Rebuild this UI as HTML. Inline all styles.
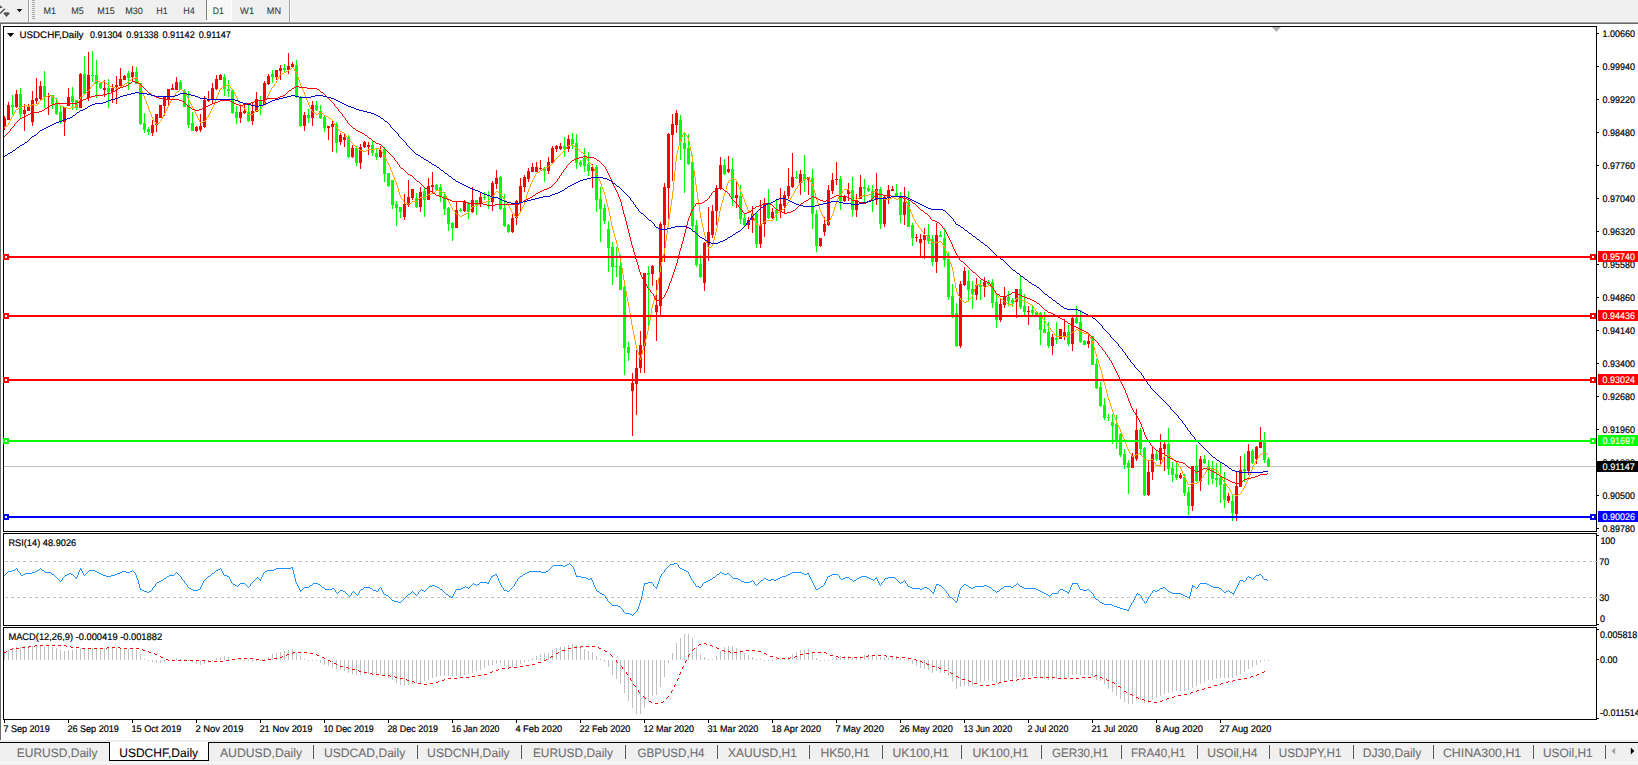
<!DOCTYPE html><html><head><meta charset="utf-8"><title>USDCHF,Daily</title><style>html,body{margin:0;padding:0;background:#f0f0f0;overflow:hidden}body{width:1638px;height:765px;font-family:"Liberation Sans",sans-serif}</style></head><body><svg width="1638" height="765" viewBox="0 0 1638 765" shape-rendering="crispEdges" text-rendering="geometricPrecision" font-family="Liberation Sans, sans-serif" style="display:block">
<rect x="0" y="0" width="1638" height="765" fill="#f0f0f0"/>
<rect x="0" y="21" width="1638" height="1" fill="#f5f5f5"/>
<rect x="0" y="22" width="1638" height="1" fill="#a0a0a0"/>
<rect x="0" y="23" width="1638" height="1" fill="#696969"/>
<rect x="0" y="24" width="1638" height="716" fill="#ffffff"/>
<rect x="0" y="24" width="1" height="716" fill="#696969"/>
<g shape-rendering="geometricPrecision">
<path d="M0 5.2 L2.8 7.4 L0 8.2 Z" fill="#555"/>
<path d="M0 12.6 L4.3 8.2 L5.3 9.2 L0.9 13.8 L0 13.8 Z" fill="#555"/>
<path d="M3.2 13.3 L5.4 11.9 L6.4 12.6 L7.6 11.9 L10 13.3 L6.5 17 Z" fill="#555"/>
<path d="M16.7 8.9 L22.3 8.9 L19.5 12.3 Z" fill="#111"/>
</g>
<rect x="28" y="0" width="1" height="22" fill="#a0a0a0"/>
<rect x="29" y="0" width="1" height="22" fill="#ffffff"/>
<rect x="32" y="0" width="3" height="1" fill="#a8a8a8"/>
<rect x="32" y="2" width="3" height="1" fill="#a8a8a8"/>
<rect x="32" y="4" width="3" height="1" fill="#a8a8a8"/>
<rect x="32" y="6" width="3" height="1" fill="#a8a8a8"/>
<rect x="32" y="8" width="3" height="1" fill="#a8a8a8"/>
<rect x="32" y="10" width="3" height="1" fill="#a8a8a8"/>
<rect x="32" y="12" width="3" height="1" fill="#a8a8a8"/>
<rect x="32" y="14" width="3" height="1" fill="#a8a8a8"/>
<rect x="32" y="16" width="3" height="1" fill="#a8a8a8"/>
<rect x="32" y="18" width="3" height="1" fill="#a8a8a8"/>
<rect x="206" y="0" width="1" height="20" fill="#808080"/>
<rect x="207" y="0" width="24" height="20" fill="#f8f8f8"/>
<rect x="231" y="0" width="1" height="21" fill="#ffffff"/>
<rect x="207" y="20" width="25" height="1" fill="#ffffff"/>
<rect x="289" y="0" width="1" height="22" fill="#a0a0a0"/>
<rect x="290" y="0" width="1" height="22" fill="#ffffff"/>
<text x="43.6" y="13.8" font-size="9.3" fill="#3c3c3c" textLength="12.5" lengthAdjust="spacingAndGlyphs"  stroke="#3c3c3c" stroke-width="0.1">M1</text>
<text x="71.3" y="13.8" font-size="9.3" fill="#3c3c3c" textLength="12.5" lengthAdjust="spacingAndGlyphs"  stroke="#3c3c3c" stroke-width="0.1">M5</text>
<text x="97.3" y="13.8" font-size="9.3" fill="#3c3c3c" textLength="17.5" lengthAdjust="spacingAndGlyphs"  stroke="#3c3c3c" stroke-width="0.1">M15</text>
<text x="125.2" y="13.8" font-size="9.3" fill="#3c3c3c" textLength="17.5" lengthAdjust="spacingAndGlyphs"  stroke="#3c3c3c" stroke-width="0.1">M30</text>
<text x="156.2" y="13.8" font-size="9.3" fill="#3c3c3c" textLength="11.5" lengthAdjust="spacingAndGlyphs"  stroke="#3c3c3c" stroke-width="0.1">H1</text>
<text x="183.3" y="13.8" font-size="9.3" fill="#3c3c3c" textLength="11.5" lengthAdjust="spacingAndGlyphs"  stroke="#3c3c3c" stroke-width="0.1">H4</text>
<text x="212.8" y="13.8" font-size="9.3" fill="#3c3c3c" textLength="11.1" lengthAdjust="spacingAndGlyphs"  stroke="#3c3c3c" stroke-width="0.1">D1</text>
<text x="240.1" y="13.8" font-size="9.3" fill="#3c3c3c" textLength="14" lengthAdjust="spacingAndGlyphs"  stroke="#3c3c3c" stroke-width="0.1">W1</text>
<text x="266.8" y="13.8" font-size="9.3" fill="#3c3c3c" textLength="14.2" lengthAdjust="spacingAndGlyphs"  stroke="#3c3c3c" stroke-width="0.1">MN</text>
<rect x="3" y="26" width="1594" height="1" fill="#000"/>
<rect x="3" y="26" width="1" height="506" fill="#000"/>
<rect x="1596" y="26" width="1" height="506" fill="#000"/>
<rect x="3" y="531" width="1594" height="1" fill="#000"/>
<rect x="3" y="533" width="1594" height="1" fill="#000"/>
<rect x="3" y="533" width="1" height="93" fill="#000"/>
<rect x="1596" y="533" width="1" height="93" fill="#000"/>
<rect x="3" y="625" width="1594" height="1" fill="#000"/>
<rect x="3" y="627" width="1594" height="1" fill="#000"/>
<rect x="3" y="627" width="1" height="93" fill="#000"/>
<rect x="1596" y="627" width="1" height="93" fill="#000"/>
<rect x="3" y="719" width="1594" height="1" fill="#000"/>
<rect x="4" y="466" width="1592" height="1" fill="#c0c0c0"/>
<g>
<rect x="4" y="116" width="1" height="14" fill="#ff0000"/>
<rect x="4" y="118" width="2" height="8" fill="#ff0000"/>
<rect x="8" y="102" width="1" height="18" fill="#ff0000"/>
<rect x="7" y="105" width="3" height="15" fill="#ff0000"/>
<rect x="12" y="95" width="1" height="20" fill="#00ff00"/>
<rect x="11" y="105" width="3" height="2" fill="#00ff00"/>
<rect x="16" y="90" width="1" height="18" fill="#ff0000"/>
<rect x="15" y="94" width="3" height="13" fill="#ff0000"/>
<rect x="20" y="88" width="1" height="30" fill="#00ff00"/>
<rect x="19" y="94" width="3" height="20" fill="#00ff00"/>
<rect x="24" y="104" width="1" height="27" fill="#ff0000"/>
<rect x="23" y="110" width="3" height="4" fill="#ff0000"/>
<rect x="28" y="104" width="1" height="7" fill="#ff0000"/>
<rect x="27" y="106" width="3" height="5" fill="#ff0000"/>
<rect x="32" y="91" width="1" height="35" fill="#ff0000"/>
<rect x="31" y="100" width="3" height="22" fill="#ff0000"/>
<rect x="36" y="78" width="1" height="26" fill="#ff0000"/>
<rect x="35" y="98" width="3" height="3" fill="#ff0000"/>
<rect x="40" y="81" width="1" height="19" fill="#ff0000"/>
<rect x="39" y="86" width="3" height="13" fill="#ff0000"/>
<rect x="44" y="71" width="1" height="37" fill="#00ff00"/>
<rect x="43" y="86" width="3" height="11" fill="#00ff00"/>
<rect x="48" y="93" width="1" height="22" fill="#ff0000"/>
<rect x="47" y="96" width="3" height="1" fill="#ff0000"/>
<rect x="52" y="95" width="1" height="14" fill="#00ff00"/>
<rect x="51" y="95" width="3" height="9" fill="#00ff00"/>
<rect x="56" y="98" width="1" height="17" fill="#00ff00"/>
<rect x="55" y="104" width="3" height="10" fill="#00ff00"/>
<rect x="60" y="106" width="1" height="18" fill="#00ff00"/>
<rect x="59" y="112" width="3" height="9" fill="#00ff00"/>
<rect x="64" y="107" width="1" height="29" fill="#ff0000"/>
<rect x="63" y="107" width="3" height="15" fill="#ff0000"/>
<rect x="68" y="88" width="1" height="18" fill="#ff0000"/>
<rect x="67" y="97" width="3" height="9" fill="#ff0000"/>
<rect x="72" y="87" width="1" height="23" fill="#00ff00"/>
<rect x="71" y="96" width="3" height="6" fill="#00ff00"/>
<rect x="76" y="100" width="1" height="10" fill="#00ff00"/>
<rect x="75" y="100" width="3" height="8" fill="#00ff00"/>
<rect x="80" y="73" width="1" height="35" fill="#ff0000"/>
<rect x="79" y="74" width="3" height="34" fill="#ff0000"/>
<rect x="84" y="56" width="1" height="38" fill="#00ff00"/>
<rect x="83" y="74" width="3" height="20" fill="#00ff00"/>
<rect x="88" y="52" width="1" height="49" fill="#ff0000"/>
<rect x="87" y="75" width="3" height="23" fill="#ff0000"/>
<rect x="92" y="51" width="1" height="31" fill="#00ff00"/>
<rect x="91" y="75" width="3" height="1" fill="#00ff00"/>
<rect x="96" y="60" width="1" height="38" fill="#00ff00"/>
<rect x="95" y="75" width="3" height="9" fill="#00ff00"/>
<rect x="100" y="82" width="1" height="7" fill="#00ff00"/>
<rect x="99" y="83" width="3" height="5" fill="#00ff00"/>
<rect x="104" y="80" width="1" height="17" fill="#ff0000"/>
<rect x="103" y="88" width="3" height="2" fill="#ff0000"/>
<rect x="108" y="79" width="1" height="29" fill="#00ff00"/>
<rect x="107" y="88" width="3" height="4" fill="#00ff00"/>
<rect x="112" y="84" width="1" height="19" fill="#ff0000"/>
<rect x="111" y="88" width="3" height="4" fill="#ff0000"/>
<rect x="116" y="76" width="1" height="28" fill="#ff0000"/>
<rect x="115" y="85" width="3" height="2" fill="#ff0000"/>
<rect x="120" y="68" width="1" height="18" fill="#ff0000"/>
<rect x="119" y="79" width="3" height="7" fill="#ff0000"/>
<rect x="124" y="75" width="1" height="5" fill="#ff0000"/>
<rect x="123" y="76" width="3" height="4" fill="#ff0000"/>
<rect x="128" y="71" width="1" height="19" fill="#00ff00"/>
<rect x="127" y="73" width="3" height="5" fill="#00ff00"/>
<rect x="132" y="66" width="1" height="15" fill="#ff0000"/>
<rect x="131" y="72" width="3" height="5" fill="#ff0000"/>
<rect x="136" y="67" width="1" height="17" fill="#00ff00"/>
<rect x="135" y="72" width="3" height="12" fill="#00ff00"/>
<rect x="140" y="83" width="1" height="42" fill="#00ff00"/>
<rect x="139" y="83" width="3" height="41" fill="#00ff00"/>
<rect x="144" y="113" width="1" height="20" fill="#00ff00"/>
<rect x="143" y="123" width="3" height="7" fill="#00ff00"/>
<rect x="148" y="127" width="1" height="8" fill="#00ff00"/>
<rect x="147" y="129" width="3" height="3" fill="#00ff00"/>
<rect x="152" y="120" width="1" height="16" fill="#ff0000"/>
<rect x="151" y="125" width="3" height="8" fill="#ff0000"/>
<rect x="156" y="114" width="1" height="18" fill="#ff0000"/>
<rect x="155" y="114" width="3" height="11" fill="#ff0000"/>
<rect x="160" y="105" width="1" height="13" fill="#ff0000"/>
<rect x="159" y="105" width="3" height="13" fill="#ff0000"/>
<rect x="164" y="96" width="1" height="20" fill="#ff0000"/>
<rect x="163" y="97" width="3" height="9" fill="#ff0000"/>
<rect x="168" y="89" width="1" height="17" fill="#ff0000"/>
<rect x="167" y="89" width="3" height="11" fill="#ff0000"/>
<rect x="172" y="84" width="1" height="6" fill="#ff0000"/>
<rect x="171" y="88" width="3" height="2" fill="#ff0000"/>
<rect x="176" y="77" width="1" height="13" fill="#ff0000"/>
<rect x="175" y="82" width="3" height="8" fill="#ff0000"/>
<rect x="180" y="80" width="1" height="10" fill="#00ff00"/>
<rect x="179" y="82" width="3" height="8" fill="#00ff00"/>
<rect x="184" y="89" width="1" height="18" fill="#00ff00"/>
<rect x="183" y="91" width="3" height="16" fill="#00ff00"/>
<rect x="188" y="91" width="1" height="37" fill="#00ff00"/>
<rect x="187" y="105" width="3" height="20" fill="#00ff00"/>
<rect x="192" y="112" width="1" height="19" fill="#00ff00"/>
<rect x="191" y="123" width="3" height="8" fill="#00ff00"/>
<rect x="196" y="126" width="1" height="6" fill="#ff0000"/>
<rect x="195" y="127" width="3" height="4" fill="#ff0000"/>
<rect x="200" y="114" width="1" height="18" fill="#ff0000"/>
<rect x="199" y="126" width="3" height="4" fill="#ff0000"/>
<rect x="204" y="96" width="1" height="32" fill="#ff0000"/>
<rect x="203" y="100" width="3" height="27" fill="#ff0000"/>
<rect x="208" y="91" width="1" height="11" fill="#ff0000"/>
<rect x="207" y="99" width="3" height="2" fill="#ff0000"/>
<rect x="212" y="83" width="1" height="21" fill="#ff0000"/>
<rect x="211" y="88" width="3" height="12" fill="#ff0000"/>
<rect x="216" y="75" width="1" height="15" fill="#ff0000"/>
<rect x="215" y="79" width="3" height="10" fill="#ff0000"/>
<rect x="220" y="74" width="1" height="6" fill="#ff0000"/>
<rect x="219" y="75" width="3" height="5" fill="#ff0000"/>
<rect x="224" y="74" width="1" height="22" fill="#00ff00"/>
<rect x="223" y="77" width="3" height="12" fill="#00ff00"/>
<rect x="228" y="80" width="1" height="17" fill="#00ff00"/>
<rect x="227" y="89" width="3" height="2" fill="#00ff00"/>
<rect x="232" y="90" width="1" height="24" fill="#00ff00"/>
<rect x="231" y="90" width="3" height="23" fill="#00ff00"/>
<rect x="236" y="106" width="1" height="18" fill="#00ff00"/>
<rect x="235" y="112" width="3" height="6" fill="#00ff00"/>
<rect x="240" y="105" width="1" height="18" fill="#ff0000"/>
<rect x="239" y="112" width="3" height="6" fill="#ff0000"/>
<rect x="244" y="104" width="1" height="10" fill="#ff0000"/>
<rect x="243" y="111" width="3" height="2" fill="#ff0000"/>
<rect x="248" y="105" width="1" height="17" fill="#00ff00"/>
<rect x="247" y="112" width="3" height="9" fill="#00ff00"/>
<rect x="252" y="102" width="1" height="23" fill="#ff0000"/>
<rect x="251" y="111" width="3" height="10" fill="#ff0000"/>
<rect x="256" y="92" width="1" height="20" fill="#ff0000"/>
<rect x="255" y="99" width="3" height="13" fill="#ff0000"/>
<rect x="260" y="96" width="1" height="19" fill="#00ff00"/>
<rect x="259" y="100" width="3" height="5" fill="#00ff00"/>
<rect x="264" y="81" width="1" height="24" fill="#ff0000"/>
<rect x="263" y="83" width="3" height="22" fill="#ff0000"/>
<rect x="268" y="74" width="1" height="11" fill="#ff0000"/>
<rect x="267" y="76" width="3" height="8" fill="#ff0000"/>
<rect x="272" y="70" width="1" height="13" fill="#00ff00"/>
<rect x="271" y="74" width="3" height="3" fill="#00ff00"/>
<rect x="276" y="70" width="1" height="10" fill="#ff0000"/>
<rect x="275" y="70" width="3" height="7" fill="#ff0000"/>
<rect x="280" y="65" width="1" height="15" fill="#ff0000"/>
<rect x="279" y="68" width="3" height="3" fill="#ff0000"/>
<rect x="284" y="64" width="1" height="8" fill="#00ff00"/>
<rect x="283" y="68" width="3" height="2" fill="#00ff00"/>
<rect x="288" y="53" width="1" height="21" fill="#ff0000"/>
<rect x="287" y="66" width="3" height="4" fill="#ff0000"/>
<rect x="292" y="62" width="1" height="5" fill="#ff0000"/>
<rect x="291" y="64" width="3" height="3" fill="#ff0000"/>
<rect x="296" y="60" width="1" height="38" fill="#00ff00"/>
<rect x="295" y="65" width="3" height="31" fill="#00ff00"/>
<rect x="300" y="96" width="1" height="31" fill="#00ff00"/>
<rect x="299" y="97" width="3" height="29" fill="#00ff00"/>
<rect x="304" y="112" width="1" height="19" fill="#ff0000"/>
<rect x="303" y="115" width="3" height="11" fill="#ff0000"/>
<rect x="308" y="109" width="1" height="14" fill="#00ff00"/>
<rect x="307" y="115" width="3" height="3" fill="#00ff00"/>
<rect x="312" y="101" width="1" height="25" fill="#ff0000"/>
<rect x="311" y="105" width="3" height="13" fill="#ff0000"/>
<rect x="316" y="101" width="1" height="10" fill="#00ff00"/>
<rect x="315" y="105" width="3" height="5" fill="#00ff00"/>
<rect x="320" y="105" width="1" height="14" fill="#00ff00"/>
<rect x="319" y="111" width="3" height="7" fill="#00ff00"/>
<rect x="324" y="116" width="1" height="16" fill="#00ff00"/>
<rect x="323" y="117" width="3" height="11" fill="#00ff00"/>
<rect x="328" y="126" width="1" height="14" fill="#ff0000"/>
<rect x="327" y="126" width="3" height="2" fill="#ff0000"/>
<rect x="332" y="121" width="1" height="31" fill="#ff0000"/>
<rect x="331" y="124" width="3" height="3" fill="#ff0000"/>
<rect x="336" y="122" width="1" height="31" fill="#00ff00"/>
<rect x="335" y="124" width="3" height="19" fill="#00ff00"/>
<rect x="340" y="133" width="1" height="12" fill="#ff0000"/>
<rect x="339" y="135" width="3" height="7" fill="#ff0000"/>
<rect x="344" y="134" width="1" height="13" fill="#ff0000"/>
<rect x="343" y="137" width="3" height="3" fill="#ff0000"/>
<rect x="348" y="135" width="1" height="23" fill="#00ff00"/>
<rect x="347" y="137" width="3" height="20" fill="#00ff00"/>
<rect x="352" y="145" width="1" height="13" fill="#ff0000"/>
<rect x="351" y="148" width="3" height="9" fill="#ff0000"/>
<rect x="356" y="146" width="1" height="20" fill="#00ff00"/>
<rect x="355" y="148" width="3" height="15" fill="#00ff00"/>
<rect x="360" y="144" width="1" height="25" fill="#ff0000"/>
<rect x="359" y="147" width="3" height="16" fill="#ff0000"/>
<rect x="364" y="141" width="1" height="7" fill="#ff0000"/>
<rect x="363" y="142" width="3" height="5" fill="#ff0000"/>
<rect x="368" y="142" width="1" height="13" fill="#ff0000"/>
<rect x="367" y="145" width="3" height="2" fill="#ff0000"/>
<rect x="372" y="140" width="1" height="16" fill="#00ff00"/>
<rect x="371" y="145" width="3" height="8" fill="#00ff00"/>
<rect x="376" y="149" width="1" height="11" fill="#00ff00"/>
<rect x="375" y="153" width="3" height="4" fill="#00ff00"/>
<rect x="380" y="146" width="1" height="12" fill="#ff0000"/>
<rect x="379" y="150" width="3" height="7" fill="#ff0000"/>
<rect x="384" y="147" width="1" height="35" fill="#00ff00"/>
<rect x="383" y="149" width="3" height="25" fill="#00ff00"/>
<rect x="388" y="173" width="1" height="14" fill="#00ff00"/>
<rect x="387" y="173" width="3" height="13" fill="#00ff00"/>
<rect x="392" y="180" width="1" height="29" fill="#00ff00"/>
<rect x="391" y="180" width="3" height="25" fill="#00ff00"/>
<rect x="396" y="201" width="1" height="25" fill="#00ff00"/>
<rect x="395" y="204" width="3" height="4" fill="#00ff00"/>
<rect x="400" y="207" width="1" height="11" fill="#00ff00"/>
<rect x="399" y="207" width="3" height="5" fill="#00ff00"/>
<rect x="404" y="194" width="1" height="26" fill="#ff0000"/>
<rect x="403" y="204" width="3" height="13" fill="#ff0000"/>
<rect x="408" y="180" width="1" height="27" fill="#ff0000"/>
<rect x="407" y="197" width="3" height="8" fill="#ff0000"/>
<rect x="412" y="189" width="1" height="11" fill="#ff0000"/>
<rect x="411" y="189" width="3" height="9" fill="#ff0000"/>
<rect x="416" y="193" width="1" height="15" fill="#00ff00"/>
<rect x="415" y="198" width="3" height="9" fill="#00ff00"/>
<rect x="420" y="187" width="1" height="25" fill="#ff0000"/>
<rect x="419" y="192" width="3" height="15" fill="#ff0000"/>
<rect x="424" y="188" width="1" height="29" fill="#00ff00"/>
<rect x="423" y="191" width="3" height="9" fill="#00ff00"/>
<rect x="428" y="178" width="1" height="22" fill="#ff0000"/>
<rect x="427" y="186" width="3" height="14" fill="#ff0000"/>
<rect x="432" y="172" width="1" height="20" fill="#ff0000"/>
<rect x="431" y="185" width="3" height="2" fill="#ff0000"/>
<rect x="436" y="184" width="1" height="7" fill="#00ff00"/>
<rect x="435" y="185" width="3" height="5" fill="#00ff00"/>
<rect x="440" y="184" width="1" height="18" fill="#00ff00"/>
<rect x="439" y="187" width="3" height="10" fill="#00ff00"/>
<rect x="444" y="192" width="1" height="23" fill="#00ff00"/>
<rect x="443" y="196" width="3" height="13" fill="#00ff00"/>
<rect x="448" y="207" width="1" height="24" fill="#00ff00"/>
<rect x="447" y="208" width="3" height="16" fill="#00ff00"/>
<rect x="452" y="222" width="1" height="19" fill="#00ff00"/>
<rect x="451" y="223" width="3" height="5" fill="#00ff00"/>
<rect x="456" y="202" width="1" height="26" fill="#ff0000"/>
<rect x="455" y="210" width="3" height="18" fill="#ff0000"/>
<rect x="460" y="208" width="1" height="4" fill="#00ff00"/>
<rect x="459" y="210" width="3" height="1" fill="#00ff00"/>
<rect x="464" y="200" width="1" height="12" fill="#ff0000"/>
<rect x="463" y="202" width="3" height="9" fill="#ff0000"/>
<rect x="468" y="202" width="1" height="17" fill="#00ff00"/>
<rect x="467" y="203" width="3" height="9" fill="#00ff00"/>
<rect x="472" y="187" width="1" height="26" fill="#ff0000"/>
<rect x="471" y="200" width="3" height="12" fill="#ff0000"/>
<rect x="476" y="200" width="1" height="15" fill="#00ff00"/>
<rect x="475" y="200" width="3" height="5" fill="#00ff00"/>
<rect x="480" y="192" width="1" height="15" fill="#ff0000"/>
<rect x="479" y="197" width="3" height="7" fill="#ff0000"/>
<rect x="484" y="192" width="1" height="8" fill="#00ff00"/>
<rect x="483" y="197" width="3" height="1" fill="#00ff00"/>
<rect x="488" y="191" width="1" height="18" fill="#00ff00"/>
<rect x="487" y="201" width="3" height="1" fill="#00ff00"/>
<rect x="492" y="181" width="1" height="30" fill="#ff0000"/>
<rect x="491" y="183" width="3" height="19" fill="#ff0000"/>
<rect x="496" y="170" width="1" height="19" fill="#ff0000"/>
<rect x="495" y="178" width="3" height="6" fill="#ff0000"/>
<rect x="500" y="176" width="1" height="34" fill="#00ff00"/>
<rect x="499" y="177" width="3" height="32" fill="#00ff00"/>
<rect x="504" y="194" width="1" height="33" fill="#00ff00"/>
<rect x="503" y="208" width="3" height="18" fill="#00ff00"/>
<rect x="508" y="224" width="1" height="9" fill="#00ff00"/>
<rect x="507" y="225" width="3" height="7" fill="#00ff00"/>
<rect x="512" y="214" width="1" height="19" fill="#ff0000"/>
<rect x="511" y="218" width="3" height="14" fill="#ff0000"/>
<rect x="516" y="200" width="1" height="25" fill="#ff0000"/>
<rect x="515" y="201" width="3" height="17" fill="#ff0000"/>
<rect x="520" y="178" width="1" height="33" fill="#ff0000"/>
<rect x="519" y="186" width="3" height="16" fill="#ff0000"/>
<rect x="524" y="175" width="1" height="17" fill="#ff0000"/>
<rect x="523" y="177" width="3" height="10" fill="#ff0000"/>
<rect x="528" y="168" width="1" height="14" fill="#ff0000"/>
<rect x="527" y="171" width="3" height="8" fill="#ff0000"/>
<rect x="532" y="163" width="1" height="9" fill="#ff0000"/>
<rect x="531" y="167" width="3" height="5" fill="#ff0000"/>
<rect x="536" y="162" width="1" height="10" fill="#ff0000"/>
<rect x="535" y="167" width="3" height="5" fill="#ff0000"/>
<rect x="540" y="160" width="1" height="11" fill="#ff0000"/>
<rect x="539" y="168" width="3" height="1" fill="#ff0000"/>
<rect x="544" y="167" width="1" height="15" fill="#00ff00"/>
<rect x="543" y="168" width="3" height="3" fill="#00ff00"/>
<rect x="548" y="157" width="1" height="17" fill="#ff0000"/>
<rect x="547" y="162" width="3" height="9" fill="#ff0000"/>
<rect x="552" y="146" width="1" height="18" fill="#ff0000"/>
<rect x="551" y="148" width="3" height="15" fill="#ff0000"/>
<rect x="556" y="145" width="1" height="7" fill="#ff0000"/>
<rect x="555" y="146" width="3" height="3" fill="#ff0000"/>
<rect x="560" y="143" width="1" height="7" fill="#ff0000"/>
<rect x="559" y="146" width="3" height="3" fill="#ff0000"/>
<rect x="564" y="137" width="1" height="20" fill="#00ff00"/>
<rect x="563" y="146" width="3" height="3" fill="#00ff00"/>
<rect x="568" y="135" width="1" height="17" fill="#ff0000"/>
<rect x="567" y="139" width="3" height="10" fill="#ff0000"/>
<rect x="572" y="133" width="1" height="16" fill="#00ff00"/>
<rect x="571" y="139" width="3" height="5" fill="#00ff00"/>
<rect x="576" y="134" width="1" height="35" fill="#00ff00"/>
<rect x="575" y="143" width="3" height="20" fill="#00ff00"/>
<rect x="580" y="160" width="1" height="7" fill="#00ff00"/>
<rect x="579" y="162" width="3" height="3" fill="#00ff00"/>
<rect x="584" y="148" width="1" height="24" fill="#00ff00"/>
<rect x="583" y="158" width="3" height="8" fill="#00ff00"/>
<rect x="588" y="152" width="1" height="24" fill="#00ff00"/>
<rect x="587" y="164" width="3" height="7" fill="#00ff00"/>
<rect x="592" y="164" width="1" height="24" fill="#ff0000"/>
<rect x="591" y="167" width="3" height="4" fill="#ff0000"/>
<rect x="596" y="165" width="1" height="47" fill="#00ff00"/>
<rect x="595" y="167" width="3" height="33" fill="#00ff00"/>
<rect x="600" y="187" width="1" height="55" fill="#00ff00"/>
<rect x="599" y="199" width="3" height="10" fill="#00ff00"/>
<rect x="604" y="204" width="1" height="20" fill="#00ff00"/>
<rect x="603" y="208" width="3" height="13" fill="#00ff00"/>
<rect x="608" y="221" width="1" height="51" fill="#00ff00"/>
<rect x="607" y="229" width="3" height="19" fill="#00ff00"/>
<rect x="612" y="242" width="1" height="43" fill="#00ff00"/>
<rect x="611" y="247" width="3" height="20" fill="#00ff00"/>
<rect x="616" y="247" width="1" height="30" fill="#00ff00"/>
<rect x="615" y="266" width="3" height="1" fill="#00ff00"/>
<rect x="620" y="255" width="1" height="35" fill="#00ff00"/>
<rect x="619" y="266" width="3" height="24" fill="#00ff00"/>
<rect x="624" y="285" width="1" height="90" fill="#00ff00"/>
<rect x="623" y="287" width="3" height="61" fill="#00ff00"/>
<rect x="628" y="342" width="1" height="19" fill="#00ff00"/>
<rect x="627" y="347" width="3" height="6" fill="#00ff00"/>
<rect x="632" y="373" width="1" height="63" fill="#ff0000"/>
<rect x="631" y="383" width="3" height="8" fill="#ff0000"/>
<rect x="636" y="350" width="1" height="65" fill="#ff0000"/>
<rect x="635" y="368" width="3" height="16" fill="#ff0000"/>
<rect x="640" y="331" width="1" height="42" fill="#ff0000"/>
<rect x="639" y="345" width="3" height="23" fill="#ff0000"/>
<rect x="644" y="273" width="1" height="100" fill="#ff0000"/>
<rect x="643" y="273" width="3" height="73" fill="#ff0000"/>
<rect x="648" y="266" width="1" height="60" fill="#00ff00"/>
<rect x="647" y="273" width="3" height="2" fill="#00ff00"/>
<rect x="652" y="265" width="1" height="21" fill="#ff0000"/>
<rect x="651" y="266" width="3" height="8" fill="#ff0000"/>
<rect x="656" y="280" width="1" height="61" fill="#ff0000"/>
<rect x="655" y="305" width="3" height="7" fill="#ff0000"/>
<rect x="660" y="222" width="1" height="94" fill="#ff0000"/>
<rect x="659" y="224" width="3" height="82" fill="#ff0000"/>
<rect x="664" y="183" width="1" height="79" fill="#ff0000"/>
<rect x="663" y="187" width="3" height="38" fill="#ff0000"/>
<rect x="668" y="133" width="1" height="86" fill="#ff0000"/>
<rect x="667" y="134" width="3" height="54" fill="#ff0000"/>
<rect x="672" y="114" width="1" height="67" fill="#ff0000"/>
<rect x="671" y="124" width="3" height="11" fill="#ff0000"/>
<rect x="676" y="110" width="1" height="23" fill="#ff0000"/>
<rect x="675" y="113" width="3" height="12" fill="#ff0000"/>
<rect x="680" y="115" width="1" height="45" fill="#00ff00"/>
<rect x="679" y="120" width="3" height="22" fill="#00ff00"/>
<rect x="684" y="133" width="1" height="60" fill="#00ff00"/>
<rect x="683" y="143" width="3" height="6" fill="#00ff00"/>
<rect x="688" y="134" width="1" height="31" fill="#00ff00"/>
<rect x="687" y="148" width="3" height="16" fill="#00ff00"/>
<rect x="692" y="155" width="1" height="77" fill="#00ff00"/>
<rect x="691" y="162" width="3" height="64" fill="#00ff00"/>
<rect x="696" y="220" width="1" height="47" fill="#00ff00"/>
<rect x="695" y="225" width="3" height="40" fill="#00ff00"/>
<rect x="700" y="255" width="1" height="23" fill="#00ff00"/>
<rect x="699" y="264" width="3" height="13" fill="#00ff00"/>
<rect x="704" y="242" width="1" height="49" fill="#ff0000"/>
<rect x="703" y="243" width="3" height="40" fill="#ff0000"/>
<rect x="708" y="207" width="1" height="54" fill="#ff0000"/>
<rect x="707" y="232" width="3" height="13" fill="#ff0000"/>
<rect x="712" y="205" width="1" height="33" fill="#ff0000"/>
<rect x="711" y="211" width="3" height="24" fill="#ff0000"/>
<rect x="716" y="185" width="1" height="40" fill="#ff0000"/>
<rect x="715" y="188" width="3" height="23" fill="#ff0000"/>
<rect x="720" y="157" width="1" height="33" fill="#ff0000"/>
<rect x="719" y="165" width="3" height="24" fill="#ff0000"/>
<rect x="724" y="159" width="1" height="16" fill="#00ff00"/>
<rect x="723" y="165" width="3" height="9" fill="#00ff00"/>
<rect x="728" y="156" width="1" height="17" fill="#ff0000"/>
<rect x="727" y="169" width="3" height="3" fill="#ff0000"/>
<rect x="732" y="158" width="1" height="48" fill="#00ff00"/>
<rect x="731" y="169" width="3" height="29" fill="#00ff00"/>
<rect x="736" y="182" width="1" height="26" fill="#ff0000"/>
<rect x="735" y="195" width="3" height="3" fill="#ff0000"/>
<rect x="740" y="185" width="1" height="39" fill="#00ff00"/>
<rect x="739" y="196" width="3" height="23" fill="#00ff00"/>
<rect x="744" y="214" width="1" height="12" fill="#00ff00"/>
<rect x="743" y="218" width="3" height="7" fill="#00ff00"/>
<rect x="748" y="217" width="1" height="12" fill="#ff0000"/>
<rect x="747" y="220" width="3" height="5" fill="#ff0000"/>
<rect x="752" y="206" width="1" height="27" fill="#ff0000"/>
<rect x="751" y="214" width="3" height="6" fill="#ff0000"/>
<rect x="756" y="212" width="1" height="36" fill="#00ff00"/>
<rect x="755" y="214" width="3" height="30" fill="#00ff00"/>
<rect x="760" y="200" width="1" height="48" fill="#ff0000"/>
<rect x="759" y="225" width="3" height="19" fill="#ff0000"/>
<rect x="764" y="198" width="1" height="39" fill="#ff0000"/>
<rect x="763" y="203" width="3" height="21" fill="#ff0000"/>
<rect x="768" y="189" width="1" height="30" fill="#00ff00"/>
<rect x="767" y="203" width="3" height="15" fill="#00ff00"/>
<rect x="772" y="208" width="1" height="11" fill="#ff0000"/>
<rect x="771" y="212" width="3" height="6" fill="#ff0000"/>
<rect x="776" y="200" width="1" height="21" fill="#00ff00"/>
<rect x="775" y="210" width="3" height="4" fill="#00ff00"/>
<rect x="780" y="188" width="1" height="30" fill="#ff0000"/>
<rect x="779" y="204" width="3" height="8" fill="#ff0000"/>
<rect x="784" y="191" width="1" height="22" fill="#ff0000"/>
<rect x="783" y="195" width="3" height="11" fill="#ff0000"/>
<rect x="788" y="168" width="1" height="31" fill="#ff0000"/>
<rect x="787" y="186" width="3" height="10" fill="#ff0000"/>
<rect x="792" y="153" width="1" height="35" fill="#ff0000"/>
<rect x="791" y="177" width="3" height="10" fill="#ff0000"/>
<rect x="796" y="171" width="1" height="8" fill="#00ff00"/>
<rect x="795" y="177" width="3" height="1" fill="#00ff00"/>
<rect x="800" y="170" width="1" height="25" fill="#ff0000"/>
<rect x="799" y="174" width="3" height="9" fill="#ff0000"/>
<rect x="804" y="155" width="1" height="37" fill="#00ff00"/>
<rect x="803" y="174" width="3" height="6" fill="#00ff00"/>
<rect x="808" y="177" width="1" height="18" fill="#ff0000"/>
<rect x="807" y="177" width="3" height="3" fill="#ff0000"/>
<rect x="812" y="169" width="1" height="60" fill="#00ff00"/>
<rect x="811" y="178" width="3" height="36" fill="#00ff00"/>
<rect x="816" y="210" width="1" height="42" fill="#00ff00"/>
<rect x="815" y="214" width="3" height="32" fill="#00ff00"/>
<rect x="820" y="238" width="1" height="9" fill="#ff0000"/>
<rect x="819" y="238" width="3" height="8" fill="#ff0000"/>
<rect x="824" y="217" width="1" height="19" fill="#ff0000"/>
<rect x="823" y="224" width="3" height="8" fill="#ff0000"/>
<rect x="828" y="185" width="1" height="41" fill="#ff0000"/>
<rect x="827" y="190" width="3" height="35" fill="#ff0000"/>
<rect x="832" y="173" width="1" height="21" fill="#ff0000"/>
<rect x="831" y="180" width="3" height="11" fill="#ff0000"/>
<rect x="836" y="162" width="1" height="23" fill="#ff0000"/>
<rect x="835" y="179" width="3" height="1" fill="#ff0000"/>
<rect x="840" y="176" width="1" height="34" fill="#00ff00"/>
<rect x="839" y="179" width="3" height="22" fill="#00ff00"/>
<rect x="844" y="195" width="1" height="7" fill="#ff0000"/>
<rect x="843" y="197" width="3" height="4" fill="#ff0000"/>
<rect x="848" y="183" width="1" height="18" fill="#ff0000"/>
<rect x="847" y="190" width="3" height="4" fill="#ff0000"/>
<rect x="852" y="177" width="1" height="40" fill="#00ff00"/>
<rect x="851" y="190" width="3" height="20" fill="#00ff00"/>
<rect x="856" y="194" width="1" height="23" fill="#ff0000"/>
<rect x="855" y="200" width="3" height="10" fill="#ff0000"/>
<rect x="860" y="175" width="1" height="24" fill="#ff0000"/>
<rect x="859" y="187" width="3" height="12" fill="#ff0000"/>
<rect x="864" y="179" width="1" height="25" fill="#00ff00"/>
<rect x="863" y="187" width="3" height="2" fill="#00ff00"/>
<rect x="868" y="185" width="1" height="7" fill="#00ff00"/>
<rect x="867" y="188" width="3" height="3" fill="#00ff00"/>
<rect x="872" y="185" width="1" height="27" fill="#00ff00"/>
<rect x="871" y="191" width="3" height="8" fill="#00ff00"/>
<rect x="876" y="173" width="1" height="32" fill="#ff0000"/>
<rect x="875" y="189" width="3" height="11" fill="#ff0000"/>
<rect x="880" y="187" width="1" height="42" fill="#00ff00"/>
<rect x="879" y="189" width="3" height="35" fill="#00ff00"/>
<rect x="884" y="196" width="1" height="31" fill="#ff0000"/>
<rect x="883" y="197" width="3" height="27" fill="#ff0000"/>
<rect x="888" y="185" width="1" height="19" fill="#ff0000"/>
<rect x="887" y="190" width="3" height="7" fill="#ff0000"/>
<rect x="892" y="186" width="1" height="5" fill="#ff0000"/>
<rect x="891" y="189" width="3" height="2" fill="#ff0000"/>
<rect x="896" y="184" width="1" height="13" fill="#00ff00"/>
<rect x="895" y="193" width="3" height="4" fill="#00ff00"/>
<rect x="900" y="192" width="1" height="31" fill="#00ff00"/>
<rect x="899" y="196" width="3" height="19" fill="#00ff00"/>
<rect x="904" y="187" width="1" height="38" fill="#ff0000"/>
<rect x="903" y="202" width="3" height="13" fill="#ff0000"/>
<rect x="908" y="191" width="1" height="36" fill="#00ff00"/>
<rect x="907" y="202" width="3" height="25" fill="#00ff00"/>
<rect x="912" y="223" width="1" height="23" fill="#00ff00"/>
<rect x="911" y="225" width="3" height="13" fill="#00ff00"/>
<rect x="916" y="234" width="1" height="8" fill="#ff0000"/>
<rect x="915" y="237" width="3" height="1" fill="#ff0000"/>
<rect x="920" y="234" width="1" height="22" fill="#ff0000"/>
<rect x="919" y="239" width="3" height="4" fill="#ff0000"/>
<rect x="924" y="228" width="1" height="31" fill="#ff0000"/>
<rect x="923" y="235" width="3" height="5" fill="#ff0000"/>
<rect x="928" y="224" width="1" height="20" fill="#00ff00"/>
<rect x="927" y="235" width="3" height="6" fill="#00ff00"/>
<rect x="932" y="235" width="1" height="31" fill="#00ff00"/>
<rect x="931" y="239" width="3" height="23" fill="#00ff00"/>
<rect x="936" y="223" width="1" height="50" fill="#ff0000"/>
<rect x="935" y="235" width="3" height="27" fill="#ff0000"/>
<rect x="940" y="231" width="1" height="6" fill="#00ff00"/>
<rect x="939" y="235" width="3" height="2" fill="#00ff00"/>
<rect x="944" y="228" width="1" height="39" fill="#00ff00"/>
<rect x="943" y="238" width="3" height="22" fill="#00ff00"/>
<rect x="948" y="252" width="1" height="48" fill="#00ff00"/>
<rect x="947" y="259" width="3" height="38" fill="#00ff00"/>
<rect x="952" y="284" width="1" height="34" fill="#00ff00"/>
<rect x="951" y="296" width="3" height="19" fill="#00ff00"/>
<rect x="956" y="303" width="1" height="44" fill="#00ff00"/>
<rect x="955" y="313" width="3" height="33" fill="#00ff00"/>
<rect x="960" y="281" width="1" height="67" fill="#ff0000"/>
<rect x="959" y="284" width="3" height="62" fill="#ff0000"/>
<rect x="964" y="267" width="1" height="19" fill="#ff0000"/>
<rect x="963" y="271" width="3" height="14" fill="#ff0000"/>
<rect x="968" y="270" width="1" height="32" fill="#00ff00"/>
<rect x="967" y="281" width="3" height="9" fill="#00ff00"/>
<rect x="972" y="281" width="1" height="28" fill="#00ff00"/>
<rect x="971" y="289" width="3" height="5" fill="#00ff00"/>
<rect x="976" y="278" width="1" height="22" fill="#ff0000"/>
<rect x="975" y="285" width="3" height="10" fill="#ff0000"/>
<rect x="980" y="280" width="1" height="20" fill="#00ff00"/>
<rect x="979" y="285" width="3" height="2" fill="#00ff00"/>
<rect x="984" y="277" width="1" height="20" fill="#ff0000"/>
<rect x="983" y="282" width="3" height="5" fill="#ff0000"/>
<rect x="988" y="280" width="1" height="5" fill="#00ff00"/>
<rect x="987" y="282" width="3" height="2" fill="#00ff00"/>
<rect x="992" y="279" width="1" height="29" fill="#00ff00"/>
<rect x="991" y="282" width="3" height="21" fill="#00ff00"/>
<rect x="996" y="295" width="1" height="33" fill="#00ff00"/>
<rect x="995" y="302" width="3" height="18" fill="#00ff00"/>
<rect x="1000" y="299" width="1" height="23" fill="#ff0000"/>
<rect x="999" y="304" width="3" height="16" fill="#ff0000"/>
<rect x="1004" y="287" width="1" height="21" fill="#ff0000"/>
<rect x="1003" y="297" width="3" height="8" fill="#ff0000"/>
<rect x="1008" y="291" width="1" height="15" fill="#00ff00"/>
<rect x="1007" y="297" width="3" height="4" fill="#00ff00"/>
<rect x="1012" y="298" width="1" height="9" fill="#00ff00"/>
<rect x="1011" y="300" width="3" height="3" fill="#00ff00"/>
<rect x="1016" y="289" width="1" height="29" fill="#ff0000"/>
<rect x="1015" y="289" width="3" height="13" fill="#ff0000"/>
<rect x="1020" y="276" width="1" height="33" fill="#00ff00"/>
<rect x="1019" y="289" width="3" height="18" fill="#00ff00"/>
<rect x="1024" y="294" width="1" height="21" fill="#00ff00"/>
<rect x="1023" y="306" width="3" height="6" fill="#00ff00"/>
<rect x="1028" y="306" width="1" height="19" fill="#ff0000"/>
<rect x="1027" y="311" width="3" height="1" fill="#ff0000"/>
<rect x="1032" y="305" width="1" height="10" fill="#00ff00"/>
<rect x="1031" y="310" width="3" height="3" fill="#00ff00"/>
<rect x="1036" y="312" width="1" height="5" fill="#00ff00"/>
<rect x="1035" y="312" width="3" height="4" fill="#00ff00"/>
<rect x="1040" y="312" width="1" height="33" fill="#00ff00"/>
<rect x="1039" y="313" width="3" height="17" fill="#00ff00"/>
<rect x="1044" y="312" width="1" height="21" fill="#00ff00"/>
<rect x="1043" y="329" width="3" height="4" fill="#00ff00"/>
<rect x="1048" y="322" width="1" height="26" fill="#00ff00"/>
<rect x="1047" y="332" width="3" height="14" fill="#00ff00"/>
<rect x="1052" y="334" width="1" height="21" fill="#ff0000"/>
<rect x="1051" y="337" width="3" height="9" fill="#ff0000"/>
<rect x="1056" y="322" width="1" height="22" fill="#00ff00"/>
<rect x="1055" y="338" width="3" height="2" fill="#00ff00"/>
<rect x="1060" y="329" width="1" height="10" fill="#ff0000"/>
<rect x="1059" y="329" width="3" height="10" fill="#ff0000"/>
<rect x="1064" y="319" width="1" height="21" fill="#ff0000"/>
<rect x="1063" y="332" width="3" height="5" fill="#ff0000"/>
<rect x="1068" y="325" width="1" height="21" fill="#00ff00"/>
<rect x="1067" y="332" width="3" height="12" fill="#00ff00"/>
<rect x="1072" y="317" width="1" height="34" fill="#ff0000"/>
<rect x="1071" y="318" width="3" height="26" fill="#ff0000"/>
<rect x="1076" y="306" width="1" height="18" fill="#00ff00"/>
<rect x="1075" y="318" width="3" height="5" fill="#00ff00"/>
<rect x="1080" y="310" width="1" height="33" fill="#00ff00"/>
<rect x="1079" y="322" width="3" height="20" fill="#00ff00"/>
<rect x="1084" y="340" width="1" height="5" fill="#00ff00"/>
<rect x="1083" y="341" width="3" height="4" fill="#00ff00"/>
<rect x="1088" y="333" width="1" height="15" fill="#ff0000"/>
<rect x="1087" y="341" width="3" height="3" fill="#ff0000"/>
<rect x="1092" y="336" width="1" height="29" fill="#00ff00"/>
<rect x="1091" y="336" width="3" height="29" fill="#00ff00"/>
<rect x="1096" y="359" width="1" height="30" fill="#00ff00"/>
<rect x="1095" y="364" width="3" height="24" fill="#00ff00"/>
<rect x="1100" y="382" width="1" height="25" fill="#00ff00"/>
<rect x="1099" y="387" width="3" height="19" fill="#00ff00"/>
<rect x="1104" y="398" width="1" height="22" fill="#00ff00"/>
<rect x="1103" y="405" width="3" height="13" fill="#00ff00"/>
<rect x="1108" y="414" width="1" height="7" fill="#00ff00"/>
<rect x="1107" y="417" width="3" height="1" fill="#00ff00"/>
<rect x="1112" y="414" width="1" height="30" fill="#00ff00"/>
<rect x="1111" y="422" width="3" height="4" fill="#00ff00"/>
<rect x="1116" y="415" width="1" height="34" fill="#00ff00"/>
<rect x="1115" y="424" width="3" height="17" fill="#00ff00"/>
<rect x="1120" y="433" width="1" height="24" fill="#00ff00"/>
<rect x="1119" y="434" width="3" height="21" fill="#00ff00"/>
<rect x="1124" y="449" width="1" height="20" fill="#00ff00"/>
<rect x="1123" y="454" width="3" height="11" fill="#00ff00"/>
<rect x="1128" y="460" width="1" height="34" fill="#00ff00"/>
<rect x="1127" y="463" width="3" height="5" fill="#00ff00"/>
<rect x="1132" y="453" width="1" height="15" fill="#ff0000"/>
<rect x="1131" y="456" width="3" height="12" fill="#ff0000"/>
<rect x="1136" y="409" width="1" height="52" fill="#ff0000"/>
<rect x="1135" y="430" width="3" height="29" fill="#ff0000"/>
<rect x="1140" y="428" width="1" height="27" fill="#00ff00"/>
<rect x="1139" y="430" width="3" height="19" fill="#00ff00"/>
<rect x="1144" y="447" width="1" height="49" fill="#00ff00"/>
<rect x="1143" y="448" width="3" height="47" fill="#00ff00"/>
<rect x="1148" y="460" width="1" height="36" fill="#ff0000"/>
<rect x="1147" y="472" width="3" height="23" fill="#ff0000"/>
<rect x="1152" y="447" width="1" height="33" fill="#ff0000"/>
<rect x="1151" y="454" width="3" height="18" fill="#ff0000"/>
<rect x="1156" y="450" width="1" height="11" fill="#00ff00"/>
<rect x="1155" y="454" width="3" height="5" fill="#00ff00"/>
<rect x="1160" y="434" width="1" height="30" fill="#ff0000"/>
<rect x="1159" y="448" width="3" height="12" fill="#ff0000"/>
<rect x="1164" y="442" width="1" height="29" fill="#ff0000"/>
<rect x="1163" y="444" width="3" height="5" fill="#ff0000"/>
<rect x="1168" y="428" width="1" height="47" fill="#00ff00"/>
<rect x="1167" y="444" width="3" height="25" fill="#00ff00"/>
<rect x="1172" y="462" width="1" height="20" fill="#00ff00"/>
<rect x="1171" y="468" width="3" height="7" fill="#00ff00"/>
<rect x="1176" y="463" width="1" height="17" fill="#00ff00"/>
<rect x="1175" y="474" width="3" height="4" fill="#00ff00"/>
<rect x="1180" y="473" width="1" height="6" fill="#ff0000"/>
<rect x="1179" y="475" width="3" height="3" fill="#ff0000"/>
<rect x="1184" y="474" width="1" height="22" fill="#00ff00"/>
<rect x="1183" y="477" width="3" height="16" fill="#00ff00"/>
<rect x="1188" y="487" width="1" height="28" fill="#00ff00"/>
<rect x="1187" y="492" width="3" height="14" fill="#00ff00"/>
<rect x="1192" y="466" width="1" height="45" fill="#ff0000"/>
<rect x="1191" y="466" width="3" height="40" fill="#ff0000"/>
<rect x="1196" y="445" width="1" height="37" fill="#00ff00"/>
<rect x="1195" y="466" width="3" height="15" fill="#00ff00"/>
<rect x="1200" y="456" width="1" height="35" fill="#ff0000"/>
<rect x="1199" y="459" width="3" height="22" fill="#ff0000"/>
<rect x="1204" y="455" width="1" height="9" fill="#00ff00"/>
<rect x="1203" y="459" width="3" height="4" fill="#00ff00"/>
<rect x="1208" y="460" width="1" height="25" fill="#00ff00"/>
<rect x="1207" y="466" width="3" height="3" fill="#00ff00"/>
<rect x="1212" y="461" width="1" height="23" fill="#00ff00"/>
<rect x="1211" y="468" width="3" height="11" fill="#00ff00"/>
<rect x="1216" y="463" width="1" height="24" fill="#00ff00"/>
<rect x="1215" y="478" width="3" height="2" fill="#00ff00"/>
<rect x="1220" y="463" width="1" height="40" fill="#00ff00"/>
<rect x="1219" y="478" width="3" height="7" fill="#00ff00"/>
<rect x="1224" y="472" width="1" height="36" fill="#00ff00"/>
<rect x="1223" y="484" width="3" height="16" fill="#00ff00"/>
<rect x="1228" y="493" width="1" height="10" fill="#ff0000"/>
<rect x="1227" y="496" width="3" height="5" fill="#ff0000"/>
<rect x="1232" y="495" width="1" height="26" fill="#00ff00"/>
<rect x="1231" y="501" width="3" height="12" fill="#00ff00"/>
<rect x="1236" y="472" width="1" height="49" fill="#ff0000"/>
<rect x="1235" y="486" width="3" height="28" fill="#ff0000"/>
<rect x="1240" y="456" width="1" height="31" fill="#ff0000"/>
<rect x="1239" y="470" width="3" height="17" fill="#ff0000"/>
<rect x="1244" y="454" width="1" height="28" fill="#00ff00"/>
<rect x="1243" y="469" width="3" height="2" fill="#00ff00"/>
<rect x="1248" y="444" width="1" height="31" fill="#ff0000"/>
<rect x="1247" y="451" width="3" height="20" fill="#ff0000"/>
<rect x="1252" y="449" width="1" height="15" fill="#00ff00"/>
<rect x="1251" y="451" width="3" height="12" fill="#00ff00"/>
<rect x="1256" y="446" width="1" height="18" fill="#ff0000"/>
<rect x="1255" y="447" width="3" height="12" fill="#ff0000"/>
<rect x="1260" y="427" width="1" height="21" fill="#ff0000"/>
<rect x="1259" y="441" width="3" height="7" fill="#ff0000"/>
<rect x="1264" y="432" width="1" height="31" fill="#00ff00"/>
<rect x="1263" y="441" width="3" height="19" fill="#00ff00"/>
<rect x="1268" y="457" width="1" height="10" fill="#00ff00"/>
<rect x="1267" y="459" width="3" height="8" fill="#00ff00"/>
</g>
<path d="M8 123h1v2h-1zM9 121h1v2h-1zM10 119h1v2h-1zM11 117h1v2h-1zM13 114h1v2h-1zM14 112h1v2h-1zM15 110h1v2h-1zM38 102h1v2h-1zM57 100h1v2h-1zM59 103h1v2h-1zM76 105h1v2h-1zM77 103h1v2h-1zM78 101h1v2h-1zM79 99h1v2h-1zM80 97h1v2h-1zM90 87h1v2h-1zM94 82h1v2h-1zM136 77h1v2h-1zM137 79h1v2h-1zM138 81h1v2h-1zM139 83h1v2h-1zM140 85h1v3h-1zM141 88h1v3h-1zM142 91h1v2h-1zM143 93h1v3h-1zM144 96h1v3h-1zM145 99h1v2h-1zM146 101h1v3h-1zM147 104h1v2h-1zM148 106h1v3h-1zM149 109h1v3h-1zM150 112h1v2h-1zM151 114h1v3h-1zM152 117h1v2h-1zM153 119h1v2h-1zM155 122h1v2h-1zM161 119h1v2h-1zM162 117h1v2h-1zM163 115h1v2h-1zM164 113h1v2h-1zM165 111h1v2h-1zM166 109h1v2h-1zM167 107h1v2h-1zM168 105h1v2h-1zM169 103h1v2h-1zM170 101h1v2h-1zM171 99h1v2h-1zM173 96h1v2h-1zM175 93h1v2h-1zM185 92h1v2h-1zM186 94h1v2h-1zM187 96h1v2h-1zM188 98h1v2h-1zM189 100h1v2h-1zM190 102h1v2h-1zM191 104h1v2h-1zM192 106h1v2h-1zM193 108h1v2h-1zM194 110h1v2h-1zM195 112h1v2h-1zM196 114h1v2h-1zM197 116h1v2h-1zM198 118h1v2h-1zM199 120h1v2h-1zM206 118h1v2h-1zM208 115h1v2h-1zM209 113h1v2h-1zM210 111h1v2h-1zM211 109h1v2h-1zM212 107h1v2h-1zM213 105h1v2h-1zM214 102h1v3h-1zM215 100h1v2h-1zM216 97h1v3h-1zM217 95h1v2h-1zM218 92h1v3h-1zM219 90h1v2h-1zM220 88h1v2h-1zM230 86h1v2h-1zM233 90h1v2h-1zM234 92h1v2h-1zM235 94h1v2h-1zM236 96h1v2h-1zM237 98h1v2h-1zM238 100h1v2h-1zM239 102h1v2h-1zM245 109h1v2h-1zM247 112h1v2h-1zM261 107h1v2h-1zM263 104h1v2h-1zM264 102h1v2h-1zM265 100h1v2h-1zM266 98h1v2h-1zM267 96h1v2h-1zM268 94h1v2h-1zM269 92h1v2h-1zM270 90h1v2h-1zM271 88h1v2h-1zM274 84h1v2h-1zM276 81h1v2h-1zM277 79h1v2h-1zM278 77h1v2h-1zM279 75h1v2h-1zM294 69h1v2h-1zM296 72h1v2h-1zM297 74h1v3h-1zM298 77h1v3h-1zM299 80h1v3h-1zM300 83h1v3h-1zM301 86h1v2h-1zM302 88h1v2h-1zM303 90h1v2h-1zM304 92h1v3h-1zM305 95h1v2h-1zM306 97h1v3h-1zM307 100h1v2h-1zM308 102h1v3h-1zM309 105h1v2h-1zM310 107h1v2h-1zM311 109h1v2h-1zM333 121h1v2h-1zM334 123h1v2h-1zM335 125h1v2h-1zM345 134h1v2h-1zM347 137h1v2h-1zM381 150h1v2h-1zM383 153h1v2h-1zM384 155h1v2h-1zM385 157h1v2h-1zM386 159h1v2h-1zM387 161h1v2h-1zM388 163h1v2h-1zM389 165h1v2h-1zM390 167h1v3h-1zM391 170h1v2h-1zM392 172h1v3h-1zM393 175h1v2h-1zM394 177h1v3h-1zM395 180h1v2h-1zM396 182h1v3h-1zM397 185h1v3h-1zM398 188h1v4h-1zM399 192h1v3h-1zM400 195h1v2h-1zM401 197h1v2h-1zM403 200h1v2h-1zM445 194h1v2h-1zM446 196h1v2h-1zM447 198h1v2h-1zM448 200h1v2h-1zM449 202h1v2h-1zM450 204h1v2h-1zM451 206h1v2h-1zM452 208h1v2h-1zM469 210h1v2h-1zM471 207h1v2h-1zM494 193h1v2h-1zM501 194h1v2h-1zM503 197h1v2h-1zM505 200h1v2h-1zM507 203h1v2h-1zM509 206h1v2h-1zM510 208h1v2h-1zM511 210h1v2h-1zM514 214h1v2h-1zM518 214h1v2h-1zM520 211h1v2h-1zM521 209h1v2h-1zM522 207h1v2h-1zM523 205h1v2h-1zM524 202h1v3h-1zM525 199h1v3h-1zM526 195h1v4h-1zM527 192h1v3h-1zM528 189h1v3h-1zM529 187h1v2h-1zM530 184h1v3h-1zM531 182h1v2h-1zM532 180h1v2h-1zM533 178h1v2h-1zM534 176h1v2h-1zM535 174h1v2h-1zM554 160h1v2h-1zM566 147h1v2h-1zM585 155h1v2h-1zM586 157h1v2h-1zM587 159h1v2h-1zM592 165h1v2h-1zM593 167h1v2h-1zM594 169h1v2h-1zM595 171h1v2h-1zM596 173h1v2h-1zM597 175h1v2h-1zM598 177h1v2h-1zM599 179h1v2h-1zM600 181h1v3h-1zM601 184h1v3h-1zM602 187h1v2h-1zM603 189h1v3h-1zM604 192h1v3h-1zM605 195h1v4h-1zM606 199h1v4h-1zM607 203h1v4h-1zM608 207h1v4h-1zM609 211h1v5h-1zM610 216h1v5h-1zM611 221h1v5h-1zM612 226h1v4h-1zM613 230h1v3h-1zM614 233h1v4h-1zM615 237h1v3h-1zM616 240h1v4h-1zM617 244h1v4h-1zM618 248h1v4h-1zM619 252h1v4h-1zM620 256h1v6h-1zM621 262h1v6h-1zM622 268h1v6h-1zM623 274h1v6h-1zM624 280h1v6h-1zM625 286h1v5h-1zM626 291h1v6h-1zM627 297h1v5h-1zM628 302h1v5h-1zM629 307h1v6h-1zM630 313h1v6h-1zM631 319h1v6h-1zM632 325h1v5h-1zM633 330h1v5h-1zM634 335h1v5h-1zM635 340h1v5h-1zM636 345h1v4h-1zM637 349h1v3h-1zM638 352h1v3h-1zM639 355h1v3h-1zM640 358h1v2h-1zM641 354h1v4h-1zM642 350h1v4h-1zM643 346h1v4h-1zM644 343h1v3h-1zM645 339h1v4h-1zM646 335h1v4h-1zM647 331h1v4h-1zM648 326h1v5h-1zM649 320h1v6h-1zM650 314h1v6h-1zM651 308h1v6h-1zM652 304h1v4h-1zM653 301h1v3h-1zM654 298h1v3h-1zM655 295h1v3h-1zM656 290h1v5h-1zM657 284h1v6h-1zM658 278h1v6h-1zM659 272h1v6h-1zM660 266h1v6h-1zM661 262h1v4h-1zM662 258h1v4h-1zM663 254h1v4h-1zM664 248h1v6h-1zM665 241h1v7h-1zM666 234h1v7h-1zM667 227h1v7h-1zM668 220h1v7h-1zM669 213h1v7h-1zM670 206h1v7h-1zM671 199h1v7h-1zM672 191h1v8h-1zM673 181h1v10h-1zM674 171h1v10h-1zM675 161h1v10h-1zM676 154h1v7h-1zM677 150h1v4h-1zM678 146h1v4h-1zM679 142h1v4h-1zM680 139h1v3h-1zM681 137h1v2h-1zM682 135h1v2h-1zM683 133h1v2h-1zM685 133h1v2h-1zM687 136h1v2h-1zM688 138h1v3h-1zM689 141h1v5h-1zM690 146h1v5h-1zM691 151h1v5h-1zM692 156h1v6h-1zM693 162h1v8h-1zM694 170h1v7h-1zM695 177h1v8h-1zM696 185h1v7h-1zM697 192h1v7h-1zM698 199h1v6h-1zM699 205h1v7h-1zM700 212h1v6h-1zM701 218h1v5h-1zM702 223h1v4h-1zM703 227h1v5h-1zM704 232h1v4h-1zM705 236h1v4h-1zM706 240h1v3h-1zM707 243h1v4h-1zM708 247h1v2h-1zM712 244h1v2h-1zM713 240h1v4h-1zM714 236h1v4h-1zM715 232h1v4h-1zM716 228h1v4h-1zM717 222h1v6h-1zM718 217h1v5h-1zM719 211h1v6h-1zM720 207h1v4h-1zM721 203h1v4h-1zM722 200h1v3h-1zM723 196h1v4h-1zM724 193h1v3h-1zM725 190h1v3h-1zM726 186h1v4h-1zM727 183h1v3h-1zM728 181h1v2h-1zM736 180h1v2h-1zM737 182h1v2h-1zM738 184h1v3h-1zM739 187h1v2h-1zM740 189h1v3h-1zM741 192h1v2h-1zM742 194h1v3h-1zM743 197h1v2h-1zM744 199h1v3h-1zM745 202h1v3h-1zM746 205h1v2h-1zM747 207h1v3h-1zM748 210h1v2h-1zM752 214h1v2h-1zM753 216h1v2h-1zM754 218h1v3h-1zM755 221h1v2h-1zM756 223h1v2h-1zM773 218h1v2h-1zM775 215h1v2h-1zM785 206h1v2h-1zM787 203h1v2h-1zM789 200h1v2h-1zM790 198h1v2h-1zM791 196h1v2h-1zM793 193h1v2h-1zM794 191h1v2h-1zM795 189h1v2h-1zM797 186h1v2h-1zM799 183h1v2h-1zM809 178h1v2h-1zM810 180h1v2h-1zM811 182h1v2h-1zM812 184h1v2h-1zM813 186h1v4h-1zM814 190h1v3h-1zM815 193h1v4h-1zM816 197h1v3h-1zM817 200h1v3h-1zM818 203h1v3h-1zM819 206h1v3h-1zM820 209h1v3h-1zM821 212h1v2h-1zM822 214h1v2h-1zM823 216h1v2h-1zM824 218h1v2h-1zM829 220h1v2h-1zM830 218h1v2h-1zM831 216h1v2h-1zM832 214h1v2h-1zM833 211h1v3h-1zM834 207h1v4h-1zM835 204h1v3h-1zM836 201h1v3h-1zM837 199h1v2h-1zM838 197h1v2h-1zM839 195h1v2h-1zM842 191h1v2h-1zM849 190h1v2h-1zM851 193h1v2h-1zM877 191h1v2h-1zM878 193h1v2h-1zM879 195h1v2h-1zM905 199h1v2h-1zM906 201h1v2h-1zM907 203h1v2h-1zM908 205h1v2h-1zM909 207h1v2h-1zM910 209h1v3h-1zM911 212h1v2h-1zM912 214h1v3h-1zM913 217h1v2h-1zM914 219h1v2h-1zM915 221h1v2h-1zM918 225h1v2h-1zM921 229h1v2h-1zM923 232h1v2h-1zM930 239h1v2h-1zM942 243h1v2h-1zM944 246h1v2h-1zM945 248h1v3h-1zM946 251h1v2h-1zM947 253h1v3h-1zM948 256h1v3h-1zM949 259h1v3h-1zM950 262h1v2h-1zM951 264h1v3h-1zM952 267h1v4h-1zM953 271h1v6h-1zM954 277h1v5h-1zM955 282h1v6h-1zM956 288h1v4h-1zM957 292h1v2h-1zM958 294h1v2h-1zM959 296h1v2h-1zM960 298h1v2h-1zM972 295h1v2h-1zM973 292h1v3h-1zM974 289h1v3h-1zM975 286h1v3h-1zM976 284h1v2h-1zM993 288h1v2h-1zM994 290h1v2h-1zM995 292h1v2h-1zM1013 302h1v2h-1zM1015 299h1v2h-1zM1033 306h1v2h-1zM1035 309h1v2h-1zM1042 317h1v2h-1zM1045 321h1v2h-1zM1047 324h1v2h-1zM1050 328h1v2h-1zM1054 333h1v2h-1zM1088 333h1v2h-1zM1089 335h1v2h-1zM1090 337h1v2h-1zM1091 339h1v2h-1zM1092 341h1v3h-1zM1093 344h1v3h-1zM1094 347h1v4h-1zM1095 351h1v3h-1zM1096 354h1v3h-1zM1097 357h1v3h-1zM1098 360h1v4h-1zM1099 364h1v3h-1zM1100 367h1v3h-1zM1101 370h1v4h-1zM1102 374h1v4h-1zM1103 378h1v4h-1zM1104 382h1v3h-1zM1105 385h1v4h-1zM1106 389h1v4h-1zM1107 393h1v4h-1zM1108 397h1v3h-1zM1109 400h1v3h-1zM1110 403h1v3h-1zM1111 406h1v3h-1zM1112 409h1v3h-1zM1113 412h1v3h-1zM1114 415h1v2h-1zM1115 417h1v3h-1zM1116 420h1v3h-1zM1117 423h1v2h-1zM1118 425h1v2h-1zM1119 427h1v2h-1zM1120 429h1v3h-1zM1121 432h1v2h-1zM1122 434h1v3h-1zM1123 437h1v2h-1zM1124 439h1v3h-1zM1125 442h1v2h-1zM1126 444h1v3h-1zM1127 447h1v2h-1zM1128 449h1v2h-1zM1129 451h1v2h-1zM1131 454h1v2h-1zM1141 454h1v2h-1zM1143 457h1v2h-1zM1153 460h1v2h-1zM1155 463h1v2h-1zM1160 464h1v2h-1zM1161 462h1v2h-1zM1162 459h1v3h-1zM1163 457h1v2h-1zM1164 455h1v2h-1zM1178 464h1v2h-1zM1180 467h1v2h-1zM1181 469h1v2h-1zM1182 471h1v3h-1zM1183 474h1v2h-1zM1184 476h1v2h-1zM1185 478h1v2h-1zM1186 480h1v2h-1zM1187 482h1v2h-1zM1201 478h1v2h-1zM1203 475h1v2h-1zM1205 472h1v2h-1zM1206 470h1v2h-1zM1207 468h1v2h-1zM1218 471h1v2h-1zM1220 474h1v2h-1zM1221 476h1v2h-1zM1222 478h1v2h-1zM1223 480h1v2h-1zM1226 484h1v2h-1zM1229 488h1v2h-1zM1230 490h1v2h-1zM1231 492h1v2h-1zM1241 491h1v2h-1zM1243 488h1v2h-1zM1244 486h1v2h-1zM1245 484h1v2h-1zM1246 482h1v2h-1zM1247 480h1v2h-1zM1248 477h1v3h-1zM1249 475h1v2h-1zM1250 472h1v3h-1zM1251 470h1v2h-1zM1252 467h1v3h-1zM1253 465h1v2h-1zM1254 463h1v2h-1zM1255 461h1v2h-1zM1257 458h1v2h-1zM1259 455h1v2h-1zM4 127h1v1h-1zM336 127h1v1h-1zM5 126h2v1h-2zM7 125h1v1h-1zM12 116h1v1h-1zM326 116h2v1h-2zM16 109h2v1h-2zM259 109h2v1h-2zM18 108h2v1h-2zM67 108h4v1h-4zM244 108h1v1h-1zM20 107h2v1h-2zM64 107h3v1h-3zM71 107h4v1h-4zM243 107h1v1h-1zM22 106h2v1h-2zM27 106h3v1h-3zM62 106h2v1h-2zM75 106h1v1h-1zM242 106h1v1h-1zM262 106h1v1h-1zM24 105h3v1h-3zM30 105h2v1h-2zM35 105h2v1h-2zM60 105h2v1h-2zM241 105h1v1h-1zM32 104h3v1h-3zM37 104h1v1h-1zM240 104h1v1h-1zM39 101h1v1h-1zM40 100h1v1h-1zM41 99h2v1h-2zM56 99h1v1h-1zM43 98h1v1h-1zM55 98h1v1h-1zM172 98h1v1h-1zM44 97h2v1h-2zM53 97h2v1h-2zM46 96h2v1h-2zM51 96h2v1h-2zM81 96h2v1h-2zM48 95h3v1h-3zM83 95h1v1h-1zM174 95h1v1h-1zM58 102h1v1h-1zM84 94h1v1h-1zM85 93h1v1h-1zM86 92h1v1h-1zM176 92h1v1h-1zM87 91h1v1h-1zM177 91h2v1h-2zM184 91h1v1h-1zM88 90h1v1h-1zM179 90h1v1h-1zM182 90h2v1h-2zM89 89h1v1h-1zM180 89h2v1h-2zM232 89h1v1h-1zM91 86h1v1h-1zM110 86h2v1h-2zM120 86h2v1h-2zM224 86h2v1h-2zM273 86h1v1h-1zM92 85h1v1h-1zM108 85h2v1h-2zM122 85h2v1h-2zM226 85h2v1h-2zM229 85h1v1h-1zM93 84h1v1h-1zM107 84h1v1h-1zM124 84h1v1h-1zM228 84h1v1h-1zM95 81h1v1h-1zM98 81h2v1h-2zM103 81h2v1h-2zM128 81h1v1h-1zM96 80h2v1h-2zM129 80h2v1h-2zM100 82h3v1h-3zM105 82h1v1h-1zM127 82h1v1h-1zM106 83h1v1h-1zM125 83h2v1h-2zM275 83h1v1h-1zM112 87h3v1h-3zM118 87h2v1h-2zM222 87h2v1h-2zM272 87h1v1h-1zM115 88h3v1h-3zM221 88h1v1h-1zM231 88h1v1h-1zM131 79h1v1h-1zM132 78h3v1h-3zM135 77h1v1h-1zM154 121h1v1h-1zM160 121h1v1h-1zM203 121h2v1h-2zM156 124h1v1h-1zM157 123h2v1h-2zM159 122h1v1h-1zM200 122h3v1h-3zM205 120h1v1h-1zM332 120h1v1h-1zM207 117h1v1h-1zM328 117h1v1h-1zM246 111h1v1h-1zM255 111h1v1h-1zM312 111h1v1h-1zM248 114h5v1h-5zM316 114h2v1h-2zM323 114h1v1h-1zM253 113h1v1h-1zM315 113h1v1h-1zM318 113h2v1h-2zM321 113h2v1h-2zM254 112h1v1h-1zM313 112h2v1h-2zM320 112h1v1h-1zM256 110h3v1h-3zM280 74h2v1h-2zM282 73h2v1h-2zM284 72h2v1h-2zM286 71h2v1h-2zM295 71h1v1h-1zM288 70h1v1h-1zM289 69h2v1h-2zM291 68h1v1h-1zM293 68h1v1h-1zM292 67h1v1h-1zM324 115h2v1h-2zM329 118h2v1h-2zM331 119h1v1h-1zM337 128h1v1h-1zM338 129h1v1h-1zM339 130h1v1h-1zM340 131h2v1h-2zM342 132h2v1h-2zM684 132h1v1h-1zM344 133h1v1h-1zM346 136h1v1h-1zM348 139h1v1h-1zM349 140h1v1h-1zM350 141h1v1h-1zM351 142h1v1h-1zM352 143h1v1h-1zM353 144h1v1h-1zM571 144h2v1h-2zM354 145h1v1h-1zM568 145h3v1h-3zM573 145h1v1h-1zM355 146h1v1h-1zM567 146h1v1h-1zM574 146h1v1h-1zM356 147h1v1h-1zM575 147h1v1h-1zM357 148h2v1h-2zM375 148h4v1h-4zM576 148h1v1h-1zM359 149h1v1h-1zM368 149h7v1h-7zM379 149h2v1h-2zM565 149h1v1h-1zM577 149h2v1h-2zM360 150h3v1h-3zM366 150h2v1h-2zM564 150h1v1h-1zM579 150h1v1h-1zM363 151h3v1h-3zM563 151h1v1h-1zM580 151h1v1h-1zM382 152h1v1h-1zM562 152h1v1h-1zM581 152h2v1h-2zM402 199h1v1h-1zM418 199h1v1h-1zM489 199h1v1h-1zM504 199h1v1h-1zM856 199h1v1h-1zM884 199h6v1h-6zM896 199h2v1h-2zM404 202h2v1h-2zM411 202h1v1h-1zM483 202h3v1h-3zM506 202h1v1h-1zM788 202h1v1h-1zM406 203h2v1h-2zM409 203h2v1h-2zM480 203h3v1h-3zM408 204h1v1h-1zM478 204h2v1h-2zM412 201h5v1h-5zM486 201h2v1h-2zM417 200h1v1h-1zM488 200h1v1h-1zM419 198h1v1h-1zM490 198h1v1h-1zM855 198h1v1h-1zM857 198h2v1h-2zM882 198h2v1h-2zM890 198h2v1h-2zM894 198h2v1h-2zM898 198h2v1h-2zM903 198h2v1h-2zM420 197h5v1h-5zM491 197h1v1h-1zM854 197h1v1h-1zM859 197h1v1h-1zM880 197h2v1h-2zM892 197h2v1h-2zM900 197h3v1h-3zM425 196h2v1h-2zM492 196h1v1h-1zM502 196h1v1h-1zM853 196h1v1h-1zM860 196h3v1h-3zM427 195h1v1h-1zM493 195h1v1h-1zM792 195h1v1h-1zM852 195h1v1h-1zM863 195h6v1h-6zM428 194h3v1h-3zM840 194h1v1h-1zM869 194h2v1h-2zM431 193h2v1h-2zM444 193h1v1h-1zM500 193h1v1h-1zM841 193h1v1h-1zM871 193h1v1h-1zM433 192h2v1h-2zM442 192h2v1h-2zM495 192h1v1h-1zM498 192h2v1h-2zM850 192h1v1h-1zM872 192h2v1h-2zM435 191h1v1h-1zM439 191h3v1h-3zM496 191h2v1h-2zM874 191h2v1h-2zM436 190h3v1h-3zM843 190h1v1h-1zM876 190h1v1h-1zM453 210h1v1h-1zM780 210h2v1h-2zM454 211h1v1h-1zM779 211h1v1h-1zM455 212h1v1h-1zM468 212h1v1h-1zM512 212h1v1h-1zM749 212h2v1h-2zM778 212h1v1h-1zM456 213h1v1h-1zM466 213h2v1h-2zM513 213h1v1h-1zM519 213h1v1h-1zM751 213h1v1h-1zM777 213h1v1h-1zM457 214h2v1h-2zM464 214h2v1h-2zM776 214h1v1h-1zM459 215h1v1h-1zM462 215h2v1h-2zM460 216h2v1h-2zM515 216h1v1h-1zM517 216h1v1h-1zM470 209h1v1h-1zM782 209h2v1h-2zM472 206h3v1h-3zM475 205h3v1h-3zM508 205h1v1h-1zM786 205h1v1h-1zM516 217h1v1h-1zM774 217h1v1h-1zM536 173h1v1h-1zM537 172h2v1h-2zM539 171h1v1h-1zM540 170h2v1h-2zM542 169h2v1h-2zM544 168h2v1h-2zM546 167h2v1h-2zM548 166h1v1h-1zM549 165h2v1h-2zM551 164h1v1h-1zM591 164h1v1h-1zM552 163h1v1h-1zM590 163h1v1h-1zM553 162h1v1h-1zM589 162h1v1h-1zM555 159h1v1h-1zM556 158h1v1h-1zM557 157h1v1h-1zM558 156h1v1h-1zM559 155h1v1h-1zM560 154h1v1h-1zM584 154h1v1h-1zM561 153h1v1h-1zM583 153h1v1h-1zM588 161h1v1h-1zM686 135h1v1h-1zM709 247h2v1h-2zM711 246h1v1h-1zM729 180h2v1h-2zM803 180h1v1h-1zM731 179h1v1h-1zM734 179h2v1h-2zM804 179h2v1h-2zM732 178h2v1h-2zM806 178h2v1h-2zM757 224h2v1h-2zM761 224h1v1h-1zM917 224h1v1h-1zM759 225h2v1h-2zM762 223h1v1h-1zM916 223h1v1h-1zM763 222h1v1h-1zM828 222h1v1h-1zM764 221h3v1h-3zM827 221h1v1h-1zM767 220h6v1h-6zM825 220h2v1h-2zM784 208h1v1h-1zM796 188h1v1h-1zM798 185h1v1h-1zM800 182h1v1h-1zM801 181h2v1h-2zM808 177h1v1h-1zM844 189h5v1h-5zM919 227h1v1h-1zM920 228h1v1h-1zM922 231h1v1h-1zM924 234h1v1h-1zM925 235h2v1h-2zM927 236h1v1h-1zM928 237h1v1h-1zM929 238h1v1h-1zM931 241h1v1h-1zM939 241h2v1h-2zM932 242h7v1h-7zM941 242h1v1h-1zM943 245h1v1h-1zM961 300h2v1h-2zM968 300h1v1h-1zM1003 300h1v1h-1zM1022 300h2v1h-2zM963 301h1v1h-1zM966 301h2v1h-2zM1004 301h1v1h-1zM1014 301h1v1h-1zM1024 301h2v1h-2zM964 302h2v1h-2zM1005 302h2v1h-2zM1026 302h2v1h-2zM969 299h1v1h-1zM1001 299h2v1h-2zM1019 299h3v1h-3zM970 298h1v1h-1zM1000 298h1v1h-1zM1016 298h3v1h-3zM971 297h1v1h-1zM999 297h1v1h-1zM977 284h4v1h-4zM981 285h2v1h-2zM988 285h2v1h-2zM983 286h1v1h-1zM986 286h2v1h-2zM990 286h2v1h-2zM984 287h2v1h-2zM992 287h1v1h-1zM996 294h1v1h-1zM997 295h1v1h-1zM998 296h1v1h-1zM1007 303h1v1h-1zM1028 303h2v1h-2zM1008 304h5v1h-5zM1030 304h2v1h-2zM1032 305h1v1h-1zM1034 308h1v1h-1zM1036 311h1v1h-1zM1037 312h1v1h-1zM1038 313h1v1h-1zM1039 314h1v1h-1zM1040 315h1v1h-1zM1041 316h1v1h-1zM1043 319h1v1h-1zM1044 320h1v1h-1zM1046 323h1v1h-1zM1048 326h1v1h-1zM1049 327h1v1h-1zM1051 330h1v1h-1zM1075 330h1v1h-1zM1078 330h2v1h-2zM1052 331h1v1h-1zM1073 331h2v1h-2zM1080 331h2v1h-2zM1053 332h1v1h-1zM1072 332h1v1h-1zM1082 332h2v1h-2zM1055 335h1v1h-1zM1069 335h1v1h-1zM1056 336h13v1h-13zM1070 334h1v1h-1zM1071 333h1v1h-1zM1084 333h4v1h-4zM1076 329h2v1h-2zM1130 453h1v1h-1zM1139 453h2v1h-2zM1262 453h2v1h-2zM1265 453h2v1h-2zM1132 456h2v1h-2zM1142 456h1v1h-1zM1170 456h1v1h-1zM1134 455h2v1h-2zM1165 455h2v1h-2zM1169 455h1v1h-1zM1136 454h3v1h-3zM1167 454h2v1h-2zM1260 454h2v1h-2zM1267 454h1v1h-1zM1144 459h3v1h-3zM1151 459h2v1h-2zM1173 459h1v1h-1zM1147 460h4v1h-4zM1174 460h1v1h-1zM1256 460h1v1h-1zM1154 462h1v1h-1zM1176 462h1v1h-1zM1156 465h4v1h-4zM1171 457h1v1h-1zM1258 457h1v1h-1zM1172 458h1v1h-1zM1175 461h1v1h-1zM1177 463h1v1h-1zM1179 466h1v1h-1zM1188 484h3v1h-3zM1191 483h6v1h-6zM1225 483h1v1h-1zM1197 482h2v1h-2zM1224 482h1v1h-1zM1199 481h1v1h-1zM1200 480h1v1h-1zM1202 477h1v1h-1zM1204 474h1v1h-1zM1208 467h2v1h-2zM1210 468h2v1h-2zM1212 469h5v1h-5zM1217 470h1v1h-1zM1219 473h1v1h-1zM1227 486h1v1h-1zM1228 487h1v1h-1zM1232 494h3v1h-3zM1238 494h2v1h-2zM1235 495h3v1h-3zM1240 493h1v1h-1zM1242 490h1v1h-1zM1264 452h1v1h-1z" fill="#ffa500"/>
<path d="M10 129h1v2h-1zM14 124h1v2h-1zM334 104h1v2h-1zM338 109h1v2h-1zM342 114h1v2h-1zM345 118h1v2h-1zM347 121h1v2h-1zM394 158h1v2h-1zM397 162h1v2h-1zM399 165h1v2h-1zM557 179h1v2h-1zM559 176h1v2h-1zM561 173h1v2h-1zM563 170h1v2h-1zM566 166h1v2h-1zM605 167h1v2h-1zM606 169h1v2h-1zM607 171h1v2h-1zM608 173h1v2h-1zM609 175h1v2h-1zM610 177h1v2h-1zM611 179h1v2h-1zM612 181h1v3h-1zM613 184h1v2h-1zM614 186h1v2h-1zM615 188h1v2h-1zM616 190h1v2h-1zM617 192h1v2h-1zM618 194h1v3h-1zM619 197h1v2h-1zM620 199h1v3h-1zM621 202h1v4h-1zM622 206h1v4h-1zM623 210h1v4h-1zM624 214h1v3h-1zM625 217h1v4h-1zM626 221h1v4h-1zM627 225h1v4h-1zM628 229h1v4h-1zM629 233h1v4h-1zM630 237h1v4h-1zM631 241h1v4h-1zM632 245h1v3h-1zM633 248h1v4h-1zM634 252h1v3h-1zM635 255h1v4h-1zM636 259h1v3h-1zM637 262h1v3h-1zM638 265h1v4h-1zM639 269h1v3h-1zM640 272h1v3h-1zM641 275h1v2h-1zM642 277h1v2h-1zM643 279h1v2h-1zM645 282h1v2h-1zM646 284h1v2h-1zM647 286h1v2h-1zM650 290h1v2h-1zM653 294h1v2h-1zM654 296h1v2h-1zM655 298h1v2h-1zM664 295h1v2h-1zM665 293h1v2h-1zM666 291h1v2h-1zM667 289h1v2h-1zM668 286h1v3h-1zM669 283h1v3h-1zM670 281h1v2h-1zM671 278h1v3h-1zM672 275h1v3h-1zM673 272h1v3h-1zM674 269h1v3h-1zM675 266h1v3h-1zM676 263h1v3h-1zM677 259h1v4h-1zM678 255h1v4h-1zM679 251h1v4h-1zM680 248h1v3h-1zM681 244h1v4h-1zM682 241h1v3h-1zM683 237h1v4h-1zM684 233h1v4h-1zM685 229h1v4h-1zM686 225h1v4h-1zM687 221h1v4h-1zM688 218h1v3h-1zM689 216h1v2h-1zM690 213h1v3h-1zM691 211h1v2h-1zM692 209h1v2h-1zM693 207h1v2h-1zM695 204h1v2h-1zM709 196h1v2h-1zM711 193h1v2h-1zM729 194h1v2h-1zM731 197h1v2h-1zM738 205h1v2h-1zM742 210h1v2h-1zM930 217h1v2h-1zM942 226h1v2h-1zM945 230h1v2h-1zM946 232h1v2h-1zM947 234h1v2h-1zM948 236h1v2h-1zM949 238h1v2h-1zM950 240h1v2h-1zM951 242h1v2h-1zM952 244h1v3h-1zM953 247h1v2h-1zM954 249h1v2h-1zM955 251h1v2h-1zM956 253h1v2h-1zM957 255h1v2h-1zM959 258h1v2h-1zM990 284h1v2h-1zM993 288h1v2h-1zM995 291h1v2h-1zM1098 343h1v2h-1zM1102 348h1v2h-1zM1105 352h1v2h-1zM1107 355h1v2h-1zM1109 358h1v2h-1zM1111 361h1v2h-1zM1112 363h1v2h-1zM1113 365h1v2h-1zM1114 367h1v2h-1zM1115 369h1v2h-1zM1116 371h1v2h-1zM1117 373h1v2h-1zM1118 375h1v2h-1zM1119 377h1v2h-1zM1120 379h1v3h-1zM1121 382h1v2h-1zM1122 384h1v2h-1zM1123 386h1v2h-1zM1124 388h1v2h-1zM1125 390h1v3h-1zM1126 393h1v2h-1zM1127 395h1v3h-1zM1128 398h1v3h-1zM1129 401h1v2h-1zM1130 403h1v3h-1zM1131 406h1v2h-1zM1132 408h1v2h-1zM1133 410h1v2h-1zM1135 413h1v2h-1zM1137 416h1v2h-1zM1138 418h1v2h-1zM1139 420h1v2h-1zM1140 422h1v2h-1zM1141 424h1v3h-1zM1142 427h1v2h-1zM1143 429h1v3h-1zM1144 432h1v3h-1zM1145 435h1v2h-1zM1146 437h1v2h-1zM1147 439h1v2h-1zM1150 443h1v2h-1zM4 136h1v1h-1zM367 136h1v1h-1zM5 135h1v1h-1zM365 135h2v1h-2zM6 134h1v1h-1zM364 134h1v1h-1zM7 133h1v1h-1zM362 133h2v1h-2zM8 132h1v1h-1zM360 132h2v1h-2zM9 131h1v1h-1zM358 131h2v1h-2zM11 128h1v1h-1zM353 128h2v1h-2zM12 127h1v1h-1zM352 127h1v1h-1zM13 126h1v1h-1zM351 126h1v1h-1zM15 123h1v1h-1zM348 123h1v1h-1zM16 122h1v1h-1zM17 121h1v1h-1zM18 120h1v1h-1zM346 120h1v1h-1zM19 119h1v1h-1zM20 118h2v1h-2zM22 117h2v1h-2zM344 117h1v1h-1zM24 116h2v1h-2zM343 116h1v1h-1zM26 115h2v1h-2zM28 114h2v1h-2zM30 113h2v1h-2zM341 113h1v1h-1zM32 112h7v1h-7zM340 112h1v1h-1zM39 111h3v1h-3zM339 111h1v1h-1zM42 110h2v1h-2zM195 110h4v1h-4zM44 109h1v1h-1zM192 109h3v1h-3zM199 109h3v1h-3zM45 108h2v1h-2zM191 108h1v1h-1zM202 108h2v1h-2zM337 108h1v1h-1zM47 107h1v1h-1zM189 107h2v1h-2zM204 107h2v1h-2zM336 107h1v1h-1zM48 106h2v1h-2zM188 106h1v1h-1zM206 106h2v1h-2zM335 106h1v1h-1zM50 105h2v1h-2zM187 105h1v1h-1zM208 105h2v1h-2zM239 105h4v1h-4zM52 104h3v1h-3zM186 104h1v1h-1zM210 104h2v1h-2zM236 104h3v1h-3zM243 104h4v1h-4zM55 103h22v1h-22zM185 103h1v1h-1zM212 103h3v1h-3zM234 103h2v1h-2zM247 103h4v1h-4zM333 103h1v1h-1zM77 102h2v1h-2zM184 102h1v1h-1zM215 102h3v1h-3zM232 102h2v1h-2zM251 102h3v1h-3zM332 102h1v1h-1zM79 101h1v1h-1zM182 101h2v1h-2zM218 101h2v1h-2zM230 101h2v1h-2zM254 101h2v1h-2zM331 101h1v1h-1zM80 100h3v1h-3zM179 100h3v1h-3zM220 100h10v1h-10zM256 100h7v1h-7zM330 100h1v1h-1zM83 99h3v1h-3zM163 99h16v1h-16zM263 99h4v1h-4zM329 99h1v1h-1zM86 98h2v1h-2zM159 98h4v1h-4zM267 98h11v1h-11zM328 98h1v1h-1zM88 97h3v1h-3zM156 97h3v1h-3zM278 97h2v1h-2zM327 97h1v1h-1zM91 96h4v1h-4zM154 96h2v1h-2zM280 96h3v1h-3zM326 96h1v1h-1zM95 95h8v1h-8zM152 95h2v1h-2zM283 95h2v1h-2zM325 95h1v1h-1zM103 94h4v1h-4zM151 94h1v1h-1zM285 94h1v1h-1zM324 94h1v1h-1zM107 93h4v1h-4zM149 93h2v1h-2zM286 93h1v1h-1zM323 93h1v1h-1zM111 92h2v1h-2zM148 92h1v1h-1zM287 92h1v1h-1zM321 92h2v1h-2zM113 91h2v1h-2zM147 91h1v1h-1zM288 91h1v1h-1zM320 91h1v1h-1zM115 90h1v1h-1zM146 90h1v1h-1zM289 90h2v1h-2zM319 90h1v1h-1zM116 89h2v1h-2zM145 89h1v1h-1zM291 89h1v1h-1zM317 89h2v1h-2zM118 88h2v1h-2zM144 88h1v1h-1zM292 88h2v1h-2zM307 88h10v1h-10zM120 87h3v1h-3zM143 87h1v1h-1zM294 87h2v1h-2zM299 87h8v1h-8zM123 86h3v1h-3zM142 86h1v1h-1zM296 86h3v1h-3zM126 85h2v1h-2zM141 85h1v1h-1zM128 84h1v1h-1zM140 84h1v1h-1zM129 83h2v1h-2zM138 83h2v1h-2zM131 82h1v1h-1zM135 82h3v1h-3zM132 81h3v1h-3zM349 124h1v1h-1zM350 125h1v1h-1zM355 129h1v1h-1zM356 130h2v1h-2zM368 137h1v1h-1zM369 138h2v1h-2zM371 139h1v1h-1zM372 140h1v1h-1zM373 141h2v1h-2zM375 142h1v1h-1zM376 143h3v1h-3zM379 144h2v1h-2zM381 145h1v1h-1zM382 146h1v1h-1zM383 147h1v1h-1zM384 148h1v1h-1zM385 149h1v1h-1zM386 150h1v1h-1zM387 151h1v1h-1zM388 152h1v1h-1zM389 153h1v1h-1zM390 154h1v1h-1zM391 155h1v1h-1zM392 156h1v1h-1zM583 156h4v1h-4zM393 157h1v1h-1zM579 157h4v1h-4zM587 157h7v1h-7zM395 160h1v1h-1zM572 160h2v1h-2zM597 160h2v1h-2zM396 161h1v1h-1zM571 161h1v1h-1zM599 161h1v1h-1zM398 164h1v1h-1zM568 164h1v1h-1zM602 164h1v1h-1zM400 167h1v1h-1zM401 168h2v1h-2zM565 168h1v1h-1zM403 169h1v1h-1zM564 169h1v1h-1zM404 170h1v1h-1zM405 171h1v1h-1zM406 172h1v1h-1zM562 172h1v1h-1zM407 173h1v1h-1zM408 174h2v1h-2zM410 175h2v1h-2zM560 175h1v1h-1zM412 176h1v1h-1zM413 177h1v1h-1zM414 178h1v1h-1zM558 178h1v1h-1zM415 179h1v1h-1zM416 180h1v1h-1zM417 181h2v1h-2zM556 181h1v1h-1zM419 182h1v1h-1zM555 182h1v1h-1zM420 183h1v1h-1zM554 183h1v1h-1zM421 184h1v1h-1zM553 184h1v1h-1zM422 185h1v1h-1zM552 185h1v1h-1zM423 186h1v1h-1zM551 186h1v1h-1zM424 187h1v1h-1zM549 187h2v1h-2zM720 187h1v1h-1zM425 188h2v1h-2zM547 188h2v1h-2zM718 188h2v1h-2zM721 188h2v1h-2zM427 189h1v1h-1zM544 189h3v1h-3zM716 189h2v1h-2zM723 189h1v1h-1zM428 190h2v1h-2zM542 190h2v1h-2zM715 190h1v1h-1zM724 190h1v1h-1zM430 191h2v1h-2zM540 191h2v1h-2zM713 191h2v1h-2zM725 191h2v1h-2zM432 192h1v1h-1zM538 192h2v1h-2zM712 192h1v1h-1zM727 192h1v1h-1zM433 193h2v1h-2zM536 193h2v1h-2zM728 193h1v1h-1zM435 194h1v1h-1zM535 194h1v1h-1zM876 194h7v1h-7zM436 195h3v1h-3zM533 195h2v1h-2zM710 195h1v1h-1zM836 195h3v1h-3zM875 195h1v1h-1zM883 195h8v1h-8zM439 196h3v1h-3zM532 196h1v1h-1zM730 196h1v1h-1zM812 196h2v1h-2zM834 196h2v1h-2zM839 196h8v1h-8zM874 196h1v1h-1zM891 196h8v1h-8zM442 197h2v1h-2zM530 197h2v1h-2zM811 197h1v1h-1zM814 197h2v1h-2zM832 197h2v1h-2zM847 197h2v1h-2zM873 197h1v1h-1zM899 197h4v1h-4zM444 198h3v1h-3zM528 198h2v1h-2zM708 198h1v1h-1zM809 198h2v1h-2zM816 198h2v1h-2zM830 198h2v1h-2zM849 198h2v1h-2zM872 198h1v1h-1zM903 198h4v1h-4zM447 199h3v1h-3zM526 199h2v1h-2zM707 199h1v1h-1zM732 199h1v1h-1zM808 199h1v1h-1zM818 199h2v1h-2zM828 199h2v1h-2zM851 199h1v1h-1zM871 199h1v1h-1zM907 199h2v1h-2zM450 200h2v1h-2zM524 200h2v1h-2zM705 200h2v1h-2zM733 200h1v1h-1zM806 200h2v1h-2zM820 200h3v1h-3zM826 200h2v1h-2zM852 200h3v1h-3zM869 200h2v1h-2zM909 200h2v1h-2zM452 201h14v1h-14zM523 201h1v1h-1zM704 201h1v1h-1zM734 201h1v1h-1zM804 201h2v1h-2zM823 201h3v1h-3zM855 201h4v1h-4zM868 201h1v1h-1zM911 201h1v1h-1zM466 202h2v1h-2zM521 202h2v1h-2zM702 202h2v1h-2zM735 202h1v1h-1zM803 202h1v1h-1zM859 202h4v1h-4zM866 202h2v1h-2zM912 202h1v1h-1zM468 203h15v1h-15zM519 203h2v1h-2zM696 203h6v1h-6zM736 203h1v1h-1zM764 203h6v1h-6zM801 203h2v1h-2zM863 203h3v1h-3zM913 203h2v1h-2zM483 204h4v1h-4zM495 204h24v1h-24zM737 204h1v1h-1zM762 204h2v1h-2zM770 204h2v1h-2zM800 204h1v1h-1zM915 204h1v1h-1zM487 205h8v1h-8zM759 205h3v1h-3zM772 205h1v1h-1zM799 205h1v1h-1zM916 205h1v1h-1zM567 165h1v1h-1zM603 165h1v1h-1zM569 163h1v1h-1zM601 163h1v1h-1zM570 162h1v1h-1zM600 162h1v1h-1zM574 159h2v1h-2zM596 159h1v1h-1zM576 158h3v1h-3zM594 158h2v1h-2zM604 166h1v1h-1zM644 281h1v1h-1zM984 281h3v1h-3zM648 288h1v1h-1zM649 289h1v1h-1zM651 292h1v1h-1zM1012 292h3v1h-3zM652 293h1v1h-1zM996 293h1v1h-1zM1011 293h1v1h-1zM1015 293h3v1h-3zM656 300h5v1h-5zM1032 300h2v1h-2zM661 299h1v1h-1zM1030 299h2v1h-2zM662 298h1v1h-1zM1027 298h3v1h-3zM663 297h1v1h-1zM1024 297h3v1h-3zM694 206h1v1h-1zM756 206h3v1h-3zM773 206h1v1h-1zM798 206h1v1h-1zM917 206h1v1h-1zM739 207h1v1h-1zM755 207h1v1h-1zM774 207h1v1h-1zM797 207h1v1h-1zM918 207h1v1h-1zM740 208h1v1h-1zM753 208h2v1h-2zM775 208h1v1h-1zM796 208h1v1h-1zM919 208h1v1h-1zM741 209h1v1h-1zM752 209h1v1h-1zM776 209h2v1h-2zM795 209h1v1h-1zM920 209h1v1h-1zM743 212h1v1h-1zM747 212h2v1h-2zM782 212h2v1h-2zM787 212h4v1h-4zM924 212h1v1h-1zM744 213h3v1h-3zM784 213h3v1h-3zM925 213h2v1h-2zM749 211h2v1h-2zM780 211h2v1h-2zM791 211h2v1h-2zM923 211h1v1h-1zM751 210h1v1h-1zM778 210h2v1h-2zM793 210h2v1h-2zM921 210h2v1h-2zM927 214h1v1h-1zM928 215h1v1h-1zM929 216h1v1h-1zM931 219h1v1h-1zM932 220h3v1h-3zM935 221h2v1h-2zM937 222h2v1h-2zM939 223h1v1h-1zM940 224h1v1h-1zM941 225h1v1h-1zM943 228h1v1h-1zM944 229h1v1h-1zM958 257h1v1h-1zM960 260h1v1h-1zM961 261h2v1h-2zM963 262h1v1h-1zM964 263h1v1h-1zM965 264h1v1h-1zM966 265h1v1h-1zM967 266h1v1h-1zM968 267h1v1h-1zM969 268h1v1h-1zM970 269h1v1h-1zM971 270h1v1h-1zM972 271h1v1h-1zM973 272h2v1h-2zM975 273h1v1h-1zM976 274h1v1h-1zM977 275h1v1h-1zM978 276h1v1h-1zM979 277h1v1h-1zM980 278h1v1h-1zM981 279h2v1h-2zM983 280h1v1h-1zM987 282h2v1h-2zM989 283h1v1h-1zM991 286h1v1h-1zM992 287h1v1h-1zM994 290h1v1h-1zM997 294h2v1h-2zM1009 294h2v1h-2zM1018 294h2v1h-2zM999 295h1v1h-1zM1007 295h2v1h-2zM1020 295h2v1h-2zM1000 296h7v1h-7zM1022 296h2v1h-2zM1034 301h2v1h-2zM1036 302h1v1h-1zM1037 303h2v1h-2zM1039 304h1v1h-1zM1040 305h1v1h-1zM1041 306h1v1h-1zM1042 307h1v1h-1zM1043 308h1v1h-1zM1044 309h1v1h-1zM1045 310h2v1h-2zM1047 311h1v1h-1zM1048 312h3v1h-3zM1051 313h2v1h-2zM1053 314h2v1h-2zM1055 315h1v1h-1zM1056 316h2v1h-2zM1058 317h2v1h-2zM1060 318h2v1h-2zM1062 319h2v1h-2zM1064 320h1v1h-1zM1065 321h2v1h-2zM1067 322h1v1h-1zM1068 323h2v1h-2zM1070 324h2v1h-2zM1072 325h2v1h-2zM1074 326h2v1h-2zM1076 327h2v1h-2zM1078 328h2v1h-2zM1080 329h2v1h-2zM1082 330h2v1h-2zM1084 331h2v1h-2zM1086 332h2v1h-2zM1088 333h1v1h-1zM1089 334h1v1h-1zM1090 335h1v1h-1zM1091 336h1v1h-1zM1092 337h1v1h-1zM1093 338h1v1h-1zM1094 339h1v1h-1zM1095 340h1v1h-1zM1096 341h1v1h-1zM1097 342h1v1h-1zM1099 345h1v1h-1zM1100 346h1v1h-1zM1101 347h1v1h-1zM1103 350h1v1h-1zM1104 351h1v1h-1zM1106 354h1v1h-1zM1108 357h1v1h-1zM1110 360h1v1h-1zM1134 412h1v1h-1zM1136 415h1v1h-1zM1148 441h1v1h-1zM1149 442h1v1h-1zM1151 445h1v1h-1zM1152 446h1v1h-1zM1153 447h1v1h-1zM1154 448h1v1h-1zM1155 449h1v1h-1zM1156 450h2v1h-2zM1158 451h2v1h-2zM1160 452h2v1h-2zM1162 453h2v1h-2zM1164 454h1v1h-1zM1165 455h2v1h-2zM1167 456h1v1h-1zM1168 457h2v1h-2zM1170 458h2v1h-2zM1172 459h2v1h-2zM1174 460h2v1h-2zM1176 461h3v1h-3zM1179 462h4v1h-4zM1183 463h2v1h-2zM1185 464h1v1h-1zM1186 465h1v1h-1zM1187 466h1v1h-1zM1188 467h2v1h-2zM1190 468h2v1h-2zM1203 468h4v1h-4zM1192 469h1v1h-1zM1200 469h3v1h-3zM1207 469h3v1h-3zM1193 470h2v1h-2zM1199 470h1v1h-1zM1210 470h2v1h-2zM1195 471h1v1h-1zM1197 471h2v1h-2zM1212 471h2v1h-2zM1196 472h1v1h-1zM1214 472h2v1h-2zM1216 473h1v1h-1zM1267 473h1v1h-1zM1217 474h2v1h-2zM1260 474h7v1h-7zM1219 475h1v1h-1zM1258 475h2v1h-2zM1220 476h2v1h-2zM1255 476h3v1h-3zM1222 477h2v1h-2zM1251 477h4v1h-4zM1224 478h2v1h-2zM1247 478h4v1h-4zM1226 479h2v1h-2zM1244 479h3v1h-3zM1228 480h2v1h-2zM1243 480h1v1h-1zM1230 481h2v1h-2zM1241 481h2v1h-2zM1232 482h3v1h-3zM1239 482h2v1h-2zM1235 483h4v1h-4z" fill="#ff0000"/>
<path d="M390 125h1v2h-1zM398 134h1v2h-1zM406 143h1v2h-1zM630 198h1v2h-1zM633 202h1v2h-1zM635 205h1v2h-1zM638 209h1v2h-1zM654 224h1v2h-1zM746 223h1v2h-1zM750 218h1v2h-1zM953 219h1v2h-1zM955 222h1v2h-1zM1102 326h1v2h-1zM1110 335h1v2h-1zM1118 344h1v2h-1zM1122 349h1v2h-1zM1125 353h1v2h-1zM1127 356h1v2h-1zM1130 360h1v2h-1zM1134 365h1v2h-1zM1141 373h1v2h-1zM1143 376h1v2h-1zM1145 379h1v2h-1zM1147 382h1v2h-1zM1150 386h1v2h-1zM1170 407h1v2h-1zM1178 416h1v2h-1zM1182 421h1v2h-1zM1185 425h1v2h-1zM1187 428h1v2h-1zM1190 432h1v2h-1zM1194 437h1v2h-1zM4 156h1v1h-1zM420 156h1v1h-1zM5 155h2v1h-2zM418 155h2v1h-2zM7 154h1v1h-1zM416 154h2v1h-2zM8 153h2v1h-2zM415 153h1v1h-1zM10 152h2v1h-2zM414 152h1v1h-1zM12 151h1v1h-1zM413 151h1v1h-1zM13 150h2v1h-2zM412 150h1v1h-1zM15 149h1v1h-1zM411 149h1v1h-1zM16 148h1v1h-1zM410 148h1v1h-1zM17 147h2v1h-2zM409 147h1v1h-1zM19 146h1v1h-1zM408 146h1v1h-1zM20 145h2v1h-2zM407 145h1v1h-1zM22 144h2v1h-2zM24 143h1v1h-1zM25 142h2v1h-2zM405 142h1v1h-1zM27 141h1v1h-1zM404 141h1v1h-1zM28 140h1v1h-1zM403 140h1v1h-1zM29 139h1v1h-1zM402 139h1v1h-1zM30 138h1v1h-1zM401 138h1v1h-1zM31 137h1v1h-1zM400 137h1v1h-1zM32 136h2v1h-2zM399 136h1v1h-1zM34 135h2v1h-2zM36 134h1v1h-1zM37 133h1v1h-1zM397 133h1v1h-1zM38 132h1v1h-1zM396 132h1v1h-1zM39 131h1v1h-1zM395 131h1v1h-1zM40 130h2v1h-2zM394 130h1v1h-1zM42 129h2v1h-2zM393 129h1v1h-1zM44 128h2v1h-2zM392 128h1v1h-1zM46 127h2v1h-2zM391 127h1v1h-1zM48 126h2v1h-2zM50 125h2v1h-2zM52 124h2v1h-2zM389 124h1v1h-1zM54 123h2v1h-2zM388 123h1v1h-1zM56 122h3v1h-3zM387 122h1v1h-1zM59 121h3v1h-3zM385 121h2v1h-2zM62 120h2v1h-2zM384 120h1v1h-1zM64 119h3v1h-3zM383 119h1v1h-1zM67 118h3v1h-3zM381 118h2v1h-2zM70 117h2v1h-2zM380 117h1v1h-1zM72 116h1v1h-1zM378 116h2v1h-2zM73 115h2v1h-2zM376 115h2v1h-2zM75 114h1v1h-1zM374 114h2v1h-2zM76 113h1v1h-1zM371 113h3v1h-3zM77 112h2v1h-2zM367 112h4v1h-4zM79 111h1v1h-1zM363 111h4v1h-4zM80 110h3v1h-3zM359 110h4v1h-4zM83 109h2v1h-2zM356 109h3v1h-3zM85 108h2v1h-2zM354 108h2v1h-2zM87 107h1v1h-1zM351 107h3v1h-3zM88 106h2v1h-2zM255 106h4v1h-4zM348 106h3v1h-3zM90 105h2v1h-2zM251 105h4v1h-4zM259 105h4v1h-4zM346 105h2v1h-2zM92 104h3v1h-3zM247 104h4v1h-4zM263 104h3v1h-3zM344 104h2v1h-2zM95 103h8v1h-8zM243 103h4v1h-4zM266 103h2v1h-2zM342 103h2v1h-2zM103 102h3v1h-3zM240 102h3v1h-3zM268 102h2v1h-2zM340 102h2v1h-2zM106 101h2v1h-2zM238 101h2v1h-2zM270 101h2v1h-2zM338 101h2v1h-2zM108 100h3v1h-3zM235 100h3v1h-3zM272 100h3v1h-3zM336 100h2v1h-2zM111 99h4v1h-4zM207 99h28v1h-28zM275 99h4v1h-4zM334 99h2v1h-2zM115 98h3v1h-3zM200 98h7v1h-7zM279 98h4v1h-4zM331 98h3v1h-3zM118 97h2v1h-2zM198 97h2v1h-2zM283 97h4v1h-4zM299 97h12v1h-12zM327 97h4v1h-4zM120 96h3v1h-3zM155 96h20v1h-20zM195 96h3v1h-3zM287 96h4v1h-4zM295 96h4v1h-4zM311 96h4v1h-4zM323 96h4v1h-4zM123 95h4v1h-4zM151 95h4v1h-4zM175 95h3v1h-3zM191 95h4v1h-4zM291 95h4v1h-4zM315 95h8v1h-8zM127 94h4v1h-4zM147 94h4v1h-4zM178 94h2v1h-2zM187 94h4v1h-4zM131 93h4v1h-4zM139 93h8v1h-8zM180 93h7v1h-7zM135 92h4v1h-4zM421 157h2v1h-2zM423 158h1v1h-1zM424 159h2v1h-2zM426 160h2v1h-2zM428 161h1v1h-1zM429 162h2v1h-2zM431 163h1v1h-1zM432 164h2v1h-2zM434 165h2v1h-2zM436 166h1v1h-1zM437 167h2v1h-2zM439 168h1v1h-1zM440 169h1v1h-1zM441 170h2v1h-2zM443 171h1v1h-1zM444 172h1v1h-1zM445 173h2v1h-2zM447 174h1v1h-1zM448 175h1v1h-1zM449 176h2v1h-2zM451 177h1v1h-1zM591 177h12v1h-12zM452 178h1v1h-1zM587 178h4v1h-4zM603 178h4v1h-4zM453 179h2v1h-2zM583 179h4v1h-4zM607 179h2v1h-2zM455 180h1v1h-1zM580 180h3v1h-3zM609 180h2v1h-2zM456 181h2v1h-2zM578 181h2v1h-2zM611 181h1v1h-1zM458 182h2v1h-2zM576 182h2v1h-2zM612 182h1v1h-1zM460 183h2v1h-2zM574 183h2v1h-2zM613 183h2v1h-2zM462 184h2v1h-2zM572 184h2v1h-2zM615 184h1v1h-1zM464 185h2v1h-2zM570 185h2v1h-2zM616 185h1v1h-1zM466 186h2v1h-2zM568 186h2v1h-2zM617 186h2v1h-2zM468 187h2v1h-2zM567 187h1v1h-1zM619 187h1v1h-1zM470 188h2v1h-2zM565 188h2v1h-2zM620 188h1v1h-1zM472 189h3v1h-3zM564 189h1v1h-1zM621 189h1v1h-1zM475 190h3v1h-3zM562 190h2v1h-2zM622 190h1v1h-1zM478 191h2v1h-2zM560 191h2v1h-2zM623 191h1v1h-1zM480 192h2v1h-2zM558 192h2v1h-2zM624 192h1v1h-1zM482 193h2v1h-2zM555 193h3v1h-3zM625 193h1v1h-1zM484 194h3v1h-3zM552 194h3v1h-3zM626 194h1v1h-1zM487 195h3v1h-3zM550 195h2v1h-2zM627 195h1v1h-1zM490 196h2v1h-2zM543 196h7v1h-7zM628 196h1v1h-1zM891 196h15v1h-15zM492 197h6v1h-6zM539 197h4v1h-4zM629 197h1v1h-1zM887 197h4v1h-4zM906 197h2v1h-2zM498 198h2v1h-2zM535 198h4v1h-4zM779 198h7v1h-7zM876 198h11v1h-11zM908 198h2v1h-2zM500 199h2v1h-2zM531 199h4v1h-4zM776 199h3v1h-3zM786 199h2v1h-2zM874 199h2v1h-2zM910 199h2v1h-2zM502 200h2v1h-2zM527 200h4v1h-4zM631 200h1v1h-1zM775 200h1v1h-1zM788 200h2v1h-2zM871 200h3v1h-3zM912 200h2v1h-2zM504 201h3v1h-3zM523 201h4v1h-4zM632 201h1v1h-1zM773 201h2v1h-2zM790 201h2v1h-2zM831 201h8v1h-8zM867 201h4v1h-4zM914 201h2v1h-2zM507 202h4v1h-4zM519 202h4v1h-4zM771 202h2v1h-2zM792 202h2v1h-2zM827 202h4v1h-4zM839 202h4v1h-4zM863 202h4v1h-4zM916 202h2v1h-2zM511 203h8v1h-8zM768 203h3v1h-3zM794 203h2v1h-2zM823 203h4v1h-4zM843 203h8v1h-8zM859 203h4v1h-4zM918 203h2v1h-2zM634 204h1v1h-1zM766 204h2v1h-2zM796 204h3v1h-3zM819 204h4v1h-4zM851 204h8v1h-8zM920 204h2v1h-2zM636 207h1v1h-1zM761 207h2v1h-2zM926 207h2v1h-2zM637 208h1v1h-1zM760 208h1v1h-1zM928 208h3v1h-3zM639 211h1v1h-1zM757 211h1v1h-1zM945 211h1v1h-1zM640 212h1v1h-1zM756 212h1v1h-1zM946 212h1v1h-1zM641 213h2v1h-2zM755 213h1v1h-1zM947 213h1v1h-1zM643 214h1v1h-1zM754 214h1v1h-1zM948 214h1v1h-1zM644 215h1v1h-1zM753 215h1v1h-1zM949 215h1v1h-1zM645 216h1v1h-1zM752 216h1v1h-1zM950 216h1v1h-1zM646 217h1v1h-1zM751 217h1v1h-1zM951 217h1v1h-1zM647 218h1v1h-1zM952 218h1v1h-1zM648 219h1v1h-1zM649 220h2v1h-2zM749 220h1v1h-1zM651 221h1v1h-1zM748 221h1v1h-1zM954 221h1v1h-1zM652 222h1v1h-1zM747 222h1v1h-1zM653 223h1v1h-1zM655 226h1v1h-1zM675 226h12v1h-12zM744 226h1v1h-1zM960 226h1v1h-1zM656 227h2v1h-2zM671 227h4v1h-4zM687 227h2v1h-2zM743 227h1v1h-1zM961 227h2v1h-2zM658 228h2v1h-2zM667 228h4v1h-4zM689 228h2v1h-2zM742 228h1v1h-1zM963 228h1v1h-1zM660 229h7v1h-7zM691 229h1v1h-1zM741 229h1v1h-1zM964 229h1v1h-1zM692 230h1v1h-1zM740 230h1v1h-1zM965 230h2v1h-2zM693 231h2v1h-2zM738 231h2v1h-2zM967 231h1v1h-1zM695 232h1v1h-1zM736 232h2v1h-2zM968 232h1v1h-1zM696 233h1v1h-1zM735 233h1v1h-1zM969 233h2v1h-2zM697 234h1v1h-1zM733 234h2v1h-2zM971 234h1v1h-1zM698 235h1v1h-1zM732 235h1v1h-1zM972 235h1v1h-1zM699 236h1v1h-1zM730 236h2v1h-2zM973 236h2v1h-2zM700 237h2v1h-2zM728 237h2v1h-2zM975 237h1v1h-1zM702 238h2v1h-2zM727 238h1v1h-1zM976 238h1v1h-1zM704 239h1v1h-1zM725 239h2v1h-2zM977 239h2v1h-2zM705 240h2v1h-2zM723 240h2v1h-2zM979 240h1v1h-1zM707 241h1v1h-1zM720 241h3v1h-3zM980 241h1v1h-1zM708 242h3v1h-3zM718 242h2v1h-2zM981 242h2v1h-2zM711 243h7v1h-7zM983 243h1v1h-1zM745 225h1v1h-1zM958 225h2v1h-2zM758 210h1v1h-1zM943 210h2v1h-2zM759 209h1v1h-1zM931 209h12v1h-12zM763 206h1v1h-1zM803 206h12v1h-12zM924 206h2v1h-2zM764 205h2v1h-2zM799 205h4v1h-4zM815 205h4v1h-4zM922 205h2v1h-2zM956 224h2v1h-2zM984 244h1v1h-1zM985 245h2v1h-2zM987 246h1v1h-1zM988 247h1v1h-1zM989 248h1v1h-1zM990 249h1v1h-1zM991 250h1v1h-1zM992 251h1v1h-1zM993 252h1v1h-1zM994 253h1v1h-1zM995 254h1v1h-1zM996 255h1v1h-1zM997 256h2v1h-2zM999 257h1v1h-1zM1000 258h1v1h-1zM1001 259h2v1h-2zM1003 260h1v1h-1zM1004 261h1v1h-1zM1005 262h1v1h-1zM1006 263h1v1h-1zM1007 264h1v1h-1zM1008 265h1v1h-1zM1009 266h1v1h-1zM1010 267h1v1h-1zM1011 268h1v1h-1zM1012 269h1v1h-1zM1013 270h2v1h-2zM1015 271h1v1h-1zM1016 272h1v1h-1zM1017 273h2v1h-2zM1019 274h1v1h-1zM1020 275h1v1h-1zM1021 276h2v1h-2zM1023 277h1v1h-1zM1024 278h1v1h-1zM1025 279h2v1h-2zM1027 280h1v1h-1zM1028 281h1v1h-1zM1029 282h2v1h-2zM1031 283h1v1h-1zM1032 284h2v1h-2zM1034 285h2v1h-2zM1036 286h1v1h-1zM1037 287h2v1h-2zM1039 288h1v1h-1zM1040 289h1v1h-1zM1041 290h1v1h-1zM1042 291h1v1h-1zM1043 292h1v1h-1zM1044 293h1v1h-1zM1045 294h2v1h-2zM1047 295h1v1h-1zM1048 296h1v1h-1zM1049 297h2v1h-2zM1051 298h1v1h-1zM1052 299h1v1h-1zM1053 300h2v1h-2zM1055 301h1v1h-1zM1056 302h1v1h-1zM1057 303h2v1h-2zM1059 304h1v1h-1zM1060 305h1v1h-1zM1061 306h2v1h-2zM1063 307h1v1h-1zM1064 308h3v1h-3zM1067 309h11v1h-11zM1078 310h2v1h-2zM1080 311h2v1h-2zM1082 312h2v1h-2zM1084 313h2v1h-2zM1086 314h2v1h-2zM1088 315h2v1h-2zM1090 316h2v1h-2zM1092 317h1v1h-1zM1093 318h2v1h-2zM1095 319h1v1h-1zM1096 320h1v1h-1zM1097 321h1v1h-1zM1098 322h1v1h-1zM1099 323h1v1h-1zM1100 324h1v1h-1zM1101 325h1v1h-1zM1103 328h1v1h-1zM1104 329h1v1h-1zM1105 330h1v1h-1zM1106 331h1v1h-1zM1107 332h1v1h-1zM1108 333h1v1h-1zM1109 334h1v1h-1zM1111 337h1v1h-1zM1112 338h1v1h-1zM1113 339h1v1h-1zM1114 340h1v1h-1zM1115 341h1v1h-1zM1116 342h1v1h-1zM1117 343h1v1h-1zM1119 346h1v1h-1zM1120 347h1v1h-1zM1121 348h1v1h-1zM1123 351h1v1h-1zM1124 352h1v1h-1zM1126 355h1v1h-1zM1128 358h1v1h-1zM1129 359h1v1h-1zM1131 362h1v1h-1zM1132 363h1v1h-1zM1133 364h1v1h-1zM1135 367h1v1h-1zM1136 368h1v1h-1zM1137 369h1v1h-1zM1138 370h1v1h-1zM1139 371h1v1h-1zM1140 372h1v1h-1zM1142 375h1v1h-1zM1144 378h1v1h-1zM1146 381h1v1h-1zM1148 384h1v1h-1zM1149 385h1v1h-1zM1151 388h1v1h-1zM1152 389h1v1h-1zM1153 390h1v1h-1zM1154 391h1v1h-1zM1155 392h1v1h-1zM1156 393h1v1h-1zM1157 394h1v1h-1zM1158 395h1v1h-1zM1159 396h1v1h-1zM1160 397h1v1h-1zM1161 398h1v1h-1zM1162 399h1v1h-1zM1163 400h1v1h-1zM1164 401h1v1h-1zM1165 402h1v1h-1zM1166 403h1v1h-1zM1167 404h1v1h-1zM1168 405h1v1h-1zM1169 406h1v1h-1zM1171 409h1v1h-1zM1172 410h1v1h-1zM1173 411h1v1h-1zM1174 412h1v1h-1zM1175 413h1v1h-1zM1176 414h1v1h-1zM1177 415h1v1h-1zM1179 418h1v1h-1zM1180 419h1v1h-1zM1181 420h1v1h-1zM1183 423h1v1h-1zM1184 424h1v1h-1zM1186 427h1v1h-1zM1188 430h1v1h-1zM1189 431h1v1h-1zM1191 434h1v1h-1zM1192 435h1v1h-1zM1193 436h1v1h-1zM1195 439h1v1h-1zM1196 440h1v1h-1zM1197 441h1v1h-1zM1198 442h1v1h-1zM1199 443h1v1h-1zM1200 444h1v1h-1zM1201 445h1v1h-1zM1202 446h1v1h-1zM1203 447h1v1h-1zM1204 448h1v1h-1zM1205 449h1v1h-1zM1206 450h1v1h-1zM1207 451h1v1h-1zM1208 452h1v1h-1zM1209 453h1v1h-1zM1210 454h1v1h-1zM1211 455h1v1h-1zM1212 456h1v1h-1zM1213 457h2v1h-2zM1215 458h1v1h-1zM1216 459h1v1h-1zM1217 460h2v1h-2zM1219 461h1v1h-1zM1220 462h2v1h-2zM1222 463h2v1h-2zM1224 464h1v1h-1zM1225 465h2v1h-2zM1227 466h1v1h-1zM1228 467h1v1h-1zM1229 468h2v1h-2zM1231 469h1v1h-1zM1232 470h3v1h-3zM1235 471h4v1h-4zM1263 471h5v1h-5zM1239 472h24v1h-24z" fill="#0000cd"/>
<rect x="1597" y="33" width="2" height="1" fill="#000"/>
<text x="1602.6" y="36.9" font-size="9.6" fill="#000" textLength="32.3" lengthAdjust="spacingAndGlyphs"  stroke="#000" stroke-width="0.2">1.00660</text>
<rect x="1597" y="66" width="2" height="1" fill="#000"/>
<text x="1602.6" y="69.9" font-size="9.6" fill="#000" textLength="32.3" lengthAdjust="spacingAndGlyphs"  stroke="#000" stroke-width="0.2">0.99940</text>
<rect x="1597" y="99" width="2" height="1" fill="#000"/>
<text x="1602.6" y="102.9" font-size="9.6" fill="#000" textLength="32.3" lengthAdjust="spacingAndGlyphs"  stroke="#000" stroke-width="0.2">0.99220</text>
<rect x="1597" y="132" width="2" height="1" fill="#000"/>
<text x="1602.6" y="135.9" font-size="9.6" fill="#000" textLength="32.3" lengthAdjust="spacingAndGlyphs"  stroke="#000" stroke-width="0.2">0.98480</text>
<rect x="1597" y="165" width="2" height="1" fill="#000"/>
<text x="1602.6" y="168.9" font-size="9.6" fill="#000" textLength="32.3" lengthAdjust="spacingAndGlyphs"  stroke="#000" stroke-width="0.2">0.97760</text>
<rect x="1597" y="198" width="2" height="1" fill="#000"/>
<text x="1602.6" y="201.9" font-size="9.6" fill="#000" textLength="32.3" lengthAdjust="spacingAndGlyphs"  stroke="#000" stroke-width="0.2">0.97040</text>
<rect x="1597" y="231" width="2" height="1" fill="#000"/>
<text x="1602.6" y="234.9" font-size="9.6" fill="#000" textLength="32.3" lengthAdjust="spacingAndGlyphs"  stroke="#000" stroke-width="0.2">0.96320</text>
<rect x="1597" y="264" width="2" height="1" fill="#000"/>
<text x="1602.6" y="267.9" font-size="9.6" fill="#000" textLength="32.3" lengthAdjust="spacingAndGlyphs"  stroke="#000" stroke-width="0.2">0.95580</text>
<rect x="1597" y="297" width="2" height="1" fill="#000"/>
<text x="1602.6" y="300.9" font-size="9.6" fill="#000" textLength="32.3" lengthAdjust="spacingAndGlyphs"  stroke="#000" stroke-width="0.2">0.94860</text>
<rect x="1597" y="330" width="2" height="1" fill="#000"/>
<text x="1602.6" y="333.9" font-size="9.6" fill="#000" textLength="32.3" lengthAdjust="spacingAndGlyphs"  stroke="#000" stroke-width="0.2">0.94140</text>
<rect x="1597" y="363" width="2" height="1" fill="#000"/>
<text x="1602.6" y="366.9" font-size="9.6" fill="#000" textLength="32.3" lengthAdjust="spacingAndGlyphs"  stroke="#000" stroke-width="0.2">0.93400</text>
<rect x="1597" y="396" width="2" height="1" fill="#000"/>
<text x="1602.6" y="399.9" font-size="9.6" fill="#000" textLength="32.3" lengthAdjust="spacingAndGlyphs"  stroke="#000" stroke-width="0.2">0.92680</text>
<rect x="1597" y="429" width="2" height="1" fill="#000"/>
<text x="1602.6" y="432.9" font-size="9.6" fill="#000" textLength="32.3" lengthAdjust="spacingAndGlyphs"  stroke="#000" stroke-width="0.2">0.91960</text>
<rect x="1597" y="462" width="2" height="1" fill="#000"/>
<text x="1602.6" y="465.9" font-size="9.6" fill="#000" textLength="32.3" lengthAdjust="spacingAndGlyphs"  stroke="#000" stroke-width="0.2">0.91220</text>
<rect x="1597" y="495" width="2" height="1" fill="#000"/>
<text x="1602.6" y="498.9" font-size="9.6" fill="#000" textLength="32.3" lengthAdjust="spacingAndGlyphs"  stroke="#000" stroke-width="0.2">0.90500</text>
<rect x="1597" y="528" width="2" height="1" fill="#000"/>
<text x="1602.6" y="531.9" font-size="9.6" fill="#000" textLength="32.3" lengthAdjust="spacingAndGlyphs"  stroke="#000" stroke-width="0.2">0.89780</text>
<rect x="4" y="256" width="1592" height="2" fill="#ff0000"/>
<rect x="3" y="254" width="6" height="6" fill="#ff0000"/>
<rect x="5" y="256" width="2" height="2" fill="#fff"/>
<rect x="1590" y="254" width="6" height="6" fill="#ff0000"/>
<rect x="1592" y="256" width="2" height="2" fill="#fff"/>
<rect x="1598" y="251" width="40" height="11" fill="#ff0000"/>
<text x="1602.6" y="259.9" font-size="9.6" fill="#fff" textLength="32.3" lengthAdjust="spacingAndGlyphs"  stroke="#fff" stroke-width="0.15">0.95740</text>
<rect x="4" y="315" width="1592" height="2" fill="#ff0000"/>
<rect x="3" y="313" width="6" height="6" fill="#ff0000"/>
<rect x="5" y="315" width="2" height="2" fill="#fff"/>
<rect x="1590" y="313" width="6" height="6" fill="#ff0000"/>
<rect x="1592" y="315" width="2" height="2" fill="#fff"/>
<rect x="1598" y="310" width="40" height="11" fill="#ff0000"/>
<text x="1602.6" y="318.9" font-size="9.6" fill="#fff" textLength="32.3" lengthAdjust="spacingAndGlyphs"  stroke="#fff" stroke-width="0.15">0.94436</text>
<rect x="4" y="379" width="1592" height="2" fill="#ff0000"/>
<rect x="3" y="377" width="6" height="6" fill="#ff0000"/>
<rect x="5" y="379" width="2" height="2" fill="#fff"/>
<rect x="1590" y="377" width="6" height="6" fill="#ff0000"/>
<rect x="1592" y="379" width="2" height="2" fill="#fff"/>
<rect x="1598" y="374" width="40" height="11" fill="#ff0000"/>
<text x="1602.6" y="382.9" font-size="9.6" fill="#fff" textLength="32.3" lengthAdjust="spacingAndGlyphs"  stroke="#fff" stroke-width="0.15">0.93024</text>
<rect x="4" y="440" width="1592" height="2" fill="#00ff00"/>
<rect x="3" y="438" width="6" height="6" fill="#00ff00"/>
<rect x="5" y="440" width="2" height="2" fill="#fff"/>
<rect x="1590" y="438" width="6" height="6" fill="#00ff00"/>
<rect x="1592" y="440" width="2" height="2" fill="#fff"/>
<rect x="1598" y="435" width="40" height="11" fill="#00ff00"/>
<text x="1602.6" y="443.9" font-size="9.6" fill="#fff" textLength="32.3" lengthAdjust="spacingAndGlyphs"  stroke="#fff" stroke-width="0.15">0.91697</text>
<rect x="4" y="516" width="1592" height="2" fill="#0000ff"/>
<rect x="3" y="514" width="6" height="6" fill="#0000ff"/>
<rect x="5" y="516" width="2" height="2" fill="#fff"/>
<rect x="1590" y="514" width="6" height="6" fill="#0000ff"/>
<rect x="1592" y="516" width="2" height="2" fill="#fff"/>
<rect x="1598" y="511" width="40" height="11" fill="#0000ff"/>
<text x="1602.6" y="519.9" font-size="9.6" fill="#fff" textLength="32.3" lengthAdjust="spacingAndGlyphs"  stroke="#fff" stroke-width="0.15">0.90026</text>
<rect x="1597" y="461" width="41" height="11" fill="#000"/>
<text x="1602.6" y="469.9" font-size="9.6" fill="#fff" textLength="32.3" lengthAdjust="spacingAndGlyphs"  stroke="#fff" stroke-width="0.15">0.91147</text>
<path d="M7 33 L14.2 33 L10.6 37 Z" fill="#000" shape-rendering="geometricPrecision"/>
<text x="19.5" y="38" font-size="9.6" fill="#000" textLength="64" lengthAdjust="spacingAndGlyphs"  stroke="#000" stroke-width="0.2">USDCHF,Daily</text>
<text x="90.1" y="38" font-size="9.6" fill="#000" textLength="32.2" lengthAdjust="spacingAndGlyphs"  stroke="#000" stroke-width="0.2">0.91304</text>
<text x="126.3" y="38" font-size="9.6" fill="#000" textLength="32.2" lengthAdjust="spacingAndGlyphs"  stroke="#000" stroke-width="0.2">0.91338</text>
<text x="162.5" y="38" font-size="9.6" fill="#000" textLength="32.2" lengthAdjust="spacingAndGlyphs"  stroke="#000" stroke-width="0.2">0.91142</text>
<text x="198.7" y="38" font-size="9.6" fill="#000" textLength="32.2" lengthAdjust="spacingAndGlyphs"  stroke="#000" stroke-width="0.2">0.91147</text>
<path d="M1272 27 L1281 27 L1276.5 32 Z" fill="#b0b0b0" shape-rendering="geometricPrecision"/>
<line x1="5" y1="561.5" x2="1598" y2="561.5" stroke="#c0c0c0" stroke-width="1" stroke-dasharray="3 3"/>
<line x1="5" y1="597.5" x2="1598" y2="597.5" stroke="#c0c0c0" stroke-width="1" stroke-dasharray="3 3"/>
<path d="M17 569h1v2h-1zM20 573h1v2h-1zM62 578h1v2h-1zM76 577h1v2h-1zM77 575h1v2h-1zM78 572h1v3h-1zM79 570h1v2h-1zM80 568h1v2h-1zM81 569h1v2h-1zM82 571h1v2h-1zM83 573h1v2h-1zM135 573h1v2h-1zM136 575h1v3h-1zM137 578h1v2h-1zM138 580h1v4h-1zM139 584h1v4h-1zM140 588h1v2h-1zM152 588h1v2h-1zM155 584h1v2h-1zM181 577h1v2h-1zM184 581h1v2h-1zM187 585h1v2h-1zM200 587h1v2h-1zM201 585h1v2h-1zM202 583h1v2h-1zM203 581h1v2h-1zM221 569h1v2h-1zM222 571h1v2h-1zM223 573h1v2h-1zM229 577h1v2h-1zM230 579h1v2h-1zM231 581h1v2h-1zM250 584h1v2h-1zM260 579h1v2h-1zM261 577h1v2h-1zM262 575h1v2h-1zM263 573h1v2h-1zM292 567h1v3h-1zM293 570h1v4h-1zM294 574h1v4h-1zM295 578h1v4h-1zM296 582h1v2h-1zM297 584h1v2h-1zM298 586h1v2h-1zM299 588h1v2h-1zM300 590h1v2h-1zM335 590h1v2h-1zM351 593h1v2h-1zM358 593h1v2h-1zM359 591h1v2h-1zM378 589h1v2h-1zM381 588h1v2h-1zM382 590h1v2h-1zM383 592h1v2h-1zM418 592h1v2h-1zM452 596h1v2h-1zM453 594h1v2h-1zM454 592h1v2h-1zM455 590h1v2h-1zM488 582h1v2h-1zM489 580h1v2h-1zM490 578h1v2h-1zM491 576h1v2h-1zM496 574h1v2h-1zM497 576h1v2h-1zM498 578h1v3h-1zM499 581h1v2h-1zM500 583h1v2h-1zM501 585h1v2h-1zM503 588h1v2h-1zM514 584h1v2h-1zM515 582h1v2h-1zM517 579h1v2h-1zM573 567h1v2h-1zM574 569h1v3h-1zM575 572h1v3h-1zM576 575h1v2h-1zM591 578h1v2h-1zM592 580h1v2h-1zM593 582h1v3h-1zM594 585h1v2h-1zM595 587h1v2h-1zM596 589h1v2h-1zM605 596h1v2h-1zM607 599h1v2h-1zM623 610h1v2h-1zM637 609h1v2h-1zM638 606h1v3h-1zM639 603h1v3h-1zM640 600h1v3h-1zM641 596h1v4h-1zM642 591h1v5h-1zM643 586h1v5h-1zM644 583h1v3h-1zM653 584h1v2h-1zM656 587h1v2h-1zM657 584h1v3h-1zM658 581h1v3h-1zM659 578h1v3h-1zM660 576h1v2h-1zM661 574h1v2h-1zM664 570h1v2h-1zM678 565h1v2h-1zM688 572h1v2h-1zM689 574h1v2h-1zM690 576h1v2h-1zM691 578h1v2h-1zM693 581h1v2h-1zM695 584h1v2h-1zM702 584h1v2h-1zM754 582h1v2h-1zM808 573h1v2h-1zM809 575h1v2h-1zM810 577h1v2h-1zM811 579h1v2h-1zM812 581h1v2h-1zM813 583h1v2h-1zM814 585h1v2h-1zM815 587h1v2h-1zM824 583h1v2h-1zM825 581h1v2h-1zM826 579h1v2h-1zM827 577h1v2h-1zM839 576h1v2h-1zM876 577h1v2h-1zM877 579h1v2h-1zM878 581h1v2h-1zM879 583h1v2h-1zM881 583h1v2h-1zM884 579h1v2h-1zM905 581h1v2h-1zM907 584h1v2h-1zM933 592h1v2h-1zM934 589h1v3h-1zM935 586h1v3h-1zM936 584h1v2h-1zM946 591h1v2h-1zM948 594h1v2h-1zM956 601h1v2h-1zM957 597h1v4h-1zM958 594h1v3h-1zM959 590h1v4h-1zM960 588h1v2h-1zM1058 591h1v2h-1zM1068 592h1v2h-1zM1069 590h1v2h-1zM1070 587h1v3h-1zM1071 585h1v2h-1zM1072 583h1v2h-1zM1077 583h1v2h-1zM1078 585h1v2h-1zM1079 587h1v2h-1zM1093 594h1v2h-1zM1094 596h1v2h-1zM1128 609h1v2h-1zM1129 607h1v2h-1zM1130 605h1v2h-1zM1131 603h1v2h-1zM1133 600h1v2h-1zM1134 598h1v2h-1zM1135 596h1v2h-1zM1136 594h1v2h-1zM1141 596h1v2h-1zM1142 598h1v2h-1zM1144 601h1v2h-1zM1146 601h1v2h-1zM1147 599h1v2h-1zM1148 597h1v2h-1zM1150 594h1v2h-1zM1152 591h1v2h-1zM1189 596h1v3h-1zM1190 592h1v4h-1zM1191 588h1v4h-1zM1192 585h1v3h-1zM1198 585h1v2h-1zM1233 593h1v2h-1zM1234 591h1v2h-1zM1235 589h1v2h-1zM1236 587h1v2h-1zM1237 585h1v2h-1zM1238 583h1v2h-1zM1239 581h1v2h-1zM1246 578h1v2h-1zM1262 576h1v2h-1zM4 575h1v1h-1zM21 575h2v1h-2zM54 575h1v1h-1zM65 575h2v1h-2zM73 575h1v1h-1zM84 575h1v1h-1zM103 575h3v1h-3zM111 575h4v1h-4zM169 575h5v1h-5zM179 575h1v1h-1zM210 575h1v1h-1zM224 575h3v1h-3zM493 575h2v1h-2zM522 575h1v1h-1zM716 575h1v1h-1zM730 575h1v1h-1zM786 575h2v1h-2zM830 575h2v1h-2zM838 575h1v1h-1zM1256 575h3v1h-3zM1261 575h1v1h-1zM5 574h1v1h-1zM23 574h2v1h-2zM52 574h2v1h-2zM67 574h2v1h-2zM71 574h2v1h-2zM85 574h1v1h-1zM101 574h2v1h-2zM115 574h2v1h-2zM174 574h1v1h-1zM178 574h1v1h-1zM211 574h1v1h-1zM495 574h1v1h-1zM523 574h2v1h-2zM717 574h2v1h-2zM724 574h3v1h-3zM729 574h1v1h-1zM788 574h2v1h-2zM804 574h3v1h-3zM832 574h6v1h-6zM1259 574h2v1h-2zM6 573h1v1h-1zM25 573h7v1h-7zM51 573h1v1h-1zM69 573h2v1h-2zM86 573h1v1h-1zM99 573h2v1h-2zM117 573h3v1h-3zM175 573h1v1h-1zM177 573h1v1h-1zM212 573h2v1h-2zM525 573h2v1h-2zM662 573h1v1h-1zM719 573h1v1h-1zM722 573h2v1h-2zM727 573h2v1h-2zM790 573h2v1h-2zM802 573h2v1h-2zM807 573h1v1h-1zM7 572h1v1h-1zM19 572h1v1h-1zM32 572h3v1h-3zM45 572h6v1h-6zM87 572h1v1h-1zM97 572h2v1h-2zM120 572h2v1h-2zM126 572h4v1h-4zM134 572h1v1h-1zM176 572h1v1h-1zM214 572h1v1h-1zM264 572h1v1h-1zM527 572h2v1h-2zM541 572h5v1h-5zM663 572h1v1h-1zM720 572h2v1h-2zM792 572h10v1h-10zM8 571h4v1h-4zM18 571h1v1h-1zM35 571h2v1h-2zM44 571h1v1h-1zM88 571h1v1h-1zM95 571h2v1h-2zM122 571h4v1h-4zM130 571h2v1h-2zM133 571h1v1h-1zM215 571h1v1h-1zM265 571h2v1h-2zM529 571h12v1h-12zM546 571h2v1h-2zM686 571h2v1h-2zM12 570h3v1h-3zM37 570h2v1h-2zM42 570h2v1h-2zM89 570h6v1h-6zM132 570h1v1h-1zM216 570h2v1h-2zM267 570h7v1h-7zM548 570h1v1h-1zM684 570h2v1h-2zM15 569h1v1h-1zM39 569h1v1h-1zM41 569h1v1h-1zM218 569h2v1h-2zM274 569h2v1h-2zM549 569h1v1h-1zM665 569h1v1h-1zM682 569h2v1h-2zM16 568h1v1h-1zM40 568h1v1h-1zM220 568h1v1h-1zM276 568h15v1h-15zM550 568h1v1h-1zM666 568h1v1h-1zM680 568h2v1h-2zM55 576h1v1h-1zM64 576h1v1h-1zM74 576h1v1h-1zM106 576h5v1h-5zM167 576h2v1h-2zM180 576h1v1h-1zM208 576h2v1h-2zM227 576h2v1h-2zM492 576h1v1h-1zM520 576h2v1h-2zM577 576h4v1h-4zM715 576h1v1h-1zM731 576h1v1h-1zM782 576h4v1h-4zM828 576h2v1h-2zM861 576h6v1h-6zM1248 576h1v1h-1zM1255 576h1v1h-1zM56 577h1v1h-1zM63 577h1v1h-1zM75 577h1v1h-1zM166 577h1v1h-1zM207 577h1v1h-1zM257 577h1v1h-1zM519 577h1v1h-1zM581 577h5v1h-5zM713 577h2v1h-2zM732 577h1v1h-1zM780 577h2v1h-2zM845 577h4v1h-4zM859 577h2v1h-2zM867 577h2v1h-2zM888 577h7v1h-7zM1247 577h1v1h-1zM1249 577h2v1h-2zM1254 577h1v1h-1zM57 578h1v1h-1zM164 578h2v1h-2zM206 578h1v1h-1zM256 578h1v1h-1zM258 578h1v1h-1zM518 578h1v1h-1zM586 578h2v1h-2zM590 578h1v1h-1zM712 578h1v1h-1zM733 578h5v1h-5zM764 578h2v1h-2zM778 578h2v1h-2zM840 578h1v1h-1zM843 578h2v1h-2zM849 578h1v1h-1zM857 578h2v1h-2zM869 578h2v1h-2zM875 578h1v1h-1zM885 578h3v1h-3zM895 578h1v1h-1zM1251 578h1v1h-1zM1253 578h1v1h-1zM1263 578h1v1h-1zM58 579h1v1h-1zM163 579h1v1h-1zM182 579h1v1h-1zM205 579h1v1h-1zM255 579h1v1h-1zM259 579h1v1h-1zM588 579h2v1h-2zM710 579h2v1h-2zM738 579h2v1h-2zM763 579h1v1h-1zM766 579h2v1h-2zM771 579h3v1h-3zM776 579h2v1h-2zM841 579h2v1h-2zM850 579h2v1h-2zM856 579h1v1h-1zM871 579h2v1h-2zM874 579h1v1h-1zM896 579h1v1h-1zM1252 579h1v1h-1zM1264 579h3v1h-3zM59 580h1v1h-1zM61 580h1v1h-1zM161 580h2v1h-2zM183 580h1v1h-1zM204 580h1v1h-1zM254 580h1v1h-1zM692 580h1v1h-1zM708 580h2v1h-2zM740 580h1v1h-1zM752 580h1v1h-1zM761 580h2v1h-2zM768 580h3v1h-3zM774 580h2v1h-2zM852 580h1v1h-1zM854 580h2v1h-2zM873 580h1v1h-1zM897 580h1v1h-1zM904 580h1v1h-1zM1240 580h3v1h-3zM1245 580h1v1h-1zM1267 580h1v1h-1zM60 581h1v1h-1zM159 581h2v1h-2zM253 581h1v1h-1zM516 581h1v1h-1zM706 581h2v1h-2zM741 581h3v1h-3zM750 581h2v1h-2zM753 581h1v1h-1zM760 581h1v1h-1zM853 581h1v1h-1zM883 581h1v1h-1zM898 581h1v1h-1zM903 581h1v1h-1zM1243 581h2v1h-2zM141 589h1v1h-1zM191 589h2v1h-2zM198 589h2v1h-2zM302 589h1v1h-1zM325 589h7v1h-7zM334 589h1v1h-1zM361 589h2v1h-2zM372 589h1v1h-1zM421 589h1v1h-1zM426 589h1v1h-1zM440 589h2v1h-2zM456 589h5v1h-5zM510 589h1v1h-1zM816 589h2v1h-2zM920 589h2v1h-2zM929 589h1v1h-1zM944 589h1v1h-1zM992 589h1v1h-1zM1000 589h1v1h-1zM1036 589h2v1h-2zM1060 589h3v1h-3zM1080 589h3v1h-3zM1087 589h2v1h-2zM1159 589h1v1h-1zM1166 589h1v1h-1zM1221 589h1v1h-1zM142 590h2v1h-2zM151 590h1v1h-1zM193 590h5v1h-5zM301 590h1v1h-1zM340 590h3v1h-3zM360 590h1v1h-1zM373 590h3v1h-3zM420 590h1v1h-1zM422 590h2v1h-2zM425 590h1v1h-1zM442 590h1v1h-1zM504 590h3v1h-3zM509 590h1v1h-1zM930 590h1v1h-1zM945 590h1v1h-1zM993 590h2v1h-2zM999 590h1v1h-1zM1038 590h2v1h-2zM1059 590h1v1h-1zM1063 590h2v1h-2zM1083 590h4v1h-4zM1089 590h1v1h-1zM1153 590h2v1h-2zM1157 590h2v1h-2zM1167 590h1v1h-1zM1222 590h1v1h-1zM1228 590h1v1h-1zM144 591h3v1h-3zM149 591h2v1h-2zM339 591h1v1h-1zM343 591h2v1h-2zM353 591h1v1h-1zM376 591h2v1h-2zM412 591h1v1h-1zM419 591h1v1h-1zM424 591h1v1h-1zM443 591h1v1h-1zM507 591h2v1h-2zM597 591h2v1h-2zM931 591h1v1h-1zM995 591h1v1h-1zM997 591h2v1h-2zM1040 591h2v1h-2zM1065 591h2v1h-2zM1090 591h1v1h-1zM1155 591h2v1h-2zM1168 591h2v1h-2zM1223 591h1v1h-1zM1226 591h2v1h-2zM1229 591h1v1h-1zM147 592h2v1h-2zM336 592h1v1h-1zM338 592h1v1h-1zM345 592h1v1h-1zM352 592h1v1h-1zM354 592h1v1h-1zM411 592h1v1h-1zM413 592h1v1h-1zM444 592h1v1h-1zM599 592h1v1h-1zM932 592h1v1h-1zM996 592h1v1h-1zM1042 592h2v1h-2zM1067 592h1v1h-1zM1091 592h1v1h-1zM1170 592h2v1h-2zM1224 592h2v1h-2zM1230 592h2v1h-2zM153 587h1v1h-1zM188 587h1v1h-1zM248 587h1v1h-1zM304 587h5v1h-5zM322 587h2v1h-2zM364 587h6v1h-6zM380 587h1v1h-1zM428 587h1v1h-1zM437 587h2v1h-2zM463 587h2v1h-2zM466 587h2v1h-2zM469 587h1v1h-1zM502 587h1v1h-1zM512 587h1v1h-1zM655 587h1v1h-1zM699 587h2v1h-2zM820 587h1v1h-1zM910 587h2v1h-2zM924 587h3v1h-3zM942 587h1v1h-1zM961 587h1v1h-1zM969 587h2v1h-2zM973 587h2v1h-2zM989 587h2v1h-2zM1003 587h1v1h-1zM1011 587h2v1h-2zM1022 587h2v1h-2zM1163 587h2v1h-2zM1195 587h1v1h-1zM1197 587h1v1h-1zM1213 587h6v1h-6zM154 586h1v1h-1zM237 586h1v1h-1zM247 586h1v1h-1zM249 586h1v1h-1zM309 586h1v1h-1zM321 586h1v1h-1zM429 586h3v1h-3zM435 586h2v1h-2zM465 586h1v1h-1zM470 586h1v1h-1zM513 586h1v1h-1zM654 586h1v1h-1zM696 586h3v1h-3zM701 586h1v1h-1zM821 586h2v1h-2zM908 586h2v1h-2zM941 586h1v1h-1zM962 586h1v1h-1zM968 586h1v1h-1zM975 586h9v1h-9zM987 586h2v1h-2zM1004 586h7v1h-7zM1013 586h1v1h-1zM1020 586h2v1h-2zM1193 586h2v1h-2zM1211 586h2v1h-2zM156 583h1v1h-1zM185 583h1v1h-1zM232 583h1v1h-1zM240 583h5v1h-5zM251 583h1v1h-1zM313 583h5v1h-5zM473 583h1v1h-1zM479 583h1v1h-1zM487 583h1v1h-1zM645 583h3v1h-3zM652 583h1v1h-1zM694 583h1v1h-1zM703 583h1v1h-1zM758 583h1v1h-1zM900 583h1v1h-1zM906 583h1v1h-1zM1017 583h1v1h-1zM1073 583h4v1h-4zM1200 583h7v1h-7zM157 582h2v1h-2zM252 582h1v1h-1zM480 582h7v1h-7zM648 582h4v1h-4zM704 582h2v1h-2zM744 582h6v1h-6zM759 582h1v1h-1zM882 582h1v1h-1zM899 582h1v1h-1zM901 582h2v1h-2zM186 584h1v1h-1zM233 584h2v1h-2zM239 584h1v1h-1zM245 584h1v1h-1zM312 584h1v1h-1zM318 584h2v1h-2zM472 584h1v1h-1zM474 584h2v1h-2zM477 584h2v1h-2zM755 584h1v1h-1zM757 584h1v1h-1zM937 584h2v1h-2zM964 584h2v1h-2zM1016 584h1v1h-1zM1018 584h1v1h-1zM1199 584h1v1h-1zM1207 584h2v1h-2zM189 588h2v1h-2zM303 588h1v1h-1zM324 588h1v1h-1zM332 588h2v1h-2zM363 588h1v1h-1zM370 588h2v1h-2zM379 588h1v1h-1zM427 588h1v1h-1zM439 588h1v1h-1zM461 588h2v1h-2zM468 588h1v1h-1zM511 588h1v1h-1zM818 588h2v1h-2zM912 588h8v1h-8zM922 588h2v1h-2zM927 588h2v1h-2zM943 588h1v1h-1zM971 588h2v1h-2zM991 588h1v1h-1zM1001 588h2v1h-2zM1024 588h12v1h-12zM1160 588h3v1h-3zM1165 588h1v1h-1zM1196 588h1v1h-1zM1219 588h2v1h-2zM235 585h2v1h-2zM238 585h1v1h-1zM246 585h1v1h-1zM310 585h2v1h-2zM320 585h1v1h-1zM432 585h3v1h-3zM471 585h1v1h-1zM476 585h1v1h-1zM756 585h1v1h-1zM823 585h1v1h-1zM880 585h1v1h-1zM939 585h2v1h-2zM963 585h1v1h-1zM966 585h2v1h-2zM984 585h3v1h-3zM1014 585h2v1h-2zM1019 585h1v1h-1zM1209 585h2v1h-2zM291 567h1v1h-1zM551 567h1v1h-1zM667 567h1v1h-1zM679 567h1v1h-1zM337 593h1v1h-1zM346 593h1v1h-1zM355 593h1v1h-1zM410 593h1v1h-1zM414 593h1v1h-1zM445 593h1v1h-1zM600 593h2v1h-2zM947 593h1v1h-1zM1044 593h2v1h-2zM1052 593h6v1h-6zM1092 593h1v1h-1zM1137 593h1v1h-1zM1151 593h1v1h-1zM1172 593h9v1h-9zM1232 593h1v1h-1zM347 594h1v1h-1zM356 594h1v1h-1zM384 594h2v1h-2zM408 594h2v1h-2zM415 594h1v1h-1zM417 594h1v1h-1zM446 594h2v1h-2zM602 594h2v1h-2zM1046 594h2v1h-2zM1051 594h1v1h-1zM1138 594h2v1h-2zM1181 594h2v1h-2zM348 595h1v1h-1zM350 595h1v1h-1zM357 595h1v1h-1zM386 595h2v1h-2zM407 595h1v1h-1zM416 595h1v1h-1zM448 595h1v1h-1zM604 595h1v1h-1zM1048 595h1v1h-1zM1050 595h1v1h-1zM1140 595h1v1h-1zM1183 595h2v1h-2zM349 596h1v1h-1zM388 596h1v1h-1zM406 596h1v1h-1zM449 596h2v1h-2zM949 596h1v1h-1zM1049 596h1v1h-1zM1149 596h1v1h-1zM1185 596h2v1h-2zM389 597h1v1h-1zM405 597h1v1h-1zM451 597h1v1h-1zM950 597h2v1h-2zM1187 597h2v1h-2zM390 598h1v1h-1zM404 598h1v1h-1zM606 598h1v1h-1zM952 598h1v1h-1zM1095 598h1v1h-1zM391 599h1v1h-1zM403 599h1v1h-1zM953 599h1v1h-1zM1096 599h2v1h-2zM392 600h2v1h-2zM402 600h1v1h-1zM954 600h1v1h-1zM1098 600h1v1h-1zM1143 600h1v1h-1zM394 601h4v1h-4zM401 601h1v1h-1zM608 601h1v1h-1zM955 601h1v1h-1zM1099 601h1v1h-1zM398 602h3v1h-3zM609 602h1v1h-1zM1100 602h2v1h-2zM1132 602h1v1h-1zM552 566h1v1h-1zM563 566h2v1h-2zM572 566h1v1h-1zM668 566h1v1h-1zM553 565h10v1h-10zM565 565h2v1h-2zM571 565h1v1h-1zM669 565h1v1h-1zM567 564h2v1h-2zM570 564h1v1h-1zM670 564h4v1h-4zM677 564h1v1h-1zM569 563h1v1h-1zM674 563h3v1h-3zM610 603h1v1h-1zM1102 603h2v1h-2zM1145 603h1v1h-1zM611 604h1v1h-1zM1104 604h8v1h-8zM612 605h6v1h-6zM1112 605h2v1h-2zM618 606h2v1h-2zM1114 606h3v1h-3zM620 607h1v1h-1zM1117 607h3v1h-3zM621 608h1v1h-1zM1120 608h3v1h-3zM622 609h1v1h-1zM1123 609h4v1h-4zM624 612h1v1h-1zM635 612h1v1h-1zM625 613h5v1h-5zM634 613h1v1h-1zM630 614h2v1h-2zM633 614h1v1h-1zM632 615h1v1h-1zM636 611h1v1h-1zM1127 610h1v1h-1z" fill="#1e90ff"/>
<text x="8.4" y="545.9" font-size="9.6" fill="#000" textLength="67.8" lengthAdjust="spacingAndGlyphs"  stroke="#000" stroke-width="0.2">RSI(14) 48.9026</text>
<text x="1600.4" y="544" font-size="9.6" fill="#000" textLength="14.9328" lengthAdjust="spacingAndGlyphs"  stroke="#000" stroke-width="0.2">100</text>
<text x="1599.3" y="565.1" font-size="9.6" fill="#000" textLength="9.9552" lengthAdjust="spacingAndGlyphs"  stroke="#000" stroke-width="0.2">70</text>
<text x="1599.3" y="601.1" font-size="9.6" fill="#000" textLength="9.9552" lengthAdjust="spacingAndGlyphs"  stroke="#000" stroke-width="0.2">30</text>
<text x="1600.1" y="621.9" font-size="9.6" fill="#000" textLength="4.9776" lengthAdjust="spacingAndGlyphs"  stroke="#000" stroke-width="0.2">0</text>
<rect x="1597" y="535" width="2" height="1" fill="#000"/>
<rect x="1597" y="624" width="2" height="1" fill="#000"/>
<rect x="4" y="651" width="1" height="9" fill="#c0c0c0"/>
<rect x="8" y="650" width="1" height="10" fill="#c0c0c0"/>
<rect x="12" y="649" width="1" height="11" fill="#c0c0c0"/>
<rect x="16" y="647" width="1" height="13" fill="#c0c0c0"/>
<rect x="20" y="647" width="1" height="13" fill="#c0c0c0"/>
<rect x="24" y="646" width="1" height="14" fill="#c0c0c0"/>
<rect x="28" y="646" width="1" height="14" fill="#c0c0c0"/>
<rect x="32" y="646" width="1" height="14" fill="#c0c0c0"/>
<rect x="36" y="646" width="1" height="14" fill="#c0c0c0"/>
<rect x="40" y="646" width="1" height="14" fill="#c0c0c0"/>
<rect x="44" y="646" width="1" height="14" fill="#c0c0c0"/>
<rect x="48" y="646" width="1" height="14" fill="#c0c0c0"/>
<rect x="52" y="647" width="1" height="13" fill="#c0c0c0"/>
<rect x="56" y="648" width="1" height="12" fill="#c0c0c0"/>
<rect x="60" y="650" width="1" height="10" fill="#c0c0c0"/>
<rect x="64" y="651" width="1" height="9" fill="#c0c0c0"/>
<rect x="68" y="650" width="1" height="10" fill="#c0c0c0"/>
<rect x="72" y="650" width="1" height="10" fill="#c0c0c0"/>
<rect x="76" y="649" width="1" height="11" fill="#c0c0c0"/>
<rect x="80" y="648" width="1" height="12" fill="#c0c0c0"/>
<rect x="84" y="648" width="1" height="12" fill="#c0c0c0"/>
<rect x="88" y="648" width="1" height="12" fill="#c0c0c0"/>
<rect x="92" y="648" width="1" height="12" fill="#c0c0c0"/>
<rect x="96" y="648" width="1" height="12" fill="#c0c0c0"/>
<rect x="100" y="648" width="1" height="12" fill="#c0c0c0"/>
<rect x="104" y="648" width="1" height="12" fill="#c0c0c0"/>
<rect x="108" y="648" width="1" height="12" fill="#c0c0c0"/>
<rect x="112" y="648" width="1" height="12" fill="#c0c0c0"/>
<rect x="116" y="648" width="1" height="12" fill="#c0c0c0"/>
<rect x="120" y="648" width="1" height="12" fill="#c0c0c0"/>
<rect x="124" y="649" width="1" height="11" fill="#c0c0c0"/>
<rect x="128" y="649" width="1" height="11" fill="#c0c0c0"/>
<rect x="132" y="650" width="1" height="10" fill="#c0c0c0"/>
<rect x="136" y="650" width="1" height="10" fill="#c0c0c0"/>
<rect x="140" y="654" width="1" height="6" fill="#c0c0c0"/>
<rect x="144" y="659" width="1" height="1" fill="#c0c0c0"/>
<rect x="148" y="660" width="1" height="1" fill="#c0c0c0"/>
<rect x="152" y="660" width="1" height="2" fill="#c0c0c0"/>
<rect x="156" y="660" width="1" height="3" fill="#c0c0c0"/>
<rect x="160" y="660" width="1" height="3" fill="#c0c0c0"/>
<rect x="164" y="660" width="1" height="2" fill="#c0c0c0"/>
<rect x="168" y="660" width="1" height="1" fill="#c0c0c0"/>
<rect x="172" y="659" width="1" height="1" fill="#c0c0c0"/>
<rect x="176" y="658" width="1" height="2" fill="#c0c0c0"/>
<rect x="180" y="659" width="1" height="1" fill="#c0c0c0"/>
<rect x="184" y="659" width="1" height="1" fill="#c0c0c0"/>
<rect x="188" y="660" width="1" height="1" fill="#c0c0c0"/>
<rect x="192" y="660" width="1" height="2" fill="#c0c0c0"/>
<rect x="196" y="660" width="1" height="4" fill="#c0c0c0"/>
<rect x="200" y="660" width="1" height="5" fill="#c0c0c0"/>
<rect x="204" y="660" width="1" height="4" fill="#c0c0c0"/>
<rect x="208" y="660" width="1" height="1" fill="#c0c0c0"/>
<rect x="212" y="660" width="1" height="1" fill="#c0c0c0"/>
<rect x="216" y="658" width="1" height="2" fill="#c0c0c0"/>
<rect x="220" y="657" width="1" height="3" fill="#c0c0c0"/>
<rect x="224" y="656" width="1" height="4" fill="#c0c0c0"/>
<rect x="228" y="657" width="1" height="3" fill="#c0c0c0"/>
<rect x="232" y="659" width="1" height="1" fill="#c0c0c0"/>
<rect x="236" y="659" width="1" height="1" fill="#c0c0c0"/>
<rect x="240" y="659" width="1" height="1" fill="#c0c0c0"/>
<rect x="244" y="660" width="1" height="1" fill="#c0c0c0"/>
<rect x="248" y="660" width="1" height="1" fill="#c0c0c0"/>
<rect x="252" y="660" width="1" height="2" fill="#c0c0c0"/>
<rect x="256" y="660" width="1" height="1" fill="#c0c0c0"/>
<rect x="260" y="660" width="1" height="1" fill="#c0c0c0"/>
<rect x="264" y="659" width="1" height="1" fill="#c0c0c0"/>
<rect x="268" y="657" width="1" height="3" fill="#c0c0c0"/>
<rect x="272" y="654" width="1" height="6" fill="#c0c0c0"/>
<rect x="276" y="653" width="1" height="7" fill="#c0c0c0"/>
<rect x="280" y="652" width="1" height="8" fill="#c0c0c0"/>
<rect x="284" y="651" width="1" height="9" fill="#c0c0c0"/>
<rect x="288" y="650" width="1" height="10" fill="#c0c0c0"/>
<rect x="292" y="649" width="1" height="11" fill="#c0c0c0"/>
<rect x="296" y="653" width="1" height="7" fill="#c0c0c0"/>
<rect x="300" y="656" width="1" height="4" fill="#c0c0c0"/>
<rect x="304" y="659" width="1" height="1" fill="#c0c0c0"/>
<rect x="308" y="660" width="1" height="1" fill="#c0c0c0"/>
<rect x="312" y="660" width="1" height="1" fill="#c0c0c0"/>
<rect x="316" y="660" width="1" height="1" fill="#c0c0c0"/>
<rect x="320" y="660" width="1" height="3" fill="#c0c0c0"/>
<rect x="324" y="660" width="1" height="5" fill="#c0c0c0"/>
<rect x="328" y="660" width="1" height="6" fill="#c0c0c0"/>
<rect x="332" y="660" width="1" height="8" fill="#c0c0c0"/>
<rect x="336" y="660" width="1" height="9" fill="#c0c0c0"/>
<rect x="340" y="660" width="1" height="10" fill="#c0c0c0"/>
<rect x="344" y="660" width="1" height="11" fill="#c0c0c0"/>
<rect x="348" y="660" width="1" height="13" fill="#c0c0c0"/>
<rect x="352" y="660" width="1" height="14" fill="#c0c0c0"/>
<rect x="356" y="660" width="1" height="15" fill="#c0c0c0"/>
<rect x="360" y="660" width="1" height="15" fill="#c0c0c0"/>
<rect x="364" y="660" width="1" height="14" fill="#c0c0c0"/>
<rect x="368" y="660" width="1" height="14" fill="#c0c0c0"/>
<rect x="372" y="660" width="1" height="15" fill="#c0c0c0"/>
<rect x="376" y="660" width="1" height="15" fill="#c0c0c0"/>
<rect x="380" y="660" width="1" height="15" fill="#c0c0c0"/>
<rect x="384" y="660" width="1" height="16" fill="#c0c0c0"/>
<rect x="388" y="660" width="1" height="18" fill="#c0c0c0"/>
<rect x="392" y="660" width="1" height="20" fill="#c0c0c0"/>
<rect x="396" y="660" width="1" height="23" fill="#c0c0c0"/>
<rect x="400" y="660" width="1" height="25" fill="#c0c0c0"/>
<rect x="404" y="660" width="1" height="26" fill="#c0c0c0"/>
<rect x="408" y="660" width="1" height="25" fill="#c0c0c0"/>
<rect x="412" y="660" width="1" height="24" fill="#c0c0c0"/>
<rect x="416" y="660" width="1" height="23" fill="#c0c0c0"/>
<rect x="420" y="660" width="1" height="23" fill="#c0c0c0"/>
<rect x="424" y="660" width="1" height="21" fill="#c0c0c0"/>
<rect x="428" y="660" width="1" height="20" fill="#c0c0c0"/>
<rect x="432" y="660" width="1" height="18" fill="#c0c0c0"/>
<rect x="436" y="660" width="1" height="17" fill="#c0c0c0"/>
<rect x="440" y="660" width="1" height="16" fill="#c0c0c0"/>
<rect x="444" y="660" width="1" height="16" fill="#c0c0c0"/>
<rect x="448" y="660" width="1" height="16" fill="#c0c0c0"/>
<rect x="452" y="660" width="1" height="16" fill="#c0c0c0"/>
<rect x="456" y="660" width="1" height="16" fill="#c0c0c0"/>
<rect x="460" y="660" width="1" height="16" fill="#c0c0c0"/>
<rect x="464" y="660" width="1" height="15" fill="#c0c0c0"/>
<rect x="468" y="660" width="1" height="14" fill="#c0c0c0"/>
<rect x="472" y="660" width="1" height="13" fill="#c0c0c0"/>
<rect x="476" y="660" width="1" height="11" fill="#c0c0c0"/>
<rect x="480" y="660" width="1" height="10" fill="#c0c0c0"/>
<rect x="484" y="660" width="1" height="8" fill="#c0c0c0"/>
<rect x="488" y="660" width="1" height="6" fill="#c0c0c0"/>
<rect x="492" y="660" width="1" height="5" fill="#c0c0c0"/>
<rect x="496" y="660" width="1" height="4" fill="#c0c0c0"/>
<rect x="500" y="660" width="1" height="3" fill="#c0c0c0"/>
<rect x="504" y="660" width="1" height="6" fill="#c0c0c0"/>
<rect x="508" y="660" width="1" height="8" fill="#c0c0c0"/>
<rect x="512" y="660" width="1" height="7" fill="#c0c0c0"/>
<rect x="516" y="660" width="1" height="6" fill="#c0c0c0"/>
<rect x="520" y="660" width="1" height="4" fill="#c0c0c0"/>
<rect x="524" y="660" width="1" height="2" fill="#c0c0c0"/>
<rect x="528" y="660" width="1" height="1" fill="#c0c0c0"/>
<rect x="532" y="658" width="1" height="2" fill="#c0c0c0"/>
<rect x="536" y="656" width="1" height="4" fill="#c0c0c0"/>
<rect x="540" y="654" width="1" height="6" fill="#c0c0c0"/>
<rect x="544" y="653" width="1" height="7" fill="#c0c0c0"/>
<rect x="548" y="653" width="1" height="7" fill="#c0c0c0"/>
<rect x="552" y="650" width="1" height="10" fill="#c0c0c0"/>
<rect x="556" y="648" width="1" height="12" fill="#c0c0c0"/>
<rect x="560" y="647" width="1" height="13" fill="#c0c0c0"/>
<rect x="564" y="646" width="1" height="14" fill="#c0c0c0"/>
<rect x="568" y="645" width="1" height="15" fill="#c0c0c0"/>
<rect x="572" y="644" width="1" height="16" fill="#c0c0c0"/>
<rect x="576" y="645" width="1" height="15" fill="#c0c0c0"/>
<rect x="580" y="646" width="1" height="14" fill="#c0c0c0"/>
<rect x="584" y="649" width="1" height="11" fill="#c0c0c0"/>
<rect x="588" y="651" width="1" height="9" fill="#c0c0c0"/>
<rect x="592" y="652" width="1" height="8" fill="#c0c0c0"/>
<rect x="596" y="656" width="1" height="4" fill="#c0c0c0"/>
<rect x="600" y="659" width="1" height="1" fill="#c0c0c0"/>
<rect x="604" y="660" width="1" height="2" fill="#c0c0c0"/>
<rect x="608" y="660" width="1" height="7" fill="#c0c0c0"/>
<rect x="612" y="660" width="1" height="15" fill="#c0c0c0"/>
<rect x="616" y="660" width="1" height="19" fill="#c0c0c0"/>
<rect x="620" y="660" width="1" height="24" fill="#c0c0c0"/>
<rect x="624" y="660" width="1" height="33" fill="#c0c0c0"/>
<rect x="628" y="660" width="1" height="41" fill="#c0c0c0"/>
<rect x="632" y="660" width="1" height="48" fill="#c0c0c0"/>
<rect x="636" y="660" width="1" height="54" fill="#c0c0c0"/>
<rect x="640" y="660" width="1" height="54" fill="#c0c0c0"/>
<rect x="644" y="660" width="1" height="48" fill="#c0c0c0"/>
<rect x="648" y="660" width="1" height="41" fill="#c0c0c0"/>
<rect x="652" y="660" width="1" height="36" fill="#c0c0c0"/>
<rect x="656" y="660" width="1" height="35" fill="#c0c0c0"/>
<rect x="660" y="660" width="1" height="27" fill="#c0c0c0"/>
<rect x="664" y="660" width="1" height="17" fill="#c0c0c0"/>
<rect x="668" y="660" width="1" height="3" fill="#c0c0c0"/>
<rect x="672" y="653" width="1" height="7" fill="#c0c0c0"/>
<rect x="676" y="643" width="1" height="17" fill="#c0c0c0"/>
<rect x="680" y="638" width="1" height="22" fill="#c0c0c0"/>
<rect x="684" y="634" width="1" height="26" fill="#c0c0c0"/>
<rect x="688" y="634" width="1" height="26" fill="#c0c0c0"/>
<rect x="692" y="638" width="1" height="22" fill="#c0c0c0"/>
<rect x="696" y="647" width="1" height="13" fill="#c0c0c0"/>
<rect x="700" y="654" width="1" height="6" fill="#c0c0c0"/>
<rect x="704" y="657" width="1" height="3" fill="#c0c0c0"/>
<rect x="708" y="659" width="1" height="1" fill="#c0c0c0"/>
<rect x="712" y="659" width="1" height="1" fill="#c0c0c0"/>
<rect x="716" y="656" width="1" height="4" fill="#c0c0c0"/>
<rect x="720" y="651" width="1" height="9" fill="#c0c0c0"/>
<rect x="724" y="647" width="1" height="13" fill="#c0c0c0"/>
<rect x="728" y="646" width="1" height="14" fill="#c0c0c0"/>
<rect x="732" y="646" width="1" height="14" fill="#c0c0c0"/>
<rect x="736" y="648" width="1" height="12" fill="#c0c0c0"/>
<rect x="740" y="650" width="1" height="10" fill="#c0c0c0"/>
<rect x="744" y="653" width="1" height="7" fill="#c0c0c0"/>
<rect x="748" y="655" width="1" height="5" fill="#c0c0c0"/>
<rect x="752" y="657" width="1" height="3" fill="#c0c0c0"/>
<rect x="756" y="659" width="1" height="1" fill="#c0c0c0"/>
<rect x="760" y="659" width="1" height="1" fill="#c0c0c0"/>
<rect x="764" y="660" width="1" height="1" fill="#c0c0c0"/>
<rect x="768" y="660" width="1" height="1" fill="#c0c0c0"/>
<rect x="772" y="660" width="1" height="1" fill="#c0c0c0"/>
<rect x="776" y="659" width="1" height="1" fill="#c0c0c0"/>
<rect x="780" y="659" width="1" height="1" fill="#c0c0c0"/>
<rect x="784" y="659" width="1" height="1" fill="#c0c0c0"/>
<rect x="788" y="657" width="1" height="3" fill="#c0c0c0"/>
<rect x="792" y="654" width="1" height="6" fill="#c0c0c0"/>
<rect x="796" y="652" width="1" height="8" fill="#c0c0c0"/>
<rect x="800" y="650" width="1" height="10" fill="#c0c0c0"/>
<rect x="804" y="650" width="1" height="10" fill="#c0c0c0"/>
<rect x="808" y="649" width="1" height="11" fill="#c0c0c0"/>
<rect x="812" y="653" width="1" height="7" fill="#c0c0c0"/>
<rect x="816" y="658" width="1" height="2" fill="#c0c0c0"/>
<rect x="820" y="660" width="1" height="1" fill="#c0c0c0"/>
<rect x="824" y="660" width="1" height="1" fill="#c0c0c0"/>
<rect x="828" y="660" width="1" height="1" fill="#c0c0c0"/>
<rect x="832" y="659" width="1" height="1" fill="#c0c0c0"/>
<rect x="836" y="656" width="1" height="4" fill="#c0c0c0"/>
<rect x="840" y="656" width="1" height="4" fill="#c0c0c0"/>
<rect x="844" y="656" width="1" height="4" fill="#c0c0c0"/>
<rect x="848" y="656" width="1" height="4" fill="#c0c0c0"/>
<rect x="852" y="657" width="1" height="3" fill="#c0c0c0"/>
<rect x="856" y="657" width="1" height="3" fill="#c0c0c0"/>
<rect x="860" y="656" width="1" height="4" fill="#c0c0c0"/>
<rect x="864" y="655" width="1" height="5" fill="#c0c0c0"/>
<rect x="868" y="655" width="1" height="5" fill="#c0c0c0"/>
<rect x="872" y="655" width="1" height="5" fill="#c0c0c0"/>
<rect x="876" y="656" width="1" height="4" fill="#c0c0c0"/>
<rect x="880" y="657" width="1" height="3" fill="#c0c0c0"/>
<rect x="884" y="658" width="1" height="2" fill="#c0c0c0"/>
<rect x="888" y="658" width="1" height="2" fill="#c0c0c0"/>
<rect x="892" y="656" width="1" height="4" fill="#c0c0c0"/>
<rect x="896" y="656" width="1" height="4" fill="#c0c0c0"/>
<rect x="900" y="658" width="1" height="2" fill="#c0c0c0"/>
<rect x="904" y="659" width="1" height="1" fill="#c0c0c0"/>
<rect x="908" y="660" width="1" height="1" fill="#c0c0c0"/>
<rect x="912" y="660" width="1" height="4" fill="#c0c0c0"/>
<rect x="916" y="660" width="1" height="6" fill="#c0c0c0"/>
<rect x="920" y="660" width="1" height="8" fill="#c0c0c0"/>
<rect x="924" y="660" width="1" height="9" fill="#c0c0c0"/>
<rect x="928" y="660" width="1" height="10" fill="#c0c0c0"/>
<rect x="932" y="660" width="1" height="13" fill="#c0c0c0"/>
<rect x="936" y="660" width="1" height="11" fill="#c0c0c0"/>
<rect x="940" y="660" width="1" height="13" fill="#c0c0c0"/>
<rect x="944" y="660" width="1" height="13" fill="#c0c0c0"/>
<rect x="948" y="660" width="1" height="16" fill="#c0c0c0"/>
<rect x="952" y="660" width="1" height="22" fill="#c0c0c0"/>
<rect x="956" y="660" width="1" height="29" fill="#c0c0c0"/>
<rect x="960" y="660" width="1" height="27" fill="#c0c0c0"/>
<rect x="964" y="660" width="1" height="26" fill="#c0c0c0"/>
<rect x="968" y="660" width="1" height="26" fill="#c0c0c0"/>
<rect x="972" y="660" width="1" height="25" fill="#c0c0c0"/>
<rect x="976" y="660" width="1" height="24" fill="#c0c0c0"/>
<rect x="980" y="660" width="1" height="22" fill="#c0c0c0"/>
<rect x="984" y="660" width="1" height="21" fill="#c0c0c0"/>
<rect x="988" y="660" width="1" height="20" fill="#c0c0c0"/>
<rect x="992" y="660" width="1" height="21" fill="#c0c0c0"/>
<rect x="996" y="660" width="1" height="23" fill="#c0c0c0"/>
<rect x="1000" y="660" width="1" height="23" fill="#c0c0c0"/>
<rect x="1004" y="660" width="1" height="22" fill="#c0c0c0"/>
<rect x="1008" y="660" width="1" height="20" fill="#c0c0c0"/>
<rect x="1012" y="660" width="1" height="20" fill="#c0c0c0"/>
<rect x="1016" y="660" width="1" height="18" fill="#c0c0c0"/>
<rect x="1020" y="660" width="1" height="17" fill="#c0c0c0"/>
<rect x="1024" y="660" width="1" height="17" fill="#c0c0c0"/>
<rect x="1028" y="660" width="1" height="17" fill="#c0c0c0"/>
<rect x="1032" y="660" width="1" height="16" fill="#c0c0c0"/>
<rect x="1036" y="660" width="1" height="16" fill="#c0c0c0"/>
<rect x="1040" y="660" width="1" height="18" fill="#c0c0c0"/>
<rect x="1044" y="660" width="1" height="19" fill="#c0c0c0"/>
<rect x="1048" y="660" width="1" height="20" fill="#c0c0c0"/>
<rect x="1052" y="660" width="1" height="20" fill="#c0c0c0"/>
<rect x="1056" y="660" width="1" height="19" fill="#c0c0c0"/>
<rect x="1060" y="660" width="1" height="18" fill="#c0c0c0"/>
<rect x="1064" y="660" width="1" height="18" fill="#c0c0c0"/>
<rect x="1068" y="660" width="1" height="18" fill="#c0c0c0"/>
<rect x="1072" y="660" width="1" height="15" fill="#c0c0c0"/>
<rect x="1076" y="660" width="1" height="14" fill="#c0c0c0"/>
<rect x="1080" y="660" width="1" height="15" fill="#c0c0c0"/>
<rect x="1084" y="660" width="1" height="15" fill="#c0c0c0"/>
<rect x="1088" y="660" width="1" height="15" fill="#c0c0c0"/>
<rect x="1092" y="660" width="1" height="17" fill="#c0c0c0"/>
<rect x="1096" y="660" width="1" height="20" fill="#c0c0c0"/>
<rect x="1100" y="660" width="1" height="21" fill="#c0c0c0"/>
<rect x="1104" y="660" width="1" height="24" fill="#c0c0c0"/>
<rect x="1108" y="660" width="1" height="29" fill="#c0c0c0"/>
<rect x="1112" y="660" width="1" height="32" fill="#c0c0c0"/>
<rect x="1116" y="660" width="1" height="36" fill="#c0c0c0"/>
<rect x="1120" y="660" width="1" height="39" fill="#c0c0c0"/>
<rect x="1124" y="660" width="1" height="42" fill="#c0c0c0"/>
<rect x="1128" y="660" width="1" height="44" fill="#c0c0c0"/>
<rect x="1132" y="660" width="1" height="44" fill="#c0c0c0"/>
<rect x="1136" y="660" width="1" height="40" fill="#c0c0c0"/>
<rect x="1140" y="660" width="1" height="40" fill="#c0c0c0"/>
<rect x="1144" y="660" width="1" height="43" fill="#c0c0c0"/>
<rect x="1148" y="660" width="1" height="43" fill="#c0c0c0"/>
<rect x="1152" y="660" width="1" height="40" fill="#c0c0c0"/>
<rect x="1156" y="660" width="1" height="38" fill="#c0c0c0"/>
<rect x="1160" y="660" width="1" height="36" fill="#c0c0c0"/>
<rect x="1164" y="660" width="1" height="34" fill="#c0c0c0"/>
<rect x="1168" y="660" width="1" height="33" fill="#c0c0c0"/>
<rect x="1172" y="660" width="1" height="32" fill="#c0c0c0"/>
<rect x="1176" y="660" width="1" height="31" fill="#c0c0c0"/>
<rect x="1180" y="660" width="1" height="31" fill="#c0c0c0"/>
<rect x="1184" y="660" width="1" height="31" fill="#c0c0c0"/>
<rect x="1188" y="660" width="1" height="30" fill="#c0c0c0"/>
<rect x="1192" y="660" width="1" height="28" fill="#c0c0c0"/>
<rect x="1196" y="660" width="1" height="26" fill="#c0c0c0"/>
<rect x="1200" y="660" width="1" height="24" fill="#c0c0c0"/>
<rect x="1204" y="660" width="1" height="22" fill="#c0c0c0"/>
<rect x="1208" y="660" width="1" height="20" fill="#c0c0c0"/>
<rect x="1212" y="660" width="1" height="20" fill="#c0c0c0"/>
<rect x="1216" y="660" width="1" height="19" fill="#c0c0c0"/>
<rect x="1220" y="660" width="1" height="18" fill="#c0c0c0"/>
<rect x="1224" y="660" width="1" height="18" fill="#c0c0c0"/>
<rect x="1228" y="660" width="1" height="18" fill="#c0c0c0"/>
<rect x="1232" y="660" width="1" height="18" fill="#c0c0c0"/>
<rect x="1236" y="660" width="1" height="16" fill="#c0c0c0"/>
<rect x="1240" y="660" width="1" height="14" fill="#c0c0c0"/>
<rect x="1244" y="660" width="1" height="12" fill="#c0c0c0"/>
<rect x="1248" y="660" width="1" height="9" fill="#c0c0c0"/>
<rect x="1252" y="660" width="1" height="7" fill="#c0c0c0"/>
<rect x="1256" y="660" width="1" height="5" fill="#c0c0c0"/>
<rect x="1260" y="660" width="1" height="2" fill="#c0c0c0"/>
<rect x="1264" y="660" width="1" height="1" fill="#c0c0c0"/>
<rect x="1268" y="660" width="1" height="1" fill="#c0c0c0"/>
<path d="M616 660h1v2h-1zM622 667h1v2h-1zM626 672h1v2h-1zM630 678h1v2h-1zM638 690h1v2h-1zM671 691h1v2h-1zM674 685h1v2h-1zM677 679h1v2h-1zM680 672h1v2h-1zM682 667h1v2h-1zM685 661h1v2h-1zM688 655h1v2h-1zM4 652h2v1h-2zM149 652h2v1h-2zM293 652h2v1h-2zM298 652h3v1h-3zM304 652h3v1h-3zM558 652h1v1h-1zM730 652h1v1h-1zM734 652h3v1h-3zM812 652h3v1h-3zM818 652h3v1h-3zM824 652h2v1h-2zM6 651h1v1h-1zM148 651h1v1h-1zM605 651h2v1h-2zM724 651h1v1h-1zM728 651h2v1h-2zM740 651h3v1h-3zM758 651h3v1h-3zM10 649h2v1h-2zM142 649h1v1h-1zM693 649h1v1h-1zM12 648h1v1h-1zM16 648h3v1h-3zM82 648h3v1h-3zM88 648h3v1h-3zM94 648h3v1h-3zM100 648h3v1h-3zM106 648h1v1h-1zM120 648h1v1h-1zM124 648h3v1h-3zM130 648h3v1h-3zM136 648h3v1h-3zM568 648h3v1h-3zM599 648h2v1h-2zM694 648h1v1h-1zM717 648h2v1h-2zM22 647h3v1h-3zM28 647h1v1h-1zM71 647h2v1h-2zM76 647h3v1h-3zM107 647h2v1h-2zM112 647h3v1h-3zM118 647h2v1h-2zM574 647h3v1h-3zM580 647h1v1h-1zM598 647h1v1h-1zM716 647h1v1h-1zM29 646h2v1h-2zM34 646h1v1h-1zM66 646h1v1h-1zM70 646h1v1h-1zM581 646h2v1h-2zM586 646h3v1h-3zM592 646h3v1h-3zM712 646h1v1h-1zM35 645h2v1h-2zM40 645h3v1h-3zM46 645h3v1h-3zM52 645h3v1h-3zM58 645h3v1h-3zM64 645h2v1h-2zM698 645h1v1h-1zM710 645h2v1h-2zM143 650h2v1h-2zM562 650h3v1h-3zM604 650h1v1h-1zM692 650h1v1h-1zM722 650h2v1h-2zM746 650h3v1h-3zM752 650h3v1h-3zM154 653h1v1h-1zM292 653h1v1h-1zM310 653h3v1h-3zM556 653h2v1h-2zM764 653h2v1h-2zM806 653h3v1h-3zM826 653h1v1h-1zM155 654h2v1h-2zM287 654h2v1h-2zM316 654h1v1h-1zM610 654h1v1h-1zM689 654h1v1h-1zM766 654h1v1h-1zM800 654h3v1h-3zM160 656h1v1h-1zM282 656h1v1h-1zM551 656h2v1h-2zM612 656h1v1h-1zM770 656h3v1h-3zM795 656h2v1h-2zM836 656h2v1h-2zM866 656h2v1h-2zM886 656h1v1h-1zM890 656h3v1h-3zM161 657h2v1h-2zM280 657h2v1h-2zM322 657h2v1h-2zM550 657h1v1h-1zM776 657h1v1h-1zM790 657h1v1h-1zM794 657h1v1h-1zM838 657h1v1h-1zM842 657h3v1h-3zM848 657h3v1h-3zM854 657h3v1h-3zM860 657h3v1h-3zM896 657h3v1h-3zM902 657h3v1h-3zM166 659h2v1h-2zM232 659h3v1h-3zM256 659h3v1h-3zM268 659h3v1h-3zM546 659h1v1h-1zM914 659h2v1h-2zM168 660h1v1h-1zM172 660h3v1h-3zM178 660h3v1h-3zM184 660h3v1h-3zM190 660h3v1h-3zM196 660h3v1h-3zM202 660h3v1h-3zM226 660h3v1h-3zM262 660h3v1h-3zM328 660h2v1h-2zM544 660h2v1h-2zM686 660h1v1h-1zM916 660h1v1h-1zM208 661h3v1h-3zM214 661h3v1h-3zM220 661h3v1h-3zM330 661h1v1h-1zM920 661h2v1h-2zM238 658h3v1h-3zM244 658h3v1h-3zM250 658h3v1h-3zM274 658h3v1h-3zM324 658h1v1h-1zM777 658h2v1h-2zM782 658h3v1h-3zM788 658h2v1h-2zM908 658h3v1h-3zM286 655h1v1h-1zM317 655h2v1h-2zM611 655h1v1h-1zM830 655h3v1h-3zM868 655h1v1h-1zM872 655h3v1h-3zM878 655h3v1h-3zM884 655h2v1h-2zM334 663h2v1h-2zM926 663h1v1h-1zM336 664h1v1h-1zM532 664h3v1h-3zM927 664h2v1h-2zM340 666h3v1h-3zM520 666h3v1h-3zM621 666h1v1h-1zM683 666h1v1h-1zM932 666h3v1h-3zM346 667h2v1h-2zM509 667h2v1h-2zM514 667h3v1h-3zM938 667h1v1h-1zM348 668h1v1h-1zM502 668h3v1h-3zM508 668h1v1h-1zM939 668h2v1h-2zM352 669h3v1h-3zM498 669h1v1h-1zM358 670h1v1h-1zM496 670h2v1h-2zM944 670h3v1h-3zM359 671h2v1h-2zM492 671h1v1h-1zM1264 671h1v1h-1zM364 672h3v1h-3zM490 672h2v1h-2zM950 672h1v1h-1zM1262 672h2v1h-2zM370 673h2v1h-2zM951 673h2v1h-2zM372 674h1v1h-1zM376 674h3v1h-3zM484 674h3v1h-3zM627 674h1v1h-1zM679 674h1v1h-1zM1257 674h2v1h-2zM382 675h3v1h-3zM388 675h2v1h-2zM478 675h3v1h-3zM1095 675h2v1h-2zM1256 675h1v1h-1zM390 676h1v1h-1zM394 676h1v1h-1zM472 676h3v1h-3zM956 676h2v1h-2zM1094 676h1v1h-1zM1251 676h2v1h-2zM395 677h2v1h-2zM460 677h3v1h-3zM466 677h3v1h-3zM958 677h1v1h-1zM1034 677h3v1h-3zM1040 677h3v1h-3zM1046 677h3v1h-3zM1052 677h3v1h-3zM1082 677h3v1h-3zM1088 677h3v1h-3zM1100 677h2v1h-2zM1250 677h1v1h-1zM400 678h3v1h-3zM448 678h3v1h-3zM454 678h3v1h-3zM678 678h1v1h-1zM1023 678h2v1h-2zM1028 678h3v1h-3zM1058 678h3v1h-3zM1064 678h3v1h-3zM1070 678h3v1h-3zM1076 678h3v1h-3zM1102 678h1v1h-1zM1244 678h3v1h-3zM406 679h1v1h-1zM444 679h1v1h-1zM962 679h3v1h-3zM1017 679h2v1h-2zM1022 679h1v1h-1zM1106 679h1v1h-1zM1238 679h3v1h-3zM407 680h2v1h-2zM442 680h2v1h-2zM631 680h1v1h-1zM968 680h1v1h-1zM1010 680h3v1h-3zM1016 680h1v1h-1zM1107 680h2v1h-2zM1233 680h2v1h-2zM412 681h2v1h-2zM438 681h1v1h-1zM969 681h2v1h-2zM1004 681h3v1h-3zM1228 681h1v1h-1zM1232 681h1v1h-1zM414 682h1v1h-1zM436 682h2v1h-2zM999 682h2v1h-2zM1112 682h2v1h-2zM1226 682h2v1h-2zM418 683h3v1h-3zM430 683h3v1h-3zM974 683h3v1h-3zM998 683h1v1h-1zM1114 683h1v1h-1zM1221 683h2v1h-2zM424 684h3v1h-3zM633 684h1v1h-1zM675 684h1v1h-1zM992 684h3v1h-3zM1220 684h1v1h-1zM526 665h3v1h-3zM538 662h3v1h-3zM617 662h1v1h-1zM922 662h1v1h-1zM634 685h1v1h-1zM980 685h3v1h-3zM986 685h3v1h-3zM1214 685h3v1h-3zM635 686h1v1h-1zM1118 686h2v1h-2zM639 692h1v1h-1zM1126 692h1v1h-1zM1191 692h2v1h-2zM643 696h1v1h-1zM668 696h1v1h-1zM1174 696h1v1h-1zM644 697h1v1h-1zM667 697h1v1h-1zM1136 697h2v1h-2zM1172 697h2v1h-2zM645 698h1v1h-1zM666 698h1v1h-1zM1138 698h1v1h-1zM1167 698h2v1h-2zM649 701h2v1h-2zM663 701h1v1h-1zM1148 701h3v1h-3zM1160 701h2v1h-2zM651 702h1v1h-1zM661 702h2v1h-2zM1154 702h3v1h-3zM655 703h3v1h-3zM672 690h1v1h-1zM1197 690h2v1h-2zM699 644h2v1h-2zM706 644h1v1h-1zM704 643h2v1h-2zM1120 687h1v1h-1zM1208 687h3v1h-3zM1124 691h2v1h-2zM1196 691h1v1h-1zM1130 694h2v1h-2zM1184 694h3v1h-3zM1132 695h1v1h-1zM1178 695h3v1h-3zM1142 699h2v1h-2zM1166 699h1v1h-1zM1144 700h1v1h-1zM1162 700h1v1h-1zM1190 693h1v1h-1zM1202 689h2v1h-2zM1204 688h1v1h-1z" fill="#ff0000"/>
<text x="8.4" y="639.9" font-size="9.6" fill="#000" textLength="153.7" lengthAdjust="spacingAndGlyphs"  stroke="#000" stroke-width="0.2">MACD(12,26,9) -0.000419 -0.001882</text>
<text x="1600" y="637.9" font-size="9.6" fill="#000" textLength="37.3298" lengthAdjust="spacingAndGlyphs"  stroke="#000" stroke-width="0.2">0.005818</text>
<text x="1600" y="662.9" font-size="9.6" fill="#000" textLength="17.4194" lengthAdjust="spacingAndGlyphs"  stroke="#000" stroke-width="0.2">0.00</text>
<text x="1600" y="716" font-size="9.6" fill="#000" textLength="39.646" lengthAdjust="spacingAndGlyphs"  stroke="#000" stroke-width="0.2">-0.011514</text>
<rect x="1597" y="659" width="2" height="1" fill="#000"/>
<rect x="1597" y="629" width="2" height="1" fill="#000"/>
<rect x="1597" y="718" width="2" height="1" fill="#000"/>
<rect x="4" y="720" width="1" height="3" fill="#000"/>
<text x="3.4" y="731.9" font-size="9.6" fill="#000" textLength="46.3" lengthAdjust="spacingAndGlyphs"  stroke="#000" stroke-width="0.2">7 Sep 2019</text>
<rect x="68" y="720" width="1" height="3" fill="#000"/>
<text x="67.4" y="731.9" font-size="9.6" fill="#000" textLength="51.4" lengthAdjust="spacingAndGlyphs"  stroke="#000" stroke-width="0.2">26 Sep 2019</text>
<rect x="132" y="720" width="1" height="3" fill="#000"/>
<text x="131.4" y="731.9" font-size="9.6" fill="#000" textLength="50" lengthAdjust="spacingAndGlyphs"  stroke="#000" stroke-width="0.2">15 Oct 2019</text>
<rect x="196" y="720" width="1" height="3" fill="#000"/>
<text x="195.4" y="731.9" font-size="9.6" fill="#000" textLength="48" lengthAdjust="spacingAndGlyphs"  stroke="#000" stroke-width="0.2">2 Nov 2019</text>
<rect x="260" y="720" width="1" height="3" fill="#000"/>
<text x="259.4" y="731.9" font-size="9.6" fill="#000" textLength="53.1" lengthAdjust="spacingAndGlyphs"  stroke="#000" stroke-width="0.2">21 Nov 2019</text>
<rect x="324" y="720" width="1" height="3" fill="#000"/>
<text x="323.4" y="731.9" font-size="9.6" fill="#000" textLength="50.4" lengthAdjust="spacingAndGlyphs"  stroke="#000" stroke-width="0.2">10 Dec 2019</text>
<rect x="388" y="720" width="1" height="3" fill="#000"/>
<text x="387.4" y="731.9" font-size="9.6" fill="#000" textLength="50.7" lengthAdjust="spacingAndGlyphs"  stroke="#000" stroke-width="0.2">28 Dec 2019</text>
<rect x="452" y="720" width="1" height="3" fill="#000"/>
<text x="451.4" y="731.9" font-size="9.6" fill="#000" textLength="48" lengthAdjust="spacingAndGlyphs"  stroke="#000" stroke-width="0.2">16 Jan 2020</text>
<rect x="516" y="720" width="1" height="3" fill="#000"/>
<text x="515.4" y="731.9" font-size="9.6" fill="#000" textLength="46.8" lengthAdjust="spacingAndGlyphs"  stroke="#000" stroke-width="0.2">4 Feb 2020</text>
<rect x="580" y="720" width="1" height="3" fill="#000"/>
<text x="579.4" y="731.9" font-size="9.6" fill="#000" textLength="51" lengthAdjust="spacingAndGlyphs"  stroke="#000" stroke-width="0.2">22 Feb 2020</text>
<rect x="644" y="720" width="1" height="3" fill="#000"/>
<text x="643.4" y="731.9" font-size="9.6" fill="#000" textLength="50.7" lengthAdjust="spacingAndGlyphs"  stroke="#000" stroke-width="0.2">12 Mar 2020</text>
<rect x="708" y="720" width="1" height="3" fill="#000"/>
<text x="707.4" y="731.9" font-size="9.6" fill="#000" textLength="51" lengthAdjust="spacingAndGlyphs"  stroke="#000" stroke-width="0.2">31 Mar 2020</text>
<rect x="772" y="720" width="1" height="3" fill="#000"/>
<text x="771.4" y="731.9" font-size="9.6" fill="#000" textLength="49.7" lengthAdjust="spacingAndGlyphs"  stroke="#000" stroke-width="0.2">18 Apr 2020</text>
<rect x="836" y="720" width="1" height="3" fill="#000"/>
<text x="835.4" y="731.9" font-size="9.6" fill="#000" textLength="48.4" lengthAdjust="spacingAndGlyphs"  stroke="#000" stroke-width="0.2">7 May 2020</text>
<rect x="900" y="720" width="1" height="3" fill="#000"/>
<text x="899.4" y="731.9" font-size="9.6" fill="#000" textLength="53.4" lengthAdjust="spacingAndGlyphs"  stroke="#000" stroke-width="0.2">26 May 2020</text>
<rect x="964" y="720" width="1" height="3" fill="#000"/>
<text x="963.4" y="731.9" font-size="9.6" fill="#000" textLength="48.7" lengthAdjust="spacingAndGlyphs"  stroke="#000" stroke-width="0.2">13 Jun 2020</text>
<rect x="1028" y="720" width="1" height="3" fill="#000"/>
<text x="1027.4" y="731.9" font-size="9.6" fill="#000" textLength="41" lengthAdjust="spacingAndGlyphs"  stroke="#000" stroke-width="0.2">2 Jul 2020</text>
<rect x="1092" y="720" width="1" height="3" fill="#000"/>
<text x="1091.4" y="731.9" font-size="9.6" fill="#000" textLength="46.3" lengthAdjust="spacingAndGlyphs"  stroke="#000" stroke-width="0.2">21 Jul 2020</text>
<rect x="1156" y="720" width="1" height="3" fill="#000"/>
<text x="1155.4" y="731.9" font-size="9.6" fill="#000" textLength="47.7" lengthAdjust="spacingAndGlyphs"  stroke="#000" stroke-width="0.2">8 Aug 2020</text>
<rect x="1220" y="720" width="1" height="3" fill="#000"/>
<text x="1219.4" y="731.9" font-size="9.6" fill="#000" textLength="52" lengthAdjust="spacingAndGlyphs"  stroke="#000" stroke-width="0.2">27 Aug 2020</text>
<rect x="0" y="740" width="1638" height="25" fill="#f0f0f0"/>
<rect x="0" y="740" width="1638" height="1" fill="#e9e9e9"/>
<rect x="0" y="742" width="110" height="1" fill="#000"/>
<rect x="109" y="742" width="1" height="19" fill="#000"/>
<rect x="110" y="742" width="98" height="19" fill="#fff"/>
<rect x="109" y="760" width="100" height="1" fill="#000"/>
<rect x="208" y="742" width="1" height="19" fill="#000"/>
<rect x="208" y="742" width="1430" height="1" fill="#000"/>
<text x="16.8" y="756.6" font-size="12.2" fill="#6e6e6e" textLength="80.6" lengthAdjust="spacingAndGlyphs"  stroke="#6e6e6e" stroke-width="0.1">EURUSD,Daily</text>
<text x="119.2" y="756.6" font-size="12.2" fill="#000" textLength="78.9" lengthAdjust="spacingAndGlyphs"  stroke="#000" stroke-width="0.1">USDCHF,Daily</text>
<text x="219.9" y="756.6" font-size="12.2" fill="#6e6e6e" textLength="82.3" lengthAdjust="spacingAndGlyphs"  stroke="#6e6e6e" stroke-width="0.1">AUDUSD,Daily</text>
<text x="324" y="756.6" font-size="12.2" fill="#6e6e6e" textLength="81.3" lengthAdjust="spacingAndGlyphs"  stroke="#6e6e6e" stroke-width="0.1">USDCAD,Daily</text>
<text x="427.1" y="756.6" font-size="12.2" fill="#6e6e6e" textLength="82.6" lengthAdjust="spacingAndGlyphs"  stroke="#6e6e6e" stroke-width="0.1">USDCNH,Daily</text>
<text x="532.9" y="756.6" font-size="12.2" fill="#6e6e6e" textLength="80" lengthAdjust="spacingAndGlyphs"  stroke="#6e6e6e" stroke-width="0.1">EURUSD,Daily</text>
<text x="637.4" y="756.6" font-size="12.2" fill="#6e6e6e" textLength="67.1" lengthAdjust="spacingAndGlyphs"  stroke="#6e6e6e" stroke-width="0.1">GBPUSD,H4</text>
<text x="728" y="756.6" font-size="12.2" fill="#6e6e6e" textLength="68.9" lengthAdjust="spacingAndGlyphs"  stroke="#6e6e6e" stroke-width="0.1">XAUUSD,H1</text>
<text x="820.4" y="756.6" font-size="12.2" fill="#6e6e6e" textLength="49.3" lengthAdjust="spacingAndGlyphs"  stroke="#6e6e6e" stroke-width="0.1">HK50,H1</text>
<text x="892.6" y="756.6" font-size="12.2" fill="#6e6e6e" textLength="56.1" lengthAdjust="spacingAndGlyphs"  stroke="#6e6e6e" stroke-width="0.1">UK100,H1</text>
<text x="972.5" y="756.6" font-size="12.2" fill="#6e6e6e" textLength="56.1" lengthAdjust="spacingAndGlyphs"  stroke="#6e6e6e" stroke-width="0.1">UK100,H1</text>
<text x="1052" y="756.6" font-size="12.2" fill="#6e6e6e" textLength="56.1" lengthAdjust="spacingAndGlyphs"  stroke="#6e6e6e" stroke-width="0.1">GER30,H1</text>
<text x="1131" y="756.6" font-size="12.2" fill="#6e6e6e" textLength="54.4" lengthAdjust="spacingAndGlyphs"  stroke="#6e6e6e" stroke-width="0.1">FRA40,H1</text>
<text x="1207.2" y="756.6" font-size="12.2" fill="#6e6e6e" textLength="50.4" lengthAdjust="spacingAndGlyphs"  stroke="#6e6e6e" stroke-width="0.1">USOil,H4</text>
<text x="1278.7" y="756.6" font-size="12.2" fill="#6e6e6e" textLength="62.8" lengthAdjust="spacingAndGlyphs"  stroke="#6e6e6e" stroke-width="0.1">USDJPY,H1</text>
<text x="1362.7" y="756.6" font-size="12.2" fill="#6e6e6e" textLength="58.7" lengthAdjust="spacingAndGlyphs"  stroke="#6e6e6e" stroke-width="0.1">DJ30,Daily</text>
<text x="1442.9" y="756.6" font-size="12.2" fill="#6e6e6e" textLength="78.3" lengthAdjust="spacingAndGlyphs"  stroke="#6e6e6e" stroke-width="0.1">CHINA300,H1</text>
<text x="1543" y="756.6" font-size="12.2" fill="#6e6e6e" textLength="49.7" lengthAdjust="spacingAndGlyphs"  stroke="#6e6e6e" stroke-width="0.1">USOil,H1</text>
<rect x="313" y="745" width="1" height="14" fill="#5a5a5a"/>
<rect x="417" y="745" width="1" height="14" fill="#5a5a5a"/>
<rect x="521" y="745" width="1" height="14" fill="#5a5a5a"/>
<rect x="625" y="745" width="1" height="14" fill="#5a5a5a"/>
<rect x="717" y="745" width="1" height="14" fill="#5a5a5a"/>
<rect x="809" y="745" width="1" height="14" fill="#5a5a5a"/>
<rect x="882" y="745" width="1" height="14" fill="#5a5a5a"/>
<rect x="961" y="745" width="1" height="14" fill="#5a5a5a"/>
<rect x="1041" y="745" width="1" height="14" fill="#5a5a5a"/>
<rect x="1121" y="745" width="1" height="14" fill="#5a5a5a"/>
<rect x="1197" y="745" width="1" height="14" fill="#5a5a5a"/>
<rect x="1269" y="745" width="1" height="14" fill="#5a5a5a"/>
<rect x="1353" y="745" width="1" height="14" fill="#5a5a5a"/>
<rect x="1433" y="745" width="1" height="14" fill="#5a5a5a"/>
<rect x="1533" y="745" width="1" height="14" fill="#5a5a5a"/>
<rect x="1605" y="745" width="1" height="14" fill="#5a5a5a"/>
<path d="M1615.2 747.6 L1615.2 754.6 L1611.6 751.1 Z" fill="#a0a0a0" shape-rendering="geometricPrecision"/>
<path d="M1630.8 747.6 L1630.8 754.6 L1634.4 751.1 Z" fill="#000" shape-rendering="geometricPrecision"/>
<rect x="0" y="762" width="1638" height="1" fill="#fbfbfb"/>
</svg></body></html>
